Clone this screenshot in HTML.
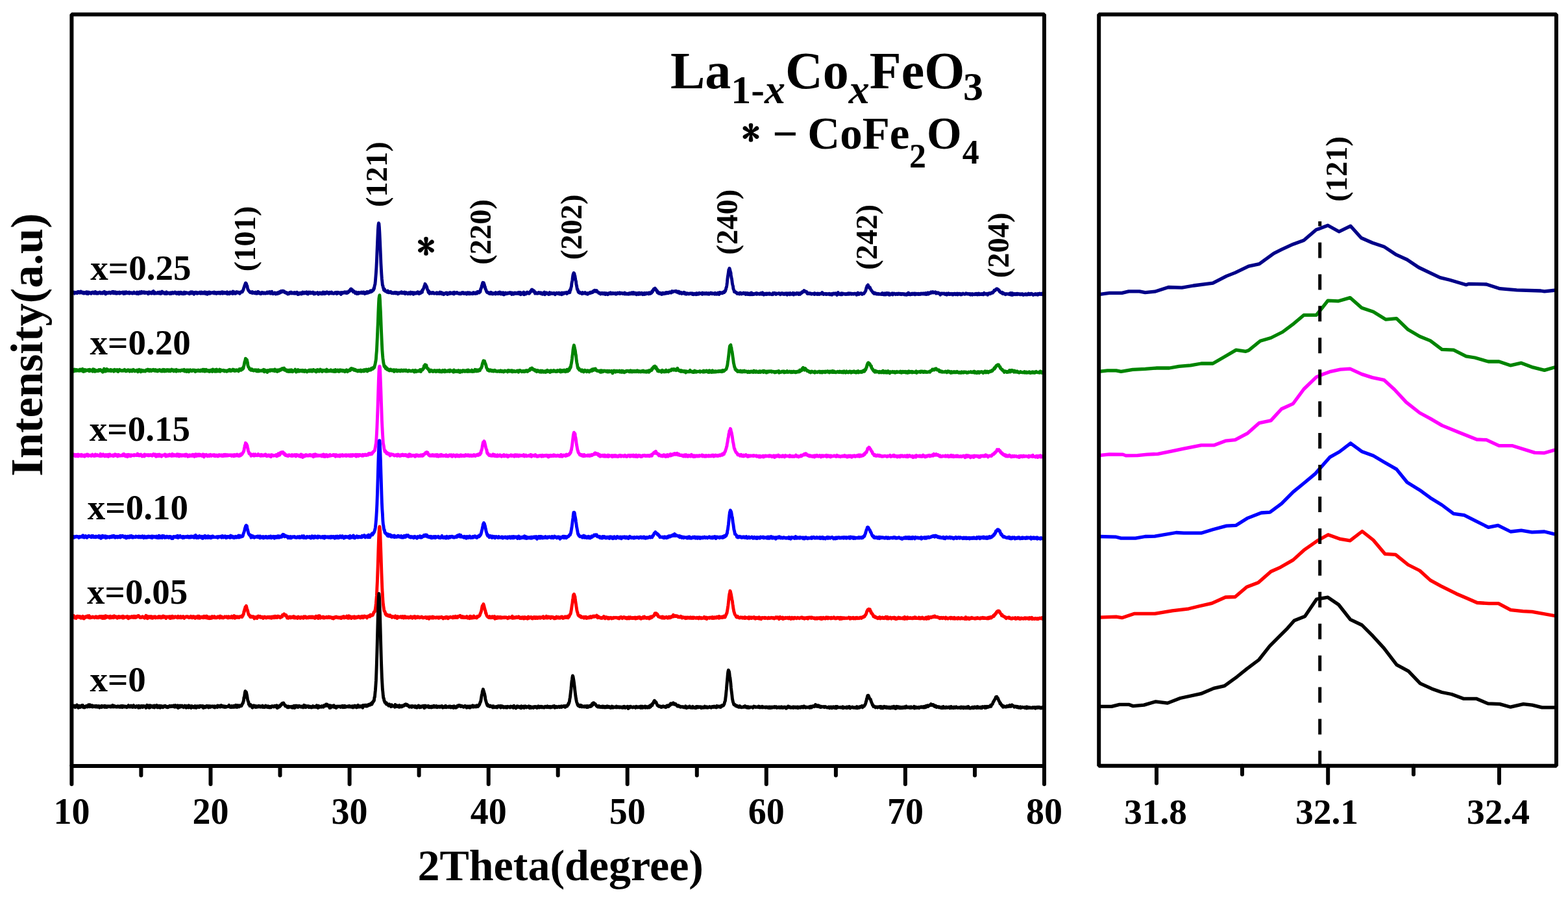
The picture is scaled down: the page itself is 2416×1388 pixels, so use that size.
<!DOCTYPE html><html><head><meta charset="utf-8"><title>XRD La1-xCoxFeO3</title><style>
html,body{margin:0;padding:0;background:#fff;width:2416px;height:1388px;overflow:hidden}
svg{display:block}text{font-family:"Liberation Serif","Times New Roman",serif;font-weight:bold;fill:#000}
</style></head><body>
<svg width="2416" height="1388" viewBox="0 0 2416 1388">
<rect width="2416" height="1388" fill="#fff"/>
<defs><clipPath id="cl"><rect x="110.4" y="22.3" width="1498.6" height="1157.7"/></clipPath>
<clipPath id="cr"><rect x="1693.2" y="22.3" width="704.8" height="1157.4"/></clipPath></defs>
<g clip-path="url(#cl)">
<polyline points="111.4,451.0 111.9,451.3 112.4,450.8 112.9,450.2 113.4,450.6 113.9,450.2 114.4,451.1 114.9,452.1 115.4,450.6 115.9,450.5 116.4,451.4 116.9,451.3 117.4,451.1 117.9,450.2 118.4,451.0 118.9,451.6 119.4,449.9 119.9,450.6 120.4,449.4 120.9,449.9 121.4,449.5 121.9,450.8 122.4,449.9 122.9,451.2 123.4,451.1 123.9,450.9 124.4,448.9 124.9,450.6 125.4,451.0 125.9,451.1 126.4,449.7 126.9,450.6 127.4,450.2 127.9,450.3 128.4,451.9 128.9,450.3 129.4,451.0 129.9,451.8 130.4,450.5 130.9,450.9 131.4,451.1 131.9,451.1 132.4,450.0 132.9,451.1 133.4,452.2 133.9,449.7 134.4,451.8 134.9,451.1 135.4,450.5 135.9,452.7 136.4,451.7 136.9,450.0 137.4,451.1 137.9,451.5 138.4,450.9 138.9,451.6 139.4,451.0 139.9,451.6 140.4,452.3 140.9,450.5 141.4,451.2 141.9,450.7 142.4,451.2 142.9,450.0 143.4,450.6 143.9,450.9 144.4,451.8 144.9,452.0 145.4,449.9 145.9,450.4 146.4,451.6 146.9,449.4 147.4,450.7 147.9,451.0 148.4,452.1 148.9,451.6 149.4,450.8 149.9,450.7 150.4,450.8 150.9,452.3 151.4,450.7 151.9,450.8 152.4,451.4 152.9,451.0 153.4,450.9 153.9,450.1 154.4,451.1 154.9,450.7 155.4,452.0 155.9,451.6 156.4,451.0 156.9,451.6 157.4,450.8 157.9,452.0 158.4,451.1 158.9,451.6 159.4,450.0 159.9,451.4 160.4,449.7 160.9,449.4 161.4,450.8 161.9,450.3 162.4,451.2 162.9,453.0 163.4,450.4 163.9,450.6 164.4,451.2 164.9,451.5 165.4,450.9 165.9,450.9 166.4,451.7 166.9,451.5 167.4,450.2 167.9,451.0 168.4,451.1 168.9,450.2 169.4,451.3 169.9,450.4 170.4,451.9 170.9,451.2 171.4,451.2 171.9,450.6 172.4,451.0 172.9,449.4 173.4,450.1 173.9,451.4 174.4,449.3 174.9,451.8 175.4,449.6 175.9,451.7 176.4,450.4 176.9,451.7 177.4,451.2 177.9,449.8 178.4,452.1 178.9,452.3 179.4,451.0 179.9,450.9 180.4,451.0 180.9,450.3 181.4,452.0 181.9,450.6 182.4,451.1 182.9,450.4 183.4,450.6 183.9,450.0 184.4,452.2 184.9,451.0 185.4,451.9 185.9,451.1 186.4,450.5 186.9,450.8 187.4,450.6 187.9,451.1 188.4,450.8 188.9,450.9 189.4,450.0 189.9,450.4 190.4,452.5 190.9,450.6 191.4,450.2 191.9,451.4 192.4,452.3 192.9,449.9 193.4,450.9 193.9,450.6 194.4,449.7 194.9,451.7 195.4,451.1 195.9,451.2 196.4,450.5 196.9,451.5 197.4,450.7 197.9,451.0 198.4,450.2 198.9,450.1 199.4,452.2 199.9,450.7 200.4,451.4 200.9,451.1 201.4,450.8 201.9,450.7 202.4,451.7 202.9,450.9 203.4,451.0 203.9,451.2 204.4,452.1 204.9,451.7 205.4,451.5 205.9,450.7 206.4,450.0 206.9,451.9 207.4,451.9 207.9,451.0 208.4,451.6 208.9,451.8 209.4,451.8 209.9,451.9 210.4,450.8 210.9,452.4 211.4,450.1 211.9,451.9 212.4,451.6 212.9,451.9 213.4,452.7 213.9,452.4 214.4,450.2 214.9,449.8 215.4,451.8 215.9,450.3 216.4,451.1 216.9,451.9 217.4,449.8 217.9,449.4 218.4,451.4 218.9,451.2 219.4,451.0 219.9,451.2 220.4,450.4 220.9,449.9 221.4,451.0 221.9,450.4 222.4,449.8 222.9,451.6 223.4,451.1 223.9,451.5 224.4,450.3 224.9,450.6 225.4,450.3 225.9,450.4 226.4,451.3 226.9,450.5 227.4,451.5 227.9,451.5 228.4,452.8 228.9,450.0 229.4,451.9 229.9,451.1 230.4,451.2 230.9,450.0 231.4,450.8 231.9,451.8 232.4,451.1 232.9,451.2 233.4,450.9 233.9,452.1 234.4,451.2 234.9,449.4 235.4,450.6 235.9,449.6 236.4,448.5 236.9,450.7 237.4,452.3 237.9,451.2 238.4,450.2 238.9,450.4 239.4,452.1 239.9,451.3 240.4,451.2 240.9,451.1 241.4,451.2 241.9,451.9 242.4,451.6 242.9,451.4 243.4,450.3 243.9,451.6 244.4,450.6 244.9,452.1 245.4,450.2 245.9,451.1 246.4,451.2 246.9,450.1 247.4,452.6 247.9,452.4 248.4,450.8 248.9,451.8 249.4,451.5 249.9,449.1 250.4,451.4 250.9,451.2 251.4,451.3 251.9,450.3 252.4,451.0 252.9,451.1 253.4,452.2 253.9,451.5 254.4,451.2 254.9,452.5 255.4,450.8 255.9,450.9 256.4,449.7 256.9,452.5 257.4,452.0 257.9,452.0 258.4,451.8 258.9,451.3 259.4,451.4 259.9,451.0 260.4,451.1 260.9,451.3 261.4,452.5 261.9,451.7 262.4,451.2 262.9,450.7 263.4,450.7 263.9,452.5 264.4,451.6 264.9,451.3 265.4,450.9 265.9,450.3 266.4,451.2 266.9,451.9 267.4,450.9 267.9,451.0 268.4,451.1 268.9,451.3 269.4,449.9 269.9,451.0 270.4,450.5 270.9,452.0 271.4,450.6 271.9,451.7 272.4,452.5 272.9,451.0 273.4,450.7 273.9,451.4 274.4,451.2 274.9,450.4 275.4,451.6 275.9,452.9 276.4,451.0 276.9,451.1 277.4,450.4 277.9,451.5 278.4,450.2 278.9,450.3 279.4,452.3 279.9,450.5 280.4,452.1 280.9,452.5 281.4,451.5 281.9,451.7 282.4,452.8 282.9,451.1 283.4,450.8 283.9,450.1 284.4,451.3 284.9,452.5 285.4,452.0 285.9,450.5 286.4,450.6 286.9,450.8 287.4,451.5 287.9,451.1 288.4,451.4 288.9,451.5 289.4,451.0 289.9,451.2 290.4,451.4 290.9,451.2 291.4,451.7 291.9,452.8 292.4,451.7 292.9,451.3 293.4,449.9 293.9,451.6 294.4,449.7 294.9,450.1 295.4,452.0 295.9,451.8 296.4,451.1 296.9,449.9 297.4,451.0 297.9,450.7 298.4,451.8 298.9,453.1 299.4,451.4 299.9,450.6 300.4,450.3 300.9,451.2 301.4,451.1 301.9,450.3 302.4,451.4 302.9,450.3 303.4,452.2 303.9,452.1 304.4,452.2 304.9,450.9 305.4,451.7 305.9,451.2 306.4,451.0 306.9,451.0 307.4,450.2 307.9,450.1 308.4,451.9 308.9,451.1 309.4,451.5 309.9,452.1 310.4,449.9 310.9,450.7 311.4,451.4 311.9,451.6 312.4,451.0 312.9,452.1 313.4,451.5 313.9,450.3 314.4,450.5 314.9,451.9 315.4,451.7 315.9,449.8 316.4,452.4 316.9,451.8 317.4,452.4 317.9,451.0 318.4,451.1 318.9,450.4 319.4,453.3 319.9,451.2 320.4,452.6 320.9,450.8 321.4,451.4 321.9,449.9 322.4,451.0 322.9,452.1 323.4,450.3 323.9,452.2 324.4,451.6 324.9,450.5 325.4,450.9 325.9,450.9 326.4,451.3 326.9,450.9 327.4,450.6 327.9,451.1 328.4,450.5 328.9,450.3 329.4,451.3 329.9,452.0 330.4,450.1 330.9,451.3 331.4,450.8 331.9,450.5 332.4,452.0 332.9,450.9 333.4,452.5 333.9,450.7 334.4,451.6 334.9,451.1 335.4,450.7 335.9,451.8 336.4,451.2 336.9,451.8 337.4,451.3 337.9,450.4 338.4,451.2 338.9,451.3 339.4,452.1 339.9,450.6 340.4,451.3 340.9,449.9 341.4,451.8 341.9,450.4 342.4,449.9 342.9,451.3 343.4,452.2 343.9,450.1 344.4,450.4 344.9,450.7 345.4,450.4 345.9,451.6 346.4,450.7 346.9,450.7 347.4,451.8 347.9,450.7 348.4,451.6 348.9,450.5 349.4,450.3 349.9,449.8 350.4,452.8 350.9,451.0 351.4,451.5 351.9,451.3 352.4,451.4 352.9,451.3 353.4,452.8 353.9,450.4 354.4,450.0 354.9,450.5 355.4,450.2 355.9,451.9 356.4,451.9 356.9,450.5 357.4,450.1 357.9,451.0 358.4,452.4 358.9,449.0 359.4,451.7 359.9,450.4 360.4,452.1 360.9,450.4 361.4,451.0 361.9,450.0 362.4,450.4 362.9,452.3 363.4,451.8 363.9,450.8 364.4,450.4 364.9,449.6 365.4,450.8 365.9,451.1 366.4,451.0 366.9,451.0 367.4,450.1 367.9,450.9 368.4,450.9 368.9,451.9 369.4,452.3 369.9,450.7 370.4,450.1 370.9,450.5 371.4,450.0 371.9,449.7 372.4,450.0 372.9,448.8 373.4,449.6 373.9,448.4 374.4,447.8 374.9,446.4 375.4,444.6 375.9,442.9 376.4,441.8 376.9,439.9 377.4,438.9 377.9,437.6 378.4,435.9 378.9,437.1 379.4,436.7 379.9,438.5 380.4,440.3 380.9,440.6 381.4,444.0 381.9,445.5 382.4,446.6 382.9,447.4 383.4,448.3 383.9,448.4 384.4,449.5 384.9,449.6 385.4,450.4 385.9,449.5 386.4,450.8 386.9,450.8 387.4,450.7 387.9,450.5 388.4,451.3 388.9,449.6 389.4,451.4 389.9,451.2 390.4,451.3 390.9,451.4 391.4,450.6 391.9,450.9 392.4,451.7 392.9,451.5 393.4,451.4 393.9,450.0 394.4,451.6 394.9,452.2 395.4,452.0 395.9,451.4 396.4,450.0 396.9,452.0 397.4,451.2 397.9,449.3 398.4,451.6 398.9,450.1 399.4,450.3 399.9,450.8 400.4,452.3 400.9,451.0 401.4,451.5 401.9,452.7 402.4,452.6 402.9,451.3 403.4,451.1 403.9,450.3 404.4,450.8 404.9,451.7 405.4,451.7 405.9,451.4 406.4,452.1 406.9,450.8 407.4,451.3 407.9,451.9 408.4,451.8 408.9,452.2 409.4,451.7 409.9,451.1 410.4,451.7 410.9,450.6 411.4,450.1 411.9,451.8 412.4,451.3 412.9,451.6 413.4,450.0 413.9,451.1 414.4,450.9 414.9,450.7 415.4,449.6 415.9,451.1 416.4,452.1 416.9,451.7 417.4,450.9 417.9,451.4 418.4,452.0 418.9,449.2 419.4,451.3 419.9,451.8 420.4,451.9 420.9,452.7 421.4,452.3 421.9,451.6 422.4,451.6 422.9,452.0 423.4,450.9 423.9,451.3 424.4,452.1 424.9,452.9 425.4,451.2 425.9,451.3 426.4,451.5 426.9,452.4 427.4,451.3 427.9,452.4 428.4,450.5 428.9,451.1 429.4,451.0 429.9,451.7 430.4,451.8 430.9,449.6 431.4,449.9 431.9,450.7 432.4,449.6 432.9,448.6 433.4,450.2 433.9,449.5 434.4,449.2 434.9,448.2 435.4,449.3 435.9,448.3 436.4,449.5 436.9,448.2 437.4,448.6 437.9,449.8 438.4,449.4 438.9,450.8 439.4,450.7 439.9,450.0 440.4,450.9 440.9,450.7 441.4,451.8 441.9,450.7 442.4,450.9 442.9,452.2 443.4,453.1 443.9,452.9 444.4,451.4 444.9,451.5 445.4,452.6 445.9,451.3 446.4,450.6 446.9,451.5 447.4,451.8 447.9,450.8 448.4,450.1 448.9,450.3 449.4,451.9 449.9,450.8 450.4,451.3 450.9,451.6 451.4,451.9 451.9,451.2 452.4,451.8 452.9,450.8 453.4,451.2 453.9,450.7 454.4,452.3 454.9,451.4 455.4,450.9 455.9,451.2 456.4,451.3 456.9,452.0 457.4,450.2 457.9,450.7 458.4,451.2 458.9,453.5 459.4,452.2 459.9,451.4 460.4,452.0 460.9,453.1 461.4,451.3 461.9,451.2 462.4,452.4 462.9,451.9 463.4,452.0 463.9,451.1 464.4,453.0 464.9,452.8 465.4,451.9 465.9,452.0 466.4,449.9 466.9,452.0 467.4,451.3 467.9,451.8 468.4,452.0 468.9,451.2 469.4,450.2 469.9,451.8 470.4,450.9 470.9,451.2 471.4,451.0 471.9,451.2 472.4,449.7 472.9,452.4 473.4,451.7 473.9,452.4 474.4,453.0 474.9,451.5 475.4,450.1 475.9,450.8 476.4,450.6 476.9,451.1 477.4,451.6 477.9,450.0 478.4,451.8 478.9,450.3 479.4,451.7 479.9,451.4 480.4,451.3 480.9,451.5 481.4,451.1 481.9,451.0 482.4,450.2 482.9,451.5 483.4,452.9 483.9,453.0 484.4,452.5 484.9,452.1 485.4,451.0 485.9,452.6 486.4,451.5 486.9,451.5 487.4,451.3 487.9,451.6 488.4,451.2 488.9,451.5 489.4,450.7 489.9,451.2 490.4,453.3 490.9,451.5 491.4,451.3 491.9,451.9 492.4,452.1 492.9,450.7 493.4,451.4 493.9,452.2 494.4,451.7 494.9,451.6 495.4,452.7 495.9,451.0 496.4,451.6 496.9,451.1 497.4,452.7 497.9,450.0 498.4,451.0 498.9,451.1 499.4,452.0 499.9,452.0 500.4,452.6 500.9,450.3 501.4,452.1 501.9,451.3 502.4,451.0 502.9,451.9 503.4,450.8 503.9,449.9 504.4,451.2 504.9,450.4 505.4,451.0 505.9,451.8 506.4,451.8 506.9,452.7 507.4,451.4 507.9,450.3 508.4,450.9 508.9,450.8 509.4,450.6 509.9,451.8 510.4,451.0 510.9,450.0 511.4,452.0 511.9,451.4 512.4,451.8 512.9,451.6 513.4,452.0 513.9,451.5 514.4,452.4 514.9,451.8 515.4,451.8 515.9,451.8 516.4,450.4 516.9,451.4 517.4,451.3 517.9,451.6 518.4,450.4 518.9,452.7 519.4,451.6 519.9,450.5 520.4,450.2 520.9,451.2 521.4,451.4 521.9,450.9 522.4,451.5 522.9,451.0 523.4,451.9 523.9,450.9 524.4,451.4 524.9,452.2 525.4,453.4 525.9,450.6 526.4,451.1 526.9,450.8 527.4,452.0 527.9,450.5 528.4,451.0 528.9,451.3 529.4,450.6 529.9,450.6 530.4,450.9 530.9,449.7 531.4,450.2 531.9,450.9 532.4,451.3 532.9,451.0 533.4,449.8 533.9,450.7 534.4,451.6 534.9,451.3 535.4,450.6 535.9,449.8 536.4,450.6 536.9,449.3 537.4,448.4 537.9,448.1 538.4,449.1 538.9,447.5 539.4,447.5 539.9,445.7 540.4,446.3 540.9,445.0 541.4,445.4 541.9,447.7 542.4,446.9 542.9,446.5 543.4,447.5 543.9,448.5 544.4,449.8 544.9,449.0 545.4,448.5 545.9,449.9 546.4,450.4 546.9,450.7 547.4,451.8 547.9,451.1 548.4,451.6 548.9,450.1 549.4,451.7 549.9,452.6 550.4,451.7 550.9,451.3 551.4,451.2 551.9,452.5 552.4,450.4 552.9,451.0 553.4,451.4 553.9,451.7 554.4,450.8 554.9,451.3 555.4,450.9 555.9,451.2 556.4,450.9 556.9,450.2 557.4,451.0 557.9,451.7 558.4,450.2 558.9,450.8 559.4,451.4 559.9,450.1 560.4,451.0 560.9,450.1 561.4,451.7 561.9,452.6 562.4,452.3 562.9,450.6 563.4,451.2 563.9,450.7 564.4,450.7 564.9,451.7 565.4,449.5 565.9,451.2 566.4,450.3 566.9,451.3 567.4,450.3 567.9,449.6 568.4,450.2 568.9,450.4 569.4,449.8 569.9,450.0 570.4,449.1 570.9,447.7 571.4,449.8 571.9,449.4 572.4,448.8 572.9,448.4 573.4,448.8 573.9,447.3 574.4,446.7 574.9,446.5 575.4,446.9 575.9,444.1 576.4,444.9 576.9,441.9 577.4,439.3 577.9,438.1 578.4,432.9 578.9,426.6 579.4,420.3 579.9,412.6 580.4,402.5 580.9,389.6 581.4,377.7 581.9,365.7 582.4,354.1 582.9,347.3 583.4,343.8 583.9,344.6 584.4,350.0 584.9,359.0 585.4,369.7 585.9,381.2 586.4,393.2 586.9,405.4 587.4,414.4 587.9,423.0 588.4,429.7 588.9,434.3 589.4,439.4 589.9,439.9 590.4,443.2 590.9,443.9 591.4,446.7 591.9,447.4 592.4,445.4 592.9,446.6 593.4,448.3 593.9,448.7 594.4,449.0 594.9,448.7 595.4,449.3 595.9,449.7 596.4,449.3 596.9,450.3 597.4,448.0 597.9,450.3 598.4,449.2 598.9,450.8 599.4,450.0 599.9,449.6 600.4,450.6 600.9,449.7 601.4,449.8 601.9,449.4 602.4,450.6 602.9,451.0 603.4,451.5 603.9,450.7 604.4,451.6 604.9,450.9 605.4,450.8 605.9,451.4 606.4,451.8 606.9,450.7 607.4,450.9 607.9,450.9 608.4,451.2 608.9,450.4 609.4,451.9 609.9,450.9 610.4,451.5 610.9,450.6 611.4,451.5 611.9,451.5 612.4,450.9 612.9,452.8 613.4,451.6 613.9,452.6 614.4,452.0 614.9,450.8 615.4,451.1 615.9,451.7 616.4,451.4 616.9,451.4 617.4,451.2 617.9,450.0 618.4,451.2 618.9,449.8 619.4,451.7 619.9,450.9 620.4,450.9 620.9,451.3 621.4,451.7 621.9,450.4 622.4,450.2 622.9,450.7 623.4,450.0 623.9,450.8 624.4,452.7 624.9,450.7 625.4,452.0 625.9,450.5 626.4,451.7 626.9,451.3 627.4,451.5 627.9,451.9 628.4,452.8 628.9,451.7 629.4,451.6 629.9,450.8 630.4,452.0 630.9,451.3 631.4,452.1 631.9,451.5 632.4,452.8 632.9,450.1 633.4,451.3 633.9,452.2 634.4,451.3 634.9,450.9 635.4,451.3 635.9,450.5 636.4,451.6 636.9,453.3 637.4,452.4 637.9,450.7 638.4,450.8 638.9,451.2 639.4,452.2 639.9,450.9 640.4,451.0 640.9,452.1 641.4,452.1 641.9,451.1 642.4,450.6 642.9,450.2 643.4,450.8 643.9,449.7 644.4,451.9 644.9,450.8 645.4,451.6 645.9,452.6 646.4,452.0 646.9,450.2 647.4,451.6 647.9,451.7 648.4,450.1 648.9,449.8 649.4,450.1 649.9,448.5 650.4,450.3 650.9,446.6 651.4,446.7 651.9,446.1 652.4,444.9 652.9,443.7 653.4,442.3 653.9,440.5 654.4,440.4 654.9,437.3 655.4,438.8 655.9,438.6 656.4,440.0 656.9,441.1 657.4,441.6 657.9,443.2 658.4,445.7 658.9,446.6 659.4,447.0 659.9,449.9 660.4,450.8 660.9,448.6 661.4,450.4 661.9,452.3 662.4,451.3 662.9,451.0 663.4,450.9 663.9,450.7 664.4,451.0 664.9,450.8 665.4,451.9 665.9,451.1 666.4,451.1 666.9,450.5 667.4,451.4 667.9,450.8 668.4,451.4 668.9,452.3 669.4,451.8 669.9,451.9 670.4,451.8 670.9,451.6 671.4,451.5 671.9,451.4 672.4,452.2 672.9,450.8 673.4,452.6 673.9,451.7 674.4,451.1 674.9,451.3 675.4,451.2 675.9,451.8 676.4,451.2 676.9,452.5 677.4,451.1 677.9,450.0 678.4,451.2 678.9,450.2 679.4,451.7 679.9,452.5 680.4,452.2 680.9,450.8 681.4,451.2 681.9,453.1 682.4,452.0 682.9,451.8 683.4,452.5 683.9,453.6 684.4,452.7 684.9,451.9 685.4,452.0 685.9,452.2 686.4,451.3 686.9,451.0 687.4,451.8 687.9,451.1 688.4,451.7 688.9,451.9 689.4,453.5 689.9,451.2 690.4,451.7 690.9,451.7 691.4,452.1 691.9,452.6 692.4,451.4 692.9,451.2 693.4,450.6 693.9,451.1 694.4,452.2 694.9,451.8 695.4,451.1 695.9,451.5 696.4,451.8 696.9,452.2 697.4,451.4 697.9,451.6 698.4,450.5 698.9,451.0 699.4,453.0 699.9,450.2 700.4,451.6 700.9,452.0 701.4,451.5 701.9,451.2 702.4,451.8 702.9,451.8 703.4,451.8 703.9,450.4 704.4,451.7 704.9,451.2 705.4,451.4 705.9,452.0 706.4,452.3 706.9,452.5 707.4,451.5 707.9,452.5 708.4,452.7 708.9,452.6 709.4,452.8 709.9,451.7 710.4,451.7 710.9,452.4 711.4,450.8 711.9,452.0 712.4,451.4 712.9,451.5 713.4,450.5 713.9,451.2 714.4,451.8 714.9,452.5 715.4,452.5 715.9,451.7 716.4,451.7 716.9,451.2 717.4,452.1 717.9,451.6 718.4,452.2 718.9,453.1 719.4,451.8 719.9,450.7 720.4,451.2 720.9,450.7 721.4,450.9 721.9,452.7 722.4,451.9 722.9,450.7 723.4,452.2 723.9,452.7 724.4,451.5 724.9,451.3 725.4,451.5 725.9,451.9 726.4,452.2 726.9,452.6 727.4,452.6 727.9,452.5 728.4,452.7 728.9,452.1 729.4,450.5 729.9,451.5 730.4,451.8 730.9,451.3 731.4,452.2 731.9,451.3 732.4,450.8 732.9,452.5 733.4,451.9 733.9,451.6 734.4,452.0 734.9,452.1 735.4,451.5 735.9,449.3 736.4,450.5 736.9,450.5 737.4,450.0 737.9,450.6 738.4,450.9 738.9,449.2 739.4,448.1 739.9,449.5 740.4,446.6 740.9,444.7 741.4,444.2 741.9,442.5 742.4,439.8 742.9,439.1 743.4,436.6 743.9,435.2 744.4,435.6 744.9,436.2 745.4,435.9 745.9,437.7 746.4,438.9 746.9,442.7 747.4,441.9 747.9,445.0 748.4,445.5 748.9,446.8 749.4,448.5 749.9,449.5 750.4,450.4 750.9,450.2 751.4,449.9 751.9,450.3 752.4,451.2 752.9,451.4 753.4,452.1 753.9,451.5 754.4,452.1 754.9,452.5 755.4,451.5 755.9,450.4 756.4,450.7 756.9,450.5 757.4,452.7 757.9,451.0 758.4,452.5 758.9,452.1 759.4,452.9 759.9,452.4 760.4,451.6 760.9,451.6 761.4,451.8 761.9,451.9 762.4,451.4 762.9,451.8 763.4,452.9 763.9,450.6 764.4,452.0 764.9,451.2 765.4,452.0 765.9,452.4 766.4,451.8 766.9,452.4 767.4,450.7 767.9,452.7 768.4,451.4 768.9,452.3 769.4,452.0 769.9,450.0 770.4,451.3 770.9,452.0 771.4,453.0 771.9,452.1 772.4,452.1 772.9,450.9 773.4,452.9 773.9,453.2 774.4,451.9 774.9,451.8 775.4,450.8 775.9,452.6 776.4,453.9 776.9,452.4 777.4,452.8 777.9,452.3 778.4,451.2 778.9,452.9 779.4,451.0 779.9,451.8 780.4,452.1 780.9,452.6 781.4,452.2 781.9,452.2 782.4,451.4 782.9,451.0 783.4,452.0 783.9,451.4 784.4,451.0 784.9,451.0 785.4,451.6 785.9,450.6 786.4,451.0 786.9,450.8 787.4,452.1 787.9,452.2 788.4,453.4 788.9,450.9 789.4,451.5 789.9,452.6 790.4,451.8 790.9,451.7 791.4,453.2 791.9,451.7 792.4,451.1 792.9,451.0 793.4,452.2 793.9,452.2 794.4,451.0 794.9,451.3 795.4,452.3 795.9,452.4 796.4,451.5 796.9,452.4 797.4,452.4 797.9,450.7 798.4,451.7 798.9,452.3 799.4,451.5 799.9,450.4 800.4,451.8 800.9,452.5 801.4,453.1 801.9,450.4 802.4,453.8 802.9,451.1 803.4,452.6 803.9,452.8 804.4,452.6 804.9,452.0 805.4,451.1 805.9,452.4 806.4,451.4 806.9,450.1 807.4,453.9 807.9,452.4 808.4,453.2 808.9,451.2 809.4,452.9 809.9,453.0 810.4,452.9 810.9,451.8 811.4,450.9 811.9,451.6 812.4,450.1 812.9,450.4 813.4,451.6 813.9,450.7 814.4,451.2 814.9,451.0 815.4,452.2 815.9,451.4 816.4,450.1 816.9,450.5 817.4,448.5 817.9,448.3 818.4,448.6 818.9,446.6 819.4,447.0 819.9,446.1 820.4,447.2 820.9,448.4 821.4,447.1 821.9,448.2 822.4,447.9 822.9,448.2 823.4,448.6 823.9,451.0 824.4,452.1 824.9,451.1 825.4,450.5 825.9,451.7 826.4,451.2 826.9,452.1 827.4,451.8 827.9,451.9 828.4,452.2 828.9,451.4 829.4,451.5 829.9,450.6 830.4,451.5 830.9,450.9 831.4,451.8 831.9,451.2 832.4,452.0 832.9,452.2 833.4,450.9 833.9,451.4 834.4,451.3 834.9,452.5 835.4,453.2 835.9,452.6 836.4,451.7 836.9,453.0 837.4,450.9 837.9,453.0 838.4,451.5 838.9,450.0 839.4,453.8 839.9,453.1 840.4,451.3 840.9,452.1 841.4,451.8 841.9,452.1 842.4,450.9 842.9,451.5 843.4,452.3 843.9,452.1 844.4,452.8 844.9,452.0 845.4,453.6 845.9,451.5 846.4,452.2 846.9,450.6 847.4,451.1 847.9,452.9 848.4,451.3 848.9,452.4 849.4,451.9 849.9,451.3 850.4,451.7 850.9,451.6 851.4,451.6 851.9,452.5 852.4,452.4 852.9,451.6 853.4,451.3 853.9,452.2 854.4,451.9 854.9,452.7 855.4,453.8 855.9,452.5 856.4,451.9 856.9,451.8 857.4,451.3 857.9,451.3 858.4,451.2 858.9,451.6 859.4,451.6 859.9,452.4 860.4,451.6 860.9,451.8 861.4,451.0 861.9,453.0 862.4,452.2 862.9,453.1 863.4,452.4 863.9,452.9 864.4,451.6 864.9,452.3 865.4,453.7 865.9,450.9 866.4,452.6 866.9,452.9 867.4,452.0 867.9,452.2 868.4,452.5 868.9,451.1 869.4,451.9 869.9,450.9 870.4,451.0 870.9,451.0 871.4,451.3 871.9,451.5 872.4,451.6 872.9,450.2 873.4,452.5 873.9,451.9 874.4,451.4 874.9,450.5 875.4,450.6 875.9,450.8 876.4,450.4 876.9,448.6 877.4,449.9 877.9,450.7 878.4,446.4 878.9,447.3 879.4,445.2 879.9,442.8 880.4,441.4 880.9,436.6 881.4,434.2 881.9,431.6 882.4,426.9 882.9,423.7 883.4,421.9 883.9,420.4 884.4,421.9 884.9,421.2 885.4,424.2 885.9,425.0 886.4,429.1 886.9,431.6 887.4,433.0 887.9,437.8 888.4,439.7 888.9,442.5 889.4,445.9 889.9,445.5 890.4,446.8 890.9,449.5 891.4,449.3 891.9,450.8 892.4,450.3 892.9,449.8 893.4,450.6 893.9,451.7 894.4,451.6 894.9,451.0 895.4,451.2 895.9,451.1 896.4,450.9 896.9,452.7 897.4,451.4 897.9,450.7 898.4,451.2 898.9,452.1 899.4,452.0 899.9,451.5 900.4,451.2 900.9,451.7 901.4,450.5 901.9,450.8 902.4,452.3 902.9,451.4 903.4,452.0 903.9,452.6 904.4,452.2 904.9,451.8 905.4,453.3 905.9,452.3 906.4,451.5 906.9,452.3 907.4,452.1 907.9,451.2 908.4,451.8 908.9,451.6 909.4,450.3 909.9,451.5 910.4,451.3 910.9,451.1 911.4,450.1 911.9,450.8 912.4,450.7 912.9,450.5 913.4,449.2 913.9,450.0 914.4,448.2 914.9,448.4 915.4,449.0 915.9,447.3 916.4,447.3 916.9,448.4 917.4,447.5 917.9,447.8 918.4,448.4 918.9,449.4 919.4,447.5 919.9,448.9 920.4,449.2 920.9,449.6 921.4,450.1 921.9,450.4 922.4,451.4 922.9,450.8 923.4,451.7 923.9,452.0 924.4,451.3 924.9,451.9 925.4,453.0 925.9,452.2 926.4,451.5 926.9,451.9 927.4,451.4 927.9,452.2 928.4,452.6 928.9,451.5 929.4,451.9 929.9,452.8 930.4,451.7 930.9,452.2 931.4,451.4 931.9,451.5 932.4,451.7 932.9,453.6 933.4,451.8 933.9,451.8 934.4,451.7 934.9,452.0 935.4,452.6 935.9,452.3 936.4,453.6 936.9,452.3 937.4,453.1 937.9,452.3 938.4,452.6 938.9,451.2 939.4,452.1 939.9,452.1 940.4,452.0 940.9,450.7 941.4,452.8 941.9,451.9 942.4,451.9 942.9,452.0 943.4,452.0 943.9,452.5 944.4,451.3 944.9,451.6 945.4,452.4 945.9,452.3 946.4,451.9 946.9,451.8 947.4,451.6 947.9,452.2 948.4,453.0 948.9,451.5 949.4,453.2 949.9,452.8 950.4,451.9 950.9,452.7 951.4,451.2 951.9,451.0 952.4,451.3 952.9,451.9 953.4,452.0 953.9,451.9 954.4,452.3 954.9,450.8 955.4,452.6 955.9,451.3 956.4,451.8 956.9,451.9 957.4,451.4 957.9,451.3 958.4,451.5 958.9,452.2 959.4,452.6 959.9,452.6 960.4,451.6 960.9,451.7 961.4,451.6 961.9,452.5 962.4,450.9 962.9,453.1 963.4,451.9 963.9,451.7 964.4,452.5 964.9,452.9 965.4,452.5 965.9,453.0 966.4,452.3 966.9,453.1 967.4,453.1 967.9,452.2 968.4,453.2 968.9,452.4 969.4,452.3 969.9,451.6 970.4,452.1 970.9,452.8 971.4,451.4 971.9,452.7 972.4,452.5 972.9,452.4 973.4,450.8 973.9,452.2 974.4,452.7 974.9,451.7 975.4,452.3 975.9,450.6 976.4,452.7 976.9,451.8 977.4,452.8 977.9,451.0 978.4,452.7 978.9,452.1 979.4,452.8 979.9,451.6 980.4,451.8 980.9,453.8 981.4,451.7 981.9,451.8 982.4,452.1 982.9,451.5 983.4,453.0 983.9,453.4 984.4,451.8 984.9,451.1 985.4,453.0 985.9,453.0 986.4,452.8 986.9,453.0 987.4,451.6 987.9,452.1 988.4,451.3 988.9,451.3 989.4,452.9 989.9,451.8 990.4,453.7 990.9,452.2 991.4,451.8 991.9,452.7 992.4,453.4 992.9,452.5 993.4,451.4 993.9,452.4 994.4,453.1 994.9,451.8 995.4,451.6 995.9,452.8 996.4,452.2 996.9,451.4 997.4,451.8 997.9,451.5 998.4,452.2 998.9,452.1 999.4,452.8 999.9,452.4 1000.4,450.8 1000.9,452.1 1001.4,452.4 1001.9,452.0 1002.4,452.2 1002.9,450.9 1003.4,450.4 1003.9,451.3 1004.4,449.5 1004.9,448.2 1005.4,449.7 1005.9,447.8 1006.4,447.2 1006.9,445.7 1007.4,445.1 1007.9,444.7 1008.4,445.0 1008.9,445.5 1009.4,444.0 1009.9,446.3 1010.4,445.5 1010.9,446.1 1011.4,447.8 1011.9,448.0 1012.4,447.7 1012.9,450.5 1013.4,449.3 1013.9,450.5 1014.4,450.8 1014.9,452.0 1015.4,451.0 1015.9,452.1 1016.4,451.1 1016.9,452.4 1017.4,451.3 1017.9,451.6 1018.4,453.1 1018.9,452.1 1019.4,452.0 1019.9,453.4 1020.4,452.2 1020.9,451.4 1021.4,452.4 1021.9,451.2 1022.4,452.7 1022.9,452.7 1023.4,451.5 1023.9,451.5 1024.4,452.0 1024.9,451.9 1025.4,451.2 1025.9,452.2 1026.4,450.4 1026.9,451.4 1027.4,451.4 1027.9,451.4 1028.4,451.7 1028.9,450.6 1029.4,451.7 1029.9,451.1 1030.4,450.7 1030.9,450.1 1031.4,450.0 1031.9,450.9 1032.4,449.9 1032.9,450.4 1033.4,450.9 1033.9,450.7 1034.4,450.9 1034.9,449.4 1035.4,448.7 1035.9,450.0 1036.4,449.3 1036.9,449.7 1037.4,448.8 1037.9,449.4 1038.4,449.1 1038.9,448.9 1039.4,448.7 1039.9,448.6 1040.4,448.5 1040.9,448.6 1041.4,449.2 1041.9,448.3 1042.4,449.9 1042.9,448.8 1043.4,449.7 1043.9,449.2 1044.4,449.2 1044.9,450.9 1045.4,449.6 1045.9,449.1 1046.4,449.7 1046.9,450.1 1047.4,451.9 1047.9,450.8 1048.4,451.5 1048.9,450.3 1049.4,451.3 1049.9,451.7 1050.4,452.5 1050.9,451.0 1051.4,451.9 1051.9,451.8 1052.4,451.0 1052.9,451.8 1053.4,451.7 1053.9,450.3 1054.4,452.3 1054.9,452.3 1055.4,451.7 1055.9,451.2 1056.4,453.0 1056.9,452.3 1057.4,452.8 1057.9,453.1 1058.4,451.8 1058.9,452.7 1059.4,452.0 1059.9,452.1 1060.4,452.1 1060.9,452.2 1061.4,453.0 1061.9,452.3 1062.4,452.1 1062.9,452.1 1063.4,452.5 1063.9,451.7 1064.4,451.9 1064.9,452.2 1065.4,451.9 1065.9,452.2 1066.4,451.9 1066.9,453.6 1067.4,453.2 1067.9,452.6 1068.4,452.3 1068.9,453.7 1069.4,452.5 1069.9,452.2 1070.4,452.5 1070.9,452.5 1071.4,453.2 1071.9,452.3 1072.4,453.7 1072.9,451.7 1073.4,452.8 1073.9,451.7 1074.4,453.5 1074.9,452.1 1075.4,452.3 1075.9,452.9 1076.4,453.2 1076.9,451.6 1077.4,452.1 1077.9,451.4 1078.4,452.4 1078.9,452.3 1079.4,452.1 1079.9,451.9 1080.4,452.1 1080.9,451.8 1081.4,452.7 1081.9,453.3 1082.4,451.1 1082.9,452.3 1083.4,452.1 1083.9,452.7 1084.4,451.7 1084.9,452.2 1085.4,451.7 1085.9,452.8 1086.4,452.4 1086.9,452.2 1087.4,452.6 1087.9,452.2 1088.4,451.3 1088.9,452.7 1089.4,452.5 1089.9,452.2 1090.4,453.0 1090.9,453.1 1091.4,451.6 1091.9,451.8 1092.4,453.3 1092.9,453.2 1093.4,451.8 1093.9,451.5 1094.4,451.9 1094.9,452.0 1095.4,451.2 1095.9,452.3 1096.4,451.4 1096.9,451.5 1097.4,452.8 1097.9,451.8 1098.4,452.2 1098.9,452.6 1099.4,452.7 1099.9,452.0 1100.4,452.2 1100.9,451.6 1101.4,453.3 1101.9,452.6 1102.4,451.4 1102.9,452.1 1103.4,452.6 1103.9,452.4 1104.4,453.3 1104.9,452.9 1105.4,451.7 1105.9,451.9 1106.4,451.1 1106.9,452.1 1107.4,452.0 1107.9,453.6 1108.4,451.9 1108.9,450.4 1109.4,451.3 1109.9,451.8 1110.4,450.8 1110.9,451.0 1111.4,451.3 1111.9,451.7 1112.4,451.2 1112.9,450.7 1113.4,451.6 1113.9,450.6 1114.4,450.5 1114.9,449.7 1115.4,449.9 1115.9,450.5 1116.4,448.6 1116.9,449.1 1117.4,448.8 1117.9,447.0 1118.4,446.0 1118.9,443.2 1119.4,442.4 1119.9,439.3 1120.4,435.1 1120.9,429.8 1121.4,425.9 1121.9,422.8 1122.4,419.4 1122.9,415.5 1123.4,414.6 1123.9,413.2 1124.4,414.5 1124.9,416.3 1125.4,418.7 1125.9,419.8 1126.4,424.1 1126.9,427.5 1127.4,429.2 1127.9,432.5 1128.4,436.8 1128.9,439.1 1129.4,440.5 1129.9,444.7 1130.4,446.0 1130.9,446.9 1131.4,449.6 1131.9,449.2 1132.4,449.2 1132.9,450.2 1133.4,449.8 1133.9,450.2 1134.4,451.1 1134.9,450.7 1135.4,450.9 1135.9,452.4 1136.4,452.0 1136.9,452.0 1137.4,451.9 1137.9,452.0 1138.4,452.7 1138.9,451.8 1139.4,453.0 1139.9,451.3 1140.4,451.8 1140.9,451.1 1141.4,451.8 1141.9,452.4 1142.4,453.0 1142.9,451.7 1143.4,452.1 1143.9,451.9 1144.4,451.7 1144.9,451.4 1145.4,452.2 1145.9,451.1 1146.4,452.3 1146.9,452.3 1147.4,451.8 1147.9,451.6 1148.4,451.4 1148.9,453.5 1149.4,451.5 1149.9,453.3 1150.4,452.7 1150.9,452.1 1151.4,451.6 1151.9,453.0 1152.4,453.5 1152.9,451.8 1153.4,452.2 1153.9,453.1 1154.4,452.6 1154.9,453.7 1155.4,452.1 1155.9,452.8 1156.4,451.6 1156.9,453.8 1157.4,452.0 1157.9,451.0 1158.4,452.4 1158.9,452.4 1159.4,453.7 1159.9,452.2 1160.4,452.5 1160.9,452.9 1161.4,453.5 1161.9,452.4 1162.4,453.1 1162.9,452.8 1163.4,452.3 1163.9,452.5 1164.4,452.5 1164.9,451.9 1165.4,453.3 1165.9,451.6 1166.4,453.3 1166.9,453.1 1167.4,452.5 1167.9,452.0 1168.4,452.4 1168.9,452.8 1169.4,453.0 1169.9,452.7 1170.4,453.2 1170.9,452.2 1171.4,452.7 1171.9,451.5 1172.4,453.0 1172.9,452.6 1173.4,452.3 1173.9,453.3 1174.4,453.0 1174.9,450.8 1175.4,452.6 1175.9,451.6 1176.4,453.2 1176.9,454.1 1177.4,452.2 1177.9,452.6 1178.4,452.4 1178.9,452.8 1179.4,453.0 1179.9,453.4 1180.4,451.9 1180.9,453.6 1181.4,452.0 1181.9,452.8 1182.4,453.3 1182.9,453.0 1183.4,452.0 1183.9,452.1 1184.4,452.3 1184.9,452.6 1185.4,453.3 1185.9,451.8 1186.4,452.9 1186.9,453.0 1187.4,452.9 1187.9,452.9 1188.4,453.6 1188.9,452.9 1189.4,453.1 1189.9,453.0 1190.4,453.7 1190.9,451.4 1191.4,453.4 1191.9,452.4 1192.4,452.4 1192.9,452.0 1193.4,451.4 1193.9,452.4 1194.4,452.2 1194.9,452.9 1195.4,451.7 1195.9,453.5 1196.4,452.8 1196.9,452.5 1197.4,452.2 1197.9,452.1 1198.4,451.9 1198.9,452.3 1199.4,452.6 1199.9,452.5 1200.4,451.7 1200.9,452.5 1201.4,452.1 1201.9,452.7 1202.4,453.8 1202.9,453.0 1203.4,452.4 1203.9,451.6 1204.4,451.7 1204.9,451.6 1205.4,453.1 1205.9,452.1 1206.4,452.7 1206.9,452.2 1207.4,452.7 1207.9,453.5 1208.4,452.2 1208.9,452.4 1209.4,452.1 1209.9,453.2 1210.4,452.0 1210.9,451.9 1211.4,451.8 1211.9,451.7 1212.4,452.9 1212.9,454.2 1213.4,452.0 1213.9,453.2 1214.4,452.8 1214.9,451.9 1215.4,452.5 1215.9,452.5 1216.4,452.2 1216.9,453.8 1217.4,451.4 1217.9,452.9 1218.4,452.8 1218.9,452.3 1219.4,452.7 1219.9,453.2 1220.4,452.7 1220.9,452.9 1221.4,453.0 1221.9,451.3 1222.4,453.5 1222.9,454.0 1223.4,453.2 1223.9,453.2 1224.4,451.7 1224.9,452.5 1225.4,452.1 1225.9,452.2 1226.4,453.2 1226.9,452.1 1227.4,452.5 1227.9,451.3 1228.4,452.4 1228.9,452.6 1229.4,452.0 1229.9,452.0 1230.4,453.6 1230.9,451.6 1231.4,451.7 1231.9,451.8 1232.4,452.9 1232.9,453.3 1233.4,452.0 1233.9,451.1 1234.4,451.0 1234.9,451.6 1235.4,449.9 1235.9,450.9 1236.4,450.3 1236.9,449.0 1237.4,449.0 1237.9,448.8 1238.4,449.2 1238.9,447.6 1239.4,449.2 1239.9,448.4 1240.4,448.4 1240.9,449.2 1241.4,449.3 1241.9,449.1 1242.4,449.1 1242.9,449.9 1243.4,451.7 1243.9,452.4 1244.4,451.8 1244.9,452.4 1245.4,451.6 1245.9,452.0 1246.4,452.4 1246.9,451.6 1247.4,451.8 1247.9,452.5 1248.4,452.3 1248.9,451.8 1249.4,452.8 1249.9,452.4 1250.4,453.2 1250.9,452.6 1251.4,452.4 1251.9,452.7 1252.4,452.5 1252.9,452.2 1253.4,452.4 1253.9,453.1 1254.4,453.0 1254.9,453.5 1255.4,451.6 1255.9,452.4 1256.4,452.4 1256.9,452.8 1257.4,452.4 1257.9,452.4 1258.4,453.2 1258.9,452.8 1259.4,452.0 1259.9,453.5 1260.4,453.3 1260.9,452.3 1261.4,453.2 1261.9,452.2 1262.4,453.4 1262.9,452.6 1263.4,452.2 1263.9,452.5 1264.4,452.2 1264.9,452.8 1265.4,452.8 1265.9,452.7 1266.4,452.4 1266.9,450.5 1267.4,452.8 1267.9,451.6 1268.4,452.9 1268.9,453.4 1269.4,452.9 1269.9,452.5 1270.4,452.6 1270.9,452.7 1271.4,452.4 1271.9,452.4 1272.4,452.2 1272.9,453.5 1273.4,452.7 1273.9,453.3 1274.4,452.6 1274.9,452.8 1275.4,452.6 1275.9,453.0 1276.4,453.3 1276.9,452.9 1277.4,452.3 1277.9,452.3 1278.4,453.8 1278.9,452.6 1279.4,452.6 1279.9,453.7 1280.4,453.4 1280.9,453.1 1281.4,452.5 1281.9,454.2 1282.4,453.0 1282.9,453.1 1283.4,452.7 1283.9,451.9 1284.4,451.9 1284.9,453.0 1285.4,453.0 1285.9,452.6 1286.4,452.0 1286.9,451.9 1287.4,452.6 1287.9,451.9 1288.4,453.3 1288.9,453.5 1289.4,454.5 1289.9,453.3 1290.4,452.4 1290.9,452.2 1291.4,450.6 1291.9,452.4 1292.4,452.7 1292.9,453.4 1293.4,453.1 1293.9,453.1 1294.4,452.9 1294.9,453.2 1295.4,453.7 1295.9,452.1 1296.4,452.5 1296.9,451.9 1297.4,453.8 1297.9,453.6 1298.4,453.2 1298.9,452.0 1299.4,452.9 1299.9,452.6 1300.4,452.8 1300.9,452.7 1301.4,453.1 1301.9,452.5 1302.4,453.3 1302.9,452.9 1303.4,452.6 1303.9,452.7 1304.4,452.5 1304.9,453.3 1305.4,452.6 1305.9,452.9 1306.4,452.5 1306.9,451.9 1307.4,453.3 1307.9,452.1 1308.4,453.2 1308.9,453.0 1309.4,451.7 1309.9,452.2 1310.4,452.4 1310.9,452.2 1311.4,452.0 1311.9,453.2 1312.4,452.6 1312.9,453.0 1313.4,452.5 1313.9,452.9 1314.4,452.3 1314.9,452.7 1315.4,453.1 1315.9,452.7 1316.4,452.4 1316.9,452.0 1317.4,452.8 1317.9,452.9 1318.4,452.5 1318.9,452.2 1319.4,453.0 1319.9,454.2 1320.4,452.5 1320.9,452.9 1321.4,452.9 1321.9,451.1 1322.4,452.7 1322.9,452.2 1323.4,453.4 1323.9,452.4 1324.4,452.1 1324.9,452.4 1325.4,452.6 1325.9,452.1 1326.4,452.4 1326.9,451.6 1327.4,452.2 1327.9,452.8 1328.4,453.4 1328.9,452.6 1329.4,452.2 1329.9,452.7 1330.4,452.4 1330.9,452.6 1331.4,451.9 1331.9,450.8 1332.4,450.4 1332.9,449.6 1333.4,448.8 1333.9,447.6 1334.4,445.7 1334.9,443.4 1335.4,442.8 1335.9,440.6 1336.4,440.7 1336.9,440.0 1337.4,438.9 1337.9,440.6 1338.4,441.3 1338.9,441.5 1339.4,443.1 1339.9,443.9 1340.4,442.7 1340.9,444.7 1341.4,445.2 1341.9,446.1 1342.4,447.4 1342.9,447.4 1343.4,448.3 1343.9,449.0 1344.4,449.7 1344.9,450.7 1345.4,450.3 1345.9,450.9 1346.4,452.1 1346.9,451.9 1347.4,452.3 1347.9,451.1 1348.4,451.8 1348.9,452.0 1349.4,452.4 1349.9,452.1 1350.4,453.0 1350.9,452.5 1351.4,452.6 1351.9,452.6 1352.4,453.0 1352.9,452.3 1353.4,453.3 1353.9,452.9 1354.4,452.8 1354.9,452.7 1355.4,453.0 1355.9,453.3 1356.4,453.3 1356.9,453.0 1357.4,453.3 1357.9,452.8 1358.4,453.5 1358.9,452.7 1359.4,451.5 1359.9,453.6 1360.4,452.8 1360.9,452.1 1361.4,452.7 1361.9,452.3 1362.4,454.1 1362.9,453.1 1363.4,451.9 1363.9,453.1 1364.4,452.6 1364.9,454.0 1365.4,452.2 1365.9,451.5 1366.4,452.9 1366.9,452.6 1367.4,452.6 1367.9,451.6 1368.4,453.1 1368.9,453.8 1369.4,451.7 1369.9,453.6 1370.4,452.5 1370.9,454.3 1371.4,453.1 1371.9,452.8 1372.4,453.5 1372.9,453.2 1373.4,452.5 1373.9,453.3 1374.4,452.6 1374.9,451.8 1375.4,454.1 1375.9,452.7 1376.4,452.5 1376.9,453.1 1377.4,452.0 1377.9,452.1 1378.4,452.6 1378.9,452.6 1379.4,452.9 1379.9,453.6 1380.4,452.6 1380.9,453.2 1381.4,453.3 1381.9,452.2 1382.4,453.0 1382.9,452.3 1383.4,453.5 1383.9,453.2 1384.4,452.9 1384.9,452.1 1385.4,453.0 1385.9,452.4 1386.4,453.3 1386.9,452.8 1387.4,452.4 1387.9,453.5 1388.4,453.3 1388.9,452.6 1389.4,453.6 1389.9,452.7 1390.4,452.7 1390.9,453.0 1391.4,452.5 1391.9,452.6 1392.4,452.8 1392.9,453.8 1393.4,453.8 1393.9,452.8 1394.4,453.9 1394.9,452.9 1395.4,453.1 1395.9,453.4 1396.4,453.1 1396.9,454.3 1397.4,453.1 1397.9,452.2 1398.4,453.7 1398.9,452.7 1399.4,452.7 1399.9,451.1 1400.4,453.5 1400.9,453.4 1401.4,453.4 1401.9,453.5 1402.4,453.9 1402.9,452.9 1403.4,453.5 1403.9,452.5 1404.4,452.7 1404.9,453.5 1405.4,453.1 1405.9,452.1 1406.4,453.1 1406.9,452.8 1407.4,452.4 1407.9,453.2 1408.4,452.7 1408.9,452.0 1409.4,452.2 1409.9,453.9 1410.4,452.0 1410.9,453.0 1411.4,453.2 1411.9,453.3 1412.4,452.2 1412.9,452.7 1413.4,453.0 1413.9,453.3 1414.4,452.5 1414.9,452.2 1415.4,453.5 1415.9,453.5 1416.4,453.1 1416.9,452.5 1417.4,453.1 1417.9,452.9 1418.4,453.3 1418.9,452.1 1419.4,452.9 1419.9,452.7 1420.4,452.1 1420.9,452.9 1421.4,452.8 1421.9,452.5 1422.4,453.0 1422.9,451.9 1423.4,452.6 1423.9,452.9 1424.4,452.8 1424.9,453.2 1425.4,451.8 1425.9,451.6 1426.4,452.5 1426.9,452.6 1427.4,453.5 1427.9,452.5 1428.4,451.6 1428.9,452.5 1429.4,451.4 1429.9,450.9 1430.4,453.2 1430.9,451.7 1431.4,451.8 1431.9,451.6 1432.4,452.2 1432.9,451.2 1433.4,451.6 1433.9,450.1 1434.4,449.8 1434.9,451.3 1435.4,451.2 1435.9,450.5 1436.4,450.3 1436.9,450.2 1437.4,449.6 1437.9,450.9 1438.4,450.4 1438.9,450.4 1439.4,450.3 1439.9,450.8 1440.4,450.6 1440.9,450.8 1441.4,449.9 1441.9,451.0 1442.4,452.1 1442.9,450.6 1443.4,451.0 1443.9,451.8 1444.4,451.9 1444.9,451.9 1445.4,450.7 1445.9,452.0 1446.4,451.2 1446.9,451.5 1447.4,452.4 1447.9,452.0 1448.4,452.7 1448.9,454.2 1449.4,452.9 1449.9,452.9 1450.4,452.0 1450.9,452.2 1451.4,452.0 1451.9,452.4 1452.4,452.1 1452.9,452.3 1453.4,452.6 1453.9,452.2 1454.4,452.0 1454.9,452.0 1455.4,453.1 1455.9,452.9 1456.4,453.5 1456.9,453.5 1457.4,452.7 1457.9,453.3 1458.4,452.1 1458.9,454.2 1459.4,453.6 1459.9,452.8 1460.4,452.3 1460.9,453.2 1461.4,451.9 1461.9,452.5 1462.4,453.4 1462.9,453.0 1463.4,452.7 1463.9,453.5 1464.4,452.4 1464.9,453.1 1465.4,452.7 1465.9,452.5 1466.4,453.2 1466.9,452.4 1467.4,454.1 1467.9,452.7 1468.4,454.1 1468.9,452.4 1469.4,453.3 1469.9,452.3 1470.4,452.2 1470.9,453.1 1471.4,453.4 1471.9,452.3 1472.4,453.7 1472.9,452.6 1473.4,453.1 1473.9,453.2 1474.4,453.4 1474.9,452.0 1475.4,454.0 1475.9,453.3 1476.4,452.8 1476.9,452.4 1477.4,452.1 1477.9,452.2 1478.4,453.3 1478.9,452.8 1479.4,452.4 1479.9,452.7 1480.4,453.9 1480.9,452.8 1481.4,452.7 1481.9,453.8 1482.4,453.3 1482.9,453.1 1483.4,452.7 1483.9,452.1 1484.4,452.4 1484.9,452.8 1485.4,452.9 1485.9,453.2 1486.4,453.4 1486.9,453.2 1487.4,453.2 1487.9,452.5 1488.4,451.8 1488.9,452.7 1489.4,452.5 1489.9,452.7 1490.4,452.9 1490.9,452.3 1491.4,452.4 1491.9,453.0 1492.4,453.1 1492.9,452.7 1493.4,453.3 1493.9,452.9 1494.4,452.5 1494.9,453.1 1495.4,454.1 1495.9,452.7 1496.4,453.7 1496.9,453.8 1497.4,453.9 1497.9,452.6 1498.4,454.2 1498.9,453.1 1499.4,452.9 1499.9,452.9 1500.4,453.4 1500.9,453.1 1501.4,452.9 1501.9,453.8 1502.4,452.6 1502.9,452.4 1503.4,453.5 1503.9,453.4 1504.4,453.7 1504.9,452.4 1505.4,453.6 1505.9,453.3 1506.4,454.0 1506.9,452.3 1507.4,453.1 1507.9,452.9 1508.4,452.1 1508.9,452.6 1509.4,453.7 1509.9,452.7 1510.4,452.6 1510.9,453.5 1511.4,453.6 1511.9,453.6 1512.4,452.5 1512.9,452.9 1513.4,453.6 1513.9,452.6 1514.4,452.5 1514.9,453.4 1515.4,453.8 1515.9,452.3 1516.4,451.4 1516.9,452.1 1517.4,452.3 1517.9,452.8 1518.4,453.2 1518.9,452.8 1519.4,452.5 1519.9,452.9 1520.4,452.3 1520.9,452.8 1521.4,452.4 1521.9,454.3 1522.4,453.2 1522.9,452.2 1523.4,452.0 1523.9,452.3 1524.4,451.6 1524.9,452.0 1525.4,451.9 1525.9,452.7 1526.4,451.8 1526.9,451.4 1527.4,450.9 1527.9,450.8 1528.4,451.2 1528.9,450.8 1529.4,451.2 1529.9,449.8 1530.4,450.3 1530.9,449.4 1531.4,448.8 1531.9,447.1 1532.4,447.0 1532.9,447.6 1533.4,447.5 1533.9,446.3 1534.4,446.2 1534.9,445.3 1535.4,445.1 1535.9,444.8 1536.4,445.8 1536.9,445.6 1537.4,445.5 1537.9,445.9 1538.4,446.8 1538.9,447.2 1539.4,447.1 1539.9,449.0 1540.4,448.7 1540.9,449.1 1541.4,450.4 1541.9,450.6 1542.4,450.4 1542.9,451.1 1543.4,450.5 1543.9,451.0 1544.4,450.4 1544.9,452.5 1545.4,451.0 1545.9,452.6 1546.4,451.8 1546.9,451.9 1547.4,452.4 1547.9,452.7 1548.4,453.0 1548.9,453.7 1549.4,452.9 1549.9,453.3 1550.4,452.5 1550.9,453.2 1551.4,452.9 1551.9,452.6 1552.4,452.8 1552.9,452.9 1553.4,453.0 1553.9,453.2 1554.4,452.7 1554.9,452.6 1555.4,453.4 1555.9,452.0 1556.4,452.7 1556.9,453.9 1557.4,451.5 1557.9,452.6 1558.4,453.4 1558.9,452.1 1559.4,454.5 1559.9,451.6 1560.4,453.9 1560.9,454.0 1561.4,453.6 1561.9,453.0 1562.4,453.3 1562.9,452.6 1563.4,453.6 1563.9,452.5 1564.4,453.0 1564.9,453.7 1565.4,452.5 1565.9,452.9 1566.4,453.2 1566.9,452.4 1567.4,453.8 1567.9,453.3 1568.4,452.3 1568.9,453.1 1569.4,452.7 1569.9,452.8 1570.4,453.2 1570.9,452.8 1571.4,453.7 1571.9,452.8 1572.4,453.7 1572.9,453.2 1573.4,453.7 1573.9,452.9 1574.4,452.9 1574.9,452.5 1575.4,453.5 1575.9,453.7 1576.4,454.4 1576.9,453.9 1577.4,453.3 1577.9,453.1 1578.4,453.4 1578.9,453.2 1579.4,454.0 1579.9,453.7 1580.4,452.7 1580.9,452.8 1581.4,454.0 1581.9,453.4 1582.4,453.1 1582.9,453.9 1583.4,453.0 1583.9,453.1 1584.4,453.0 1584.9,452.1 1585.4,453.7 1585.9,452.6 1586.4,452.9 1586.9,452.8 1587.4,453.6 1587.9,453.2 1588.4,453.2 1588.9,452.3 1589.4,453.2 1589.9,452.4 1590.4,453.4 1590.9,453.4 1591.4,453.2 1591.9,454.4 1592.4,453.5 1592.9,453.6 1593.4,453.3 1593.9,453.1 1594.4,453.8 1594.9,453.9 1595.4,452.5 1595.9,453.8 1596.4,453.5 1596.9,453.8 1597.4,453.5 1597.9,452.6 1598.4,452.6 1598.9,454.3 1599.4,453.4 1599.9,452.5 1600.4,453.5 1600.9,453.1 1601.4,452.2 1601.9,452.0 1602.4,452.4 1602.9,453.4 1603.4,453.2 1603.9,453.1 1604.4,453.4 1604.9,453.6 1605.4,452.1 1605.9,453.1 1606.4,452.8 1606.9,452.6" fill="none" stroke="#000088" stroke-width="4.9" stroke-linejoin="round"/>
<polyline points="111.4,569.9 111.9,570.3 112.4,570.2 112.9,569.2 113.4,570.0 113.9,572.1 114.4,569.5 114.9,569.0 115.4,570.6 115.9,570.9 116.4,570.8 116.9,569.5 117.4,571.3 117.9,569.7 118.4,569.4 118.9,569.9 119.4,570.3 119.9,571.0 120.4,570.9 120.9,570.4 121.4,571.2 121.9,570.5 122.4,571.2 122.9,569.2 123.4,569.1 123.9,571.1 124.4,569.2 124.9,570.2 125.4,570.3 125.9,570.0 126.4,570.0 126.9,571.6 127.4,568.3 127.9,571.2 128.4,572.4 128.9,570.5 129.4,570.4 129.9,571.1 130.4,572.0 130.9,569.4 131.4,570.5 131.9,570.3 132.4,570.9 132.9,570.6 133.4,571.0 133.9,570.1 134.4,570.5 134.9,569.9 135.4,569.9 135.9,570.3 136.4,570.3 136.9,569.5 137.4,571.8 137.9,570.3 138.4,569.3 138.9,571.4 139.4,569.8 139.9,570.9 140.4,570.4 140.9,570.7 141.4,570.6 141.9,570.0 142.4,570.5 142.9,572.2 143.4,568.6 143.9,570.5 144.4,570.8 144.9,569.6 145.4,569.3 145.9,572.3 146.4,570.2 146.9,572.2 147.4,570.9 147.9,570.5 148.4,570.9 148.9,571.0 149.4,571.5 149.9,570.8 150.4,570.6 150.9,570.6 151.4,571.6 151.9,571.2 152.4,569.6 152.9,570.0 153.4,570.8 153.9,570.0 154.4,570.2 154.9,569.7 155.4,570.3 155.9,570.8 156.4,571.3 156.9,570.5 157.4,572.2 157.9,570.4 158.4,573.2 158.9,571.3 159.4,570.9 159.9,570.1 160.4,568.1 160.9,570.4 161.4,570.7 161.9,572.1 162.4,569.3 162.9,572.1 163.4,570.3 163.9,571.1 164.4,568.4 164.9,570.6 165.4,570.2 165.9,571.1 166.4,570.6 166.9,569.6 167.4,571.3 167.9,571.1 168.4,571.0 168.9,571.4 169.4,571.4 169.9,570.5 170.4,569.4 170.9,569.4 171.4,571.7 171.9,571.1 172.4,570.6 172.9,570.2 173.4,570.6 173.9,570.6 174.4,570.3 174.9,569.9 175.4,572.3 175.9,570.7 176.4,570.0 176.9,569.4 177.4,569.9 177.9,571.1 178.4,571.2 178.9,570.4 179.4,570.6 179.9,570.3 180.4,569.6 180.9,571.6 181.4,570.9 181.9,572.6 182.4,569.9 182.9,570.4 183.4,571.3 183.9,570.3 184.4,569.4 184.9,569.8 185.4,570.6 185.9,570.8 186.4,570.5 186.9,571.4 187.4,571.4 187.9,570.8 188.4,570.6 188.9,570.4 189.4,571.0 189.9,571.3 190.4,570.6 190.9,570.9 191.4,570.3 191.9,569.4 192.4,569.7 192.9,571.2 193.4,570.9 193.9,571.9 194.4,570.6 194.9,571.3 195.4,571.7 195.9,571.4 196.4,570.1 196.9,570.4 197.4,570.7 197.9,569.8 198.4,571.0 198.9,571.4 199.4,570.2 199.9,572.2 200.4,570.3 200.9,570.4 201.4,570.4 201.9,570.0 202.4,570.9 202.9,570.6 203.4,572.0 203.9,571.1 204.4,571.0 204.9,570.4 205.4,569.4 205.9,570.5 206.4,569.9 206.9,571.4 207.4,570.6 207.9,572.0 208.4,571.2 208.9,571.3 209.4,570.8 209.9,570.8 210.4,571.2 210.9,571.4 211.4,570.0 211.9,571.0 212.4,572.8 212.9,570.5 213.4,570.4 213.9,570.0 214.4,569.4 214.9,571.6 215.4,570.7 215.9,570.9 216.4,572.2 216.9,572.7 217.4,569.9 217.9,571.5 218.4,571.1 218.9,571.0 219.4,571.0 219.9,570.6 220.4,572.0 220.9,571.1 221.4,570.9 221.9,571.7 222.4,571.4 222.9,571.0 223.4,570.9 223.9,572.1 224.4,571.1 224.9,570.6 225.4,569.9 225.9,570.4 226.4,569.8 226.9,570.7 227.4,570.9 227.9,569.0 228.4,570.7 228.9,571.2 229.4,570.8 229.9,569.9 230.4,571.7 230.9,570.1 231.4,569.6 231.9,569.8 232.4,570.6 232.9,571.5 233.4,571.6 233.9,570.8 234.4,569.7 234.9,570.1 235.4,569.9 235.9,570.5 236.4,569.2 236.9,570.8 237.4,571.2 237.9,570.5 238.4,571.1 238.9,569.9 239.4,569.5 239.9,570.2 240.4,571.6 240.9,571.5 241.4,570.3 241.9,571.7 242.4,570.4 242.9,571.9 243.4,571.1 243.9,570.3 244.4,571.3 244.9,570.0 245.4,569.9 245.9,569.5 246.4,570.9 246.9,570.6 247.4,570.6 247.9,570.4 248.4,571.9 248.9,570.3 249.4,570.1 249.9,571.7 250.4,571.9 250.9,571.0 251.4,569.3 251.9,570.2 252.4,571.2 252.9,570.7 253.4,572.0 253.9,569.6 254.4,571.3 254.9,570.2 255.4,571.8 255.9,570.6 256.4,571.6 256.9,570.2 257.4,569.6 257.9,569.8 258.4,570.2 258.9,569.9 259.4,571.7 259.9,571.8 260.4,570.9 260.9,569.9 261.4,570.6 261.9,570.2 262.4,571.9 262.9,571.0 263.4,571.1 263.9,570.4 264.4,569.1 264.9,570.1 265.4,569.8 265.9,571.0 266.4,570.8 266.9,570.1 267.4,570.4 267.9,572.0 268.4,569.9 268.9,570.0 269.4,570.5 269.9,570.2 270.4,570.4 270.9,571.2 271.4,572.2 271.9,569.3 272.4,570.7 272.9,570.8 273.4,570.7 273.9,570.6 274.4,570.5 274.9,571.6 275.4,570.4 275.9,570.6 276.4,570.8 276.9,570.8 277.4,570.6 277.9,571.6 278.4,570.7 278.9,570.9 279.4,570.7 279.9,569.9 280.4,570.1 280.9,569.9 281.4,570.9 281.9,570.2 282.4,569.9 282.9,571.0 283.4,571.2 283.9,569.3 284.4,572.1 284.9,570.8 285.4,570.7 285.9,571.6 286.4,570.8 286.9,570.3 287.4,572.6 287.9,569.9 288.4,570.7 288.9,571.5 289.4,569.9 289.9,570.7 290.4,571.1 290.9,572.7 291.4,570.1 291.9,570.7 292.4,571.3 292.9,570.9 293.4,569.8 293.9,571.1 294.4,570.9 294.9,571.2 295.4,571.7 295.9,571.6 296.4,571.1 296.9,571.0 297.4,569.9 297.9,570.7 298.4,571.0 298.9,570.5 299.4,570.9 299.9,570.1 300.4,572.0 300.9,572.5 301.4,570.5 301.9,571.1 302.4,570.6 302.9,571.8 303.4,571.2 303.9,570.9 304.4,570.6 304.9,570.9 305.4,570.0 305.9,571.4 306.4,570.2 306.9,571.2 307.4,570.9 307.9,571.7 308.4,570.8 308.9,571.6 309.4,570.1 309.9,571.3 310.4,570.6 310.9,571.0 311.4,570.9 311.9,571.6 312.4,569.2 312.9,571.1 313.4,569.6 313.9,571.8 314.4,569.2 314.9,570.0 315.4,569.5 315.9,572.2 316.4,569.8 316.9,570.9 317.4,570.4 317.9,569.4 318.4,570.6 318.9,571.4 319.4,570.7 319.9,571.6 320.4,570.5 320.9,570.8 321.4,570.5 321.9,571.1 322.4,572.4 322.9,571.1 323.4,571.0 323.9,570.3 324.4,570.2 324.9,572.0 325.4,569.9 325.9,570.1 326.4,570.8 326.9,570.5 327.4,572.4 327.9,568.9 328.4,571.1 328.9,571.4 329.4,569.9 329.9,570.3 330.4,571.2 330.9,572.2 331.4,570.1 331.9,569.6 332.4,571.6 332.9,572.1 333.4,570.6 333.9,569.1 334.4,572.0 334.9,570.7 335.4,571.8 335.9,570.8 336.4,570.5 336.9,570.5 337.4,572.0 337.9,572.0 338.4,569.1 338.9,570.1 339.4,572.3 339.9,570.6 340.4,569.8 340.9,570.9 341.4,570.8 341.9,570.8 342.4,570.5 342.9,570.6 343.4,570.5 343.9,571.1 344.4,570.2 344.9,570.6 345.4,570.7 345.9,571.9 346.4,571.1 346.9,570.8 347.4,571.3 347.9,571.2 348.4,571.7 348.9,571.2 349.4,572.3 349.9,571.9 350.4,570.8 350.9,570.5 351.4,571.5 351.9,571.2 352.4,570.8 352.9,569.6 353.4,569.4 353.9,571.1 354.4,571.4 354.9,571.5 355.4,569.8 355.9,571.6 356.4,570.4 356.9,571.1 357.4,571.1 357.9,570.1 358.4,570.3 358.9,569.1 359.4,570.0 359.9,569.3 360.4,571.1 360.9,570.8 361.4,571.5 361.9,571.0 362.4,570.2 362.9,571.0 363.4,570.4 363.9,571.2 364.4,570.9 364.9,569.8 365.4,570.6 365.9,570.6 366.4,570.3 366.9,571.2 367.4,571.9 367.9,570.2 368.4,570.1 368.9,568.6 369.4,570.2 369.9,569.9 370.4,568.4 370.9,570.3 371.4,570.4 371.9,569.1 372.4,569.2 372.9,568.3 373.4,569.2 373.9,566.8 374.4,566.8 374.9,567.5 375.4,564.5 375.9,563.1 376.4,560.6 376.9,557.6 377.4,556.4 377.9,554.8 378.4,552.3 378.9,552.8 379.4,553.7 379.9,554.7 380.4,554.3 380.9,556.8 381.4,558.4 381.9,562.7 382.4,564.2 382.9,565.8 383.4,565.9 383.9,566.6 384.4,568.4 384.9,569.0 385.4,568.6 385.9,569.7 386.4,570.3 386.9,570.2 387.4,569.3 387.9,568.5 388.4,570.1 388.9,570.5 389.4,570.2 389.9,570.1 390.4,570.0 390.9,571.1 391.4,570.6 391.9,570.7 392.4,569.9 392.9,570.2 393.4,570.8 393.9,569.9 394.4,569.7 394.9,570.5 395.4,571.7 395.9,570.9 396.4,572.0 396.9,570.7 397.4,570.6 397.9,569.7 398.4,570.4 398.9,572.0 399.4,571.1 399.9,571.4 400.4,571.4 400.9,570.9 401.4,570.7 401.9,571.0 402.4,571.4 402.9,571.3 403.4,571.3 403.9,571.0 404.4,570.3 404.9,570.7 405.4,570.2 405.9,571.7 406.4,569.3 406.9,570.8 407.4,572.8 407.9,570.7 408.4,570.1 408.9,570.9 409.4,572.0 409.9,570.8 410.4,571.4 410.9,571.0 411.4,570.7 411.9,573.5 412.4,571.0 412.9,570.5 413.4,570.6 413.9,571.3 414.4,571.3 414.9,571.6 415.4,571.1 415.9,569.8 416.4,571.4 416.9,570.7 417.4,570.8 417.9,569.8 418.4,570.5 418.9,570.4 419.4,571.0 419.9,569.8 420.4,571.0 420.9,571.1 421.4,570.1 421.9,570.5 422.4,570.3 422.9,571.7 423.4,569.0 423.9,570.7 424.4,569.7 424.9,570.6 425.4,571.6 425.9,570.4 426.4,571.0 426.9,570.2 427.4,572.4 427.9,571.6 428.4,571.7 428.9,569.8 429.4,569.9 429.9,571.5 430.4,570.4 430.9,570.2 431.4,570.5 431.9,569.0 432.4,570.3 432.9,569.4 433.4,569.4 433.9,568.2 434.4,568.8 434.9,567.6 435.4,568.8 435.9,569.0 436.4,569.0 436.9,569.0 437.4,569.4 437.9,567.1 438.4,570.2 438.9,569.6 439.4,570.2 439.9,570.1 440.4,569.4 440.9,570.2 441.4,571.3 441.9,571.9 442.4,570.4 442.9,570.2 443.4,572.1 443.9,570.3 444.4,572.6 444.9,571.0 445.4,570.3 445.9,571.8 446.4,572.3 446.9,569.9 447.4,572.2 447.9,570.8 448.4,572.2 448.9,570.7 449.4,569.8 449.9,571.4 450.4,571.8 450.9,572.7 451.4,572.4 451.9,571.6 452.4,570.9 452.9,570.7 453.4,570.9 453.9,570.4 454.4,570.9 454.9,569.1 455.4,571.2 455.9,571.1 456.4,573.1 456.9,571.7 457.4,570.7 457.9,571.5 458.4,570.1 458.9,570.6 459.4,569.6 459.9,572.2 460.4,571.6 460.9,570.2 461.4,571.1 461.9,571.9 462.4,571.5 462.9,571.4 463.4,570.5 463.9,570.6 464.4,571.2 464.9,571.8 465.4,570.5 465.9,570.3 466.4,572.0 466.9,570.4 467.4,572.0 467.9,571.3 468.4,571.8 468.9,572.5 469.4,571.7 469.9,571.7 470.4,570.4 470.9,570.6 471.4,571.6 471.9,572.3 472.4,572.2 472.9,572.9 473.4,571.4 473.9,571.3 474.4,571.9 474.9,571.2 475.4,571.1 475.9,570.3 476.4,571.9 476.9,570.3 477.4,571.5 477.9,570.1 478.4,572.0 478.9,570.4 479.4,571.8 479.9,569.9 480.4,570.8 480.9,572.1 481.4,570.5 481.9,571.2 482.4,570.8 482.9,569.4 483.4,571.4 483.9,571.5 484.4,570.3 484.9,571.6 485.4,570.5 485.9,570.4 486.4,571.2 486.9,570.6 487.4,572.9 487.9,570.0 488.4,571.7 488.9,571.9 489.4,569.6 489.9,569.8 490.4,571.6 490.9,570.8 491.4,571.5 491.9,572.1 492.4,570.9 492.9,570.4 493.4,569.1 493.9,571.3 494.4,570.5 494.9,571.4 495.4,571.4 495.9,570.1 496.4,572.5 496.9,572.0 497.4,571.8 497.9,570.3 498.4,570.9 498.9,570.8 499.4,570.9 499.9,570.3 500.4,571.5 500.9,571.4 501.4,571.5 501.9,570.8 502.4,572.2 502.9,571.3 503.4,569.1 503.9,570.7 504.4,571.1 504.9,571.9 505.4,571.0 505.9,571.0 506.4,570.7 506.9,571.7 507.4,570.8 507.9,570.7 508.4,570.6 508.9,571.6 509.4,570.8 509.9,569.9 510.4,571.7 510.9,570.6 511.4,571.5 511.9,571.5 512.4,572.1 512.9,572.0 513.4,570.7 513.9,571.1 514.4,570.2 514.9,572.5 515.4,571.5 515.9,572.2 516.4,570.9 516.9,569.6 517.4,572.4 517.9,571.2 518.4,571.3 518.9,571.2 519.4,571.7 519.9,571.6 520.4,569.9 520.9,572.0 521.4,570.8 521.9,570.8 522.4,572.5 522.9,571.9 523.4,570.9 523.9,569.7 524.4,571.3 524.9,571.6 525.4,571.1 525.9,570.2 526.4,570.5 526.9,570.2 527.4,571.3 527.9,571.8 528.4,571.9 528.9,570.6 529.4,571.3 529.9,571.5 530.4,570.7 530.9,571.0 531.4,572.7 531.9,571.2 532.4,571.7 532.9,570.7 533.4,571.1 533.9,569.7 534.4,571.0 534.9,571.9 535.4,572.6 535.9,571.8 536.4,571.4 536.9,570.9 537.4,570.3 537.9,570.5 538.4,570.9 538.9,569.7 539.4,570.7 539.9,569.0 540.4,568.0 540.9,568.3 541.4,567.4 541.9,567.4 542.4,569.1 542.9,567.9 543.4,568.3 543.9,569.2 544.4,569.5 544.9,568.4 545.4,570.2 545.9,569.8 546.4,569.8 546.9,570.4 547.4,569.2 547.9,569.8 548.4,570.5 548.9,571.1 549.4,570.4 549.9,570.7 550.4,571.5 550.9,571.9 551.4,571.4 551.9,571.8 552.4,570.5 552.9,570.6 553.4,571.1 553.9,570.6 554.4,570.4 554.9,572.1 555.4,570.7 555.9,570.1 556.4,571.2 556.9,572.2 557.4,570.8 557.9,571.7 558.4,570.4 558.9,570.3 559.4,570.2 559.9,570.5 560.4,572.0 560.9,569.7 561.4,571.8 561.9,569.8 562.4,570.3 562.9,571.1 563.4,570.9 563.9,570.6 564.4,569.1 564.9,570.6 565.4,569.5 565.9,572.1 566.4,570.0 566.9,570.2 567.4,569.1 567.9,569.5 568.4,568.8 568.9,570.5 569.4,569.4 569.9,569.9 570.4,568.8 570.9,568.8 571.4,570.0 571.9,568.1 572.4,567.3 572.9,568.8 573.4,567.3 573.9,567.6 574.4,568.3 574.9,566.6 575.4,567.4 575.9,565.7 576.4,566.6 576.9,565.6 577.4,563.0 577.9,561.6 578.4,558.9 578.9,556.6 579.4,553.2 579.9,545.7 580.4,540.3 580.9,529.7 581.4,519.3 581.9,506.3 582.4,495.9 582.9,481.1 583.4,469.3 583.9,459.8 584.4,456.6 584.9,454.7 585.4,461.1 585.9,471.4 586.4,480.6 586.9,493.6 587.4,506.9 587.9,517.9 588.4,529.2 588.9,538.9 589.4,545.7 589.9,551.5 590.4,555.4 590.9,559.1 591.4,561.3 591.9,564.1 592.4,564.9 592.9,565.1 593.4,564.2 593.9,567.2 594.4,567.7 594.9,566.9 595.4,566.4 595.9,567.3 596.4,569.2 596.9,567.9 597.4,568.6 597.9,569.2 598.4,570.2 598.9,569.4 599.4,569.5 599.9,569.2 600.4,571.0 600.9,570.7 601.4,569.9 601.9,569.0 602.4,569.5 602.9,570.6 603.4,569.7 603.9,571.0 604.4,570.7 604.9,570.7 605.4,571.0 605.9,570.9 606.4,569.9 606.9,570.4 607.4,572.4 607.9,569.8 608.4,570.4 608.9,571.5 609.4,570.7 609.9,570.2 610.4,569.8 610.9,571.3 611.4,571.6 611.9,572.0 612.4,571.0 612.9,571.7 613.4,570.2 613.9,571.1 614.4,570.5 614.9,571.1 615.4,571.6 615.9,571.8 616.4,570.3 616.9,572.0 617.4,570.7 617.9,570.3 618.4,571.0 618.9,570.0 619.4,571.1 619.9,571.4 620.4,571.0 620.9,571.6 621.4,570.9 621.9,571.2 622.4,570.1 622.9,571.2 623.4,570.6 623.9,570.9 624.4,571.1 624.9,571.4 625.4,570.0 625.9,570.1 626.4,571.0 626.9,571.6 627.4,571.5 627.9,571.9 628.4,572.2 628.9,571.6 629.4,571.3 629.9,570.5 630.4,570.6 630.9,570.9 631.4,571.5 631.9,571.5 632.4,571.3 632.9,571.2 633.4,571.8 633.9,571.4 634.4,571.5 634.9,571.5 635.4,570.9 635.9,570.5 636.4,571.7 636.9,571.6 637.4,571.1 637.9,571.0 638.4,573.0 638.9,570.7 639.4,571.1 639.9,571.5 640.4,570.4 640.9,571.4 641.4,572.6 641.9,571.9 642.4,571.7 642.9,571.7 643.4,571.3 643.9,571.9 644.4,571.1 644.9,570.9 645.4,571.2 645.9,571.8 646.4,571.3 646.9,571.5 647.4,569.5 647.9,571.8 648.4,572.5 648.9,571.7 649.4,570.2 649.9,569.6 650.4,570.1 650.9,568.7 651.4,569.4 651.9,567.7 652.4,567.9 652.9,567.3 653.4,563.7 653.9,564.4 654.4,562.8 654.9,561.7 655.4,562.0 655.9,562.5 656.4,563.8 656.9,562.6 657.4,565.4 657.9,567.0 658.4,567.0 658.9,567.9 659.4,568.3 659.9,568.1 660.4,569.9 660.9,570.2 661.4,570.8 661.9,572.4 662.4,571.3 662.9,571.2 663.4,572.1 663.9,570.1 664.4,570.3 664.9,570.9 665.4,570.7 665.9,571.7 666.4,571.0 666.9,572.6 667.4,572.4 667.9,571.9 668.4,571.1 668.9,571.8 669.4,572.0 669.9,570.6 670.4,571.7 670.9,571.9 671.4,571.6 671.9,572.6 672.4,572.3 672.9,570.8 673.4,571.6 673.9,570.9 674.4,571.9 674.9,570.8 675.4,572.2 675.9,571.8 676.4,572.2 676.9,571.4 677.4,570.4 677.9,572.8 678.4,571.4 678.9,572.5 679.4,571.8 679.9,572.0 680.4,572.9 680.9,571.8 681.4,572.6 681.9,570.4 682.4,572.2 682.9,571.4 683.4,571.5 683.9,571.6 684.4,571.8 684.9,572.8 685.4,570.2 685.9,571.6 686.4,571.0 686.9,572.4 687.4,571.3 687.9,571.9 688.4,571.3 688.9,572.1 689.4,572.3 689.9,571.3 690.4,571.6 690.9,570.5 691.4,571.8 691.9,572.2 692.4,571.2 692.9,572.4 693.4,570.1 693.9,570.2 694.4,570.6 694.9,571.2 695.4,571.6 695.9,571.5 696.4,571.6 696.9,572.1 697.4,571.3 697.9,570.7 698.4,570.7 698.9,573.2 699.4,569.9 699.9,571.5 700.4,572.7 700.9,572.0 701.4,571.0 701.9,571.6 702.4,572.2 702.9,572.5 703.4,571.0 703.9,572.2 704.4,571.8 704.9,572.4 705.4,572.6 705.9,571.4 706.4,570.6 706.9,571.9 707.4,572.9 707.9,572.1 708.4,571.8 708.9,573.4 709.4,570.9 709.9,572.3 710.4,571.2 710.9,571.7 711.4,571.7 711.9,572.7 712.4,570.9 712.9,571.2 713.4,570.5 713.9,572.0 714.4,571.3 714.9,571.9 715.4,570.8 715.9,571.4 716.4,572.4 716.9,571.5 717.4,572.1 717.9,572.0 718.4,571.4 718.9,570.5 719.4,572.3 719.9,571.7 720.4,572.3 720.9,570.1 721.4,570.4 721.9,570.0 722.4,571.0 722.9,572.3 723.4,572.0 723.9,571.6 724.4,571.7 724.9,572.1 725.4,571.3 725.9,571.8 726.4,571.7 726.9,570.0 727.4,571.3 727.9,572.5 728.4,571.2 728.9,571.4 729.4,571.1 729.9,571.1 730.4,572.3 730.9,571.3 731.4,570.7 731.9,569.2 732.4,571.0 732.9,569.9 733.4,570.0 733.9,571.9 734.4,571.8 734.9,569.8 735.4,571.8 735.9,571.5 736.4,570.5 736.9,571.5 737.4,569.7 737.9,569.9 738.4,569.5 738.9,569.5 739.4,570.7 739.9,568.6 740.4,568.1 740.9,567.5 741.4,567.3 741.9,565.6 742.4,565.0 742.9,562.2 743.4,559.9 743.9,558.7 744.4,557.5 744.9,555.7 745.4,556.0 745.9,557.2 746.4,556.0 746.9,557.5 747.4,559.8 747.9,560.0 748.4,561.5 748.9,563.0 749.4,565.6 749.9,567.0 750.4,567.6 750.9,568.6 751.4,570.2 751.9,570.4 752.4,569.2 752.9,570.5 753.4,570.8 753.9,571.4 754.4,570.8 754.9,570.6 755.4,570.8 755.9,569.9 756.4,571.2 756.9,570.9 757.4,571.7 757.9,570.6 758.4,571.1 758.9,570.7 759.4,570.7 759.9,572.0 760.4,571.2 760.9,571.8 761.4,570.7 761.9,571.6 762.4,570.3 762.9,571.2 763.4,571.2 763.9,572.0 764.4,571.7 764.9,571.5 765.4,572.2 765.9,571.8 766.4,572.0 766.9,572.2 767.4,571.6 767.9,571.4 768.4,571.9 768.9,571.4 769.4,572.0 769.9,572.5 770.4,572.3 770.9,571.4 771.4,570.8 771.9,571.7 772.4,571.6 772.9,572.5 773.4,571.4 773.9,571.6 774.4,572.2 774.9,571.4 775.4,571.6 775.9,573.0 776.4,572.8 776.9,572.2 777.4,571.9 777.9,571.0 778.4,572.1 778.9,571.8 779.4,571.9 779.9,571.4 780.4,571.7 780.9,571.6 781.4,572.0 781.9,572.8 782.4,572.0 782.9,570.6 783.4,571.1 783.9,570.6 784.4,571.2 784.9,572.2 785.4,572.1 785.9,571.3 786.4,572.0 786.9,571.2 787.4,570.8 787.9,570.8 788.4,571.2 788.9,572.8 789.4,570.8 789.9,572.7 790.4,572.7 790.9,571.7 791.4,571.7 791.9,571.3 792.4,571.8 792.9,572.3 793.4,571.8 793.9,572.5 794.4,572.6 794.9,572.0 795.4,572.0 795.9,571.7 796.4,572.0 796.9,571.0 797.4,572.1 797.9,571.9 798.4,571.2 798.9,573.3 799.4,571.1 799.9,571.2 800.4,572.0 800.9,570.4 801.4,571.2 801.9,570.7 802.4,571.1 802.9,571.7 803.4,572.0 803.9,572.6 804.4,572.3 804.9,572.6 805.4,572.2 805.9,571.4 806.4,572.5 806.9,571.4 807.4,571.3 807.9,572.8 808.4,572.3 808.9,571.9 809.4,572.2 809.9,572.3 810.4,570.7 810.9,571.6 811.4,570.8 811.9,571.7 812.4,571.1 812.9,572.4 813.4,571.7 813.9,570.7 814.4,571.1 814.9,570.0 815.4,570.6 815.9,570.6 816.4,570.0 816.9,568.0 817.4,568.7 817.9,568.9 818.4,568.4 818.9,568.8 819.4,566.9 819.9,568.3 820.4,567.6 820.9,568.5 821.4,569.0 821.9,569.6 822.4,569.1 822.9,570.1 823.4,569.5 823.9,569.6 824.4,571.3 824.9,571.0 825.4,570.1 825.9,570.8 826.4,571.5 826.9,572.6 827.4,572.3 827.9,572.2 828.4,570.4 828.9,571.6 829.4,572.0 829.9,572.0 830.4,572.0 830.9,571.6 831.4,573.0 831.9,572.8 832.4,571.7 832.9,571.1 833.4,573.2 833.9,571.4 834.4,572.6 834.9,573.1 835.4,571.1 835.9,572.0 836.4,571.6 836.9,572.2 837.4,572.0 837.9,573.2 838.4,572.2 838.9,571.8 839.4,572.6 839.9,571.6 840.4,571.6 840.9,573.4 841.4,571.3 841.9,571.5 842.4,571.9 842.9,571.1 843.4,570.4 843.9,572.6 844.4,571.3 844.9,571.5 845.4,571.6 845.9,571.1 846.4,571.1 846.9,571.9 847.4,573.5 847.9,572.3 848.4,572.4 848.9,570.8 849.4,571.8 849.9,571.0 850.4,572.4 850.9,571.7 851.4,571.8 851.9,571.8 852.4,571.4 852.9,570.7 853.4,572.2 853.9,570.8 854.4,571.0 854.9,571.6 855.4,571.3 855.9,572.0 856.4,572.5 856.9,571.9 857.4,571.9 857.9,571.8 858.4,572.4 858.9,570.5 859.4,572.0 859.9,571.1 860.4,570.9 860.9,571.7 861.4,571.4 861.9,572.1 862.4,572.4 862.9,570.0 863.4,571.6 863.9,573.0 864.4,572.2 864.9,572.6 865.4,571.7 865.9,570.6 866.4,570.8 866.9,572.0 867.4,572.2 867.9,570.9 868.4,571.2 868.9,571.6 869.4,570.1 869.9,571.1 870.4,572.4 870.9,572.7 871.4,571.1 871.9,572.4 872.4,570.6 872.9,570.4 873.4,569.3 873.9,571.4 874.4,570.3 874.9,572.1 875.4,570.5 875.9,570.2 876.4,568.5 876.9,570.5 877.4,568.7 877.9,568.2 878.4,565.8 878.9,566.8 879.4,565.2 879.9,561.9 880.4,559.7 880.9,556.6 881.4,553.1 881.9,548.3 882.4,545.1 882.9,539.6 883.4,536.0 883.9,533.9 884.4,531.8 884.9,533.6 885.4,536.4 885.9,538.3 886.4,540.6 886.9,545.0 887.4,547.1 887.9,552.1 888.4,556.2 888.9,559.5 889.4,561.1 889.9,564.5 890.4,566.9 890.9,566.6 891.4,568.4 891.9,567.6 892.4,567.9 892.9,570.1 893.4,570.0 893.9,570.4 894.4,570.0 894.9,570.4 895.4,571.3 895.9,572.0 896.4,570.8 896.9,569.9 897.4,572.0 897.9,571.6 898.4,571.7 898.9,571.4 899.4,572.9 899.9,571.4 900.4,571.8 900.9,570.2 901.4,571.1 901.9,571.0 902.4,571.5 902.9,571.8 903.4,571.1 903.9,572.8 904.4,570.9 904.9,571.3 905.4,571.8 905.9,570.8 906.4,572.0 906.9,572.1 907.4,571.5 907.9,573.0 908.4,571.7 908.9,571.8 909.4,570.9 909.9,570.4 910.4,571.0 910.9,571.1 911.4,570.8 911.9,571.5 912.4,569.1 912.9,569.7 913.4,568.9 913.9,570.7 914.4,569.1 914.9,568.9 915.4,568.3 915.9,569.6 916.4,568.7 916.9,569.3 917.4,567.9 917.9,570.3 918.4,570.1 918.9,570.5 919.4,571.2 919.9,570.5 920.4,570.8 920.9,571.6 921.4,571.6 921.9,571.3 922.4,571.6 922.9,571.3 923.4,572.2 923.9,572.4 924.4,571.8 924.9,573.2 925.4,570.8 925.9,571.8 926.4,573.1 926.9,571.7 927.4,570.9 927.9,572.9 928.4,572.4 928.9,571.2 929.4,572.5 929.9,571.3 930.4,571.1 930.9,571.9 931.4,571.7 931.9,571.3 932.4,571.8 932.9,571.4 933.4,572.1 933.9,572.0 934.4,572.6 934.9,571.8 935.4,571.2 935.9,571.2 936.4,571.9 936.9,573.1 937.4,572.7 937.9,571.6 938.4,572.7 938.9,571.3 939.4,572.8 939.9,571.8 940.4,572.6 940.9,572.5 941.4,571.9 941.9,572.3 942.4,571.4 942.9,572.1 943.4,572.9 943.9,574.9 944.4,572.6 944.9,572.2 945.4,571.4 945.9,572.8 946.4,571.0 946.9,571.6 947.4,572.4 947.9,571.3 948.4,573.2 948.9,572.9 949.4,571.7 949.9,571.8 950.4,571.2 950.9,571.2 951.4,572.4 951.9,572.6 952.4,572.4 952.9,572.3 953.4,571.8 953.9,572.4 954.4,571.1 954.9,572.2 955.4,573.2 955.9,573.1 956.4,571.8 956.9,571.9 957.4,573.1 957.9,573.4 958.4,571.1 958.9,571.9 959.4,572.3 959.9,573.0 960.4,571.6 960.9,572.6 961.4,572.0 961.9,573.8 962.4,572.5 962.9,572.1 963.4,571.9 963.9,572.9 964.4,572.6 964.9,571.4 965.4,572.3 965.9,571.3 966.4,571.7 966.9,571.3 967.4,571.3 967.9,571.7 968.4,571.5 968.9,572.5 969.4,572.7 969.9,572.0 970.4,571.4 970.9,572.7 971.4,570.8 971.9,570.9 972.4,572.7 972.9,572.6 973.4,572.9 973.9,572.0 974.4,571.3 974.9,571.8 975.4,572.6 975.9,571.7 976.4,571.7 976.9,571.2 977.4,571.4 977.9,572.8 978.4,572.5 978.9,571.4 979.4,571.5 979.9,571.8 980.4,572.6 980.9,571.4 981.4,572.1 981.9,570.7 982.4,571.3 982.9,572.5 983.4,572.8 983.9,571.4 984.4,571.7 984.9,572.7 985.4,571.9 985.9,571.8 986.4,572.5 986.9,572.3 987.4,572.9 987.9,572.7 988.4,571.8 988.9,572.1 989.4,572.1 989.9,571.2 990.4,571.5 990.9,572.8 991.4,571.1 991.9,572.8 992.4,572.3 992.9,572.0 993.4,572.5 993.9,572.4 994.4,572.9 994.9,571.8 995.4,571.9 995.9,571.9 996.4,573.3 996.9,572.6 997.4,571.4 997.9,571.7 998.4,571.5 998.9,571.9 999.4,572.0 999.9,573.3 1000.4,570.5 1000.9,572.3 1001.4,571.8 1001.9,570.8 1002.4,571.0 1002.9,570.4 1003.4,570.3 1003.9,570.4 1004.4,568.1 1004.9,569.2 1005.4,567.2 1005.9,567.5 1006.4,565.9 1006.9,565.8 1007.4,564.8 1007.9,565.0 1008.4,564.4 1008.9,564.1 1009.4,565.5 1009.9,566.0 1010.4,567.6 1010.9,565.5 1011.4,567.5 1011.9,569.1 1012.4,568.2 1012.9,569.5 1013.4,571.6 1013.9,571.5 1014.4,570.3 1014.9,572.1 1015.4,572.2 1015.9,572.1 1016.4,571.9 1016.9,571.9 1017.4,571.2 1017.9,571.5 1018.4,572.4 1018.9,572.0 1019.4,573.2 1019.9,571.7 1020.4,570.3 1020.9,571.7 1021.4,572.1 1021.9,572.2 1022.4,572.0 1022.9,571.4 1023.4,572.9 1023.9,571.5 1024.4,572.4 1024.9,571.7 1025.4,571.1 1025.9,572.8 1026.4,570.1 1026.9,571.2 1027.4,572.0 1027.9,571.4 1028.4,572.1 1028.9,571.4 1029.4,571.1 1029.9,572.8 1030.4,571.1 1030.9,571.0 1031.4,570.3 1031.9,570.4 1032.4,571.2 1032.9,571.0 1033.4,570.5 1033.9,569.8 1034.4,570.6 1034.9,568.8 1035.4,569.6 1035.9,569.5 1036.4,568.9 1036.9,569.5 1037.4,568.8 1037.9,568.6 1038.4,570.2 1038.9,569.4 1039.4,569.7 1039.9,568.9 1040.4,569.5 1040.9,569.4 1041.4,569.8 1041.9,570.7 1042.4,569.0 1042.9,569.5 1043.4,569.4 1043.9,567.3 1044.4,568.9 1044.9,570.0 1045.4,570.5 1045.9,569.9 1046.4,571.2 1046.9,571.5 1047.4,570.5 1047.9,571.9 1048.4,572.2 1048.9,571.5 1049.4,570.6 1049.9,572.4 1050.4,571.4 1050.9,571.3 1051.4,571.8 1051.9,571.4 1052.4,572.5 1052.9,572.4 1053.4,572.7 1053.9,572.4 1054.4,571.5 1054.9,571.9 1055.4,572.7 1055.9,571.8 1056.4,574.1 1056.9,572.0 1057.4,571.8 1057.9,573.0 1058.4,572.7 1058.9,572.2 1059.4,572.1 1059.9,572.5 1060.4,572.8 1060.9,572.8 1061.4,572.1 1061.9,572.6 1062.4,572.8 1062.9,572.8 1063.4,570.3 1063.9,571.7 1064.4,571.8 1064.9,572.2 1065.4,572.4 1065.9,572.9 1066.4,572.7 1066.9,572.3 1067.4,572.4 1067.9,573.5 1068.4,571.9 1068.9,572.6 1069.4,573.4 1069.9,572.6 1070.4,571.0 1070.9,572.6 1071.4,572.1 1071.9,572.3 1072.4,573.1 1072.9,572.7 1073.4,572.2 1073.9,573.0 1074.4,572.7 1074.9,572.4 1075.4,572.6 1075.9,572.5 1076.4,572.2 1076.9,572.1 1077.4,572.4 1077.9,571.8 1078.4,571.6 1078.9,573.2 1079.4,572.2 1079.9,572.4 1080.4,572.3 1080.9,572.4 1081.4,572.4 1081.9,572.4 1082.4,571.9 1082.9,573.0 1083.4,571.9 1083.9,573.1 1084.4,571.1 1084.9,571.7 1085.4,573.0 1085.9,572.3 1086.4,571.9 1086.9,572.6 1087.4,571.7 1087.9,572.4 1088.4,570.9 1088.9,572.1 1089.4,572.0 1089.9,572.7 1090.4,572.9 1090.9,571.8 1091.4,573.4 1091.9,572.0 1092.4,571.0 1092.9,570.8 1093.4,573.4 1093.9,572.3 1094.4,571.9 1094.9,571.9 1095.4,571.6 1095.9,573.2 1096.4,572.3 1096.9,573.5 1097.4,572.2 1097.9,570.8 1098.4,572.9 1098.9,572.1 1099.4,572.1 1099.9,573.3 1100.4,572.1 1100.9,573.0 1101.4,572.3 1101.9,571.8 1102.4,572.6 1102.9,571.8 1103.4,573.0 1103.9,572.8 1104.4,572.2 1104.9,572.6 1105.4,572.5 1105.9,571.9 1106.4,572.7 1106.9,571.9 1107.4,572.5 1107.9,571.4 1108.4,572.1 1108.9,572.2 1109.4,571.4 1109.9,571.6 1110.4,571.5 1110.9,572.3 1111.4,571.3 1111.9,572.0 1112.4,572.6 1112.9,571.8 1113.4,570.4 1113.9,571.5 1114.4,572.0 1114.9,571.0 1115.4,571.7 1115.9,571.3 1116.4,570.9 1116.9,570.2 1117.4,569.8 1117.9,569.5 1118.4,569.2 1118.9,568.7 1119.4,567.6 1119.9,565.7 1120.4,564.1 1120.9,561.9 1121.4,557.5 1121.9,554.4 1122.4,550.2 1122.9,546.1 1123.4,541.4 1123.9,537.2 1124.4,533.4 1124.9,532.5 1125.4,531.8 1125.9,531.4 1126.4,534.2 1126.9,535.6 1127.4,539.8 1127.9,541.2 1128.4,544.4 1128.9,548.2 1129.4,551.6 1129.9,555.1 1130.4,559.3 1130.9,561.2 1131.4,563.9 1131.9,566.0 1132.4,566.1 1132.9,569.0 1133.4,569.3 1133.9,570.1 1134.4,569.4 1134.9,570.9 1135.4,570.9 1135.9,570.5 1136.4,572.5 1136.9,571.6 1137.4,571.2 1137.9,571.6 1138.4,572.1 1138.9,572.4 1139.4,572.1 1139.9,572.6 1140.4,572.8 1140.9,571.1 1141.4,571.6 1141.9,571.4 1142.4,572.1 1142.9,573.0 1143.4,572.5 1143.9,571.5 1144.4,572.0 1144.9,572.9 1145.4,571.9 1145.9,572.2 1146.4,572.5 1146.9,571.1 1147.4,572.8 1147.9,572.5 1148.4,572.7 1148.9,571.7 1149.4,571.9 1149.9,572.0 1150.4,572.6 1150.9,572.5 1151.4,572.5 1151.9,573.6 1152.4,573.3 1152.9,572.0 1153.4,572.0 1153.9,573.6 1154.4,572.3 1154.9,573.4 1155.4,573.5 1155.9,572.2 1156.4,572.3 1156.9,572.6 1157.4,572.0 1157.9,571.9 1158.4,572.3 1158.9,573.1 1159.4,572.3 1159.9,572.4 1160.4,572.3 1160.9,571.7 1161.4,573.5 1161.9,571.1 1162.4,572.2 1162.9,572.9 1163.4,571.7 1163.9,573.0 1164.4,573.4 1164.9,572.1 1165.4,572.7 1165.9,571.9 1166.4,572.9 1166.9,572.7 1167.4,572.8 1167.9,573.5 1168.4,572.9 1168.9,573.5 1169.4,573.0 1169.9,571.9 1170.4,572.8 1170.9,573.0 1171.4,571.7 1171.9,573.5 1172.4,572.7 1172.9,572.9 1173.4,572.1 1173.9,572.7 1174.4,572.9 1174.9,572.5 1175.4,572.7 1175.9,571.3 1176.4,573.5 1176.9,572.0 1177.4,571.3 1177.9,572.1 1178.4,572.2 1178.9,573.0 1179.4,572.1 1179.9,572.9 1180.4,572.1 1180.9,574.1 1181.4,573.0 1181.9,573.9 1182.4,572.1 1182.9,573.1 1183.4,572.1 1183.9,573.1 1184.4,573.1 1184.9,571.7 1185.4,572.0 1185.9,572.0 1186.4,571.8 1186.9,572.3 1187.4,572.1 1187.9,571.8 1188.4,572.8 1188.9,573.1 1189.4,571.9 1189.9,572.4 1190.4,572.7 1190.9,572.6 1191.4,572.3 1191.9,573.2 1192.4,573.3 1192.9,573.2 1193.4,572.6 1193.9,574.0 1194.4,573.8 1194.9,572.5 1195.4,572.7 1195.9,573.5 1196.4,572.2 1196.9,573.0 1197.4,572.8 1197.9,572.3 1198.4,572.6 1198.9,571.8 1199.4,572.4 1199.9,571.5 1200.4,574.2 1200.9,573.7 1201.4,573.5 1201.9,572.9 1202.4,573.4 1202.9,573.6 1203.4,573.4 1203.9,573.3 1204.4,572.2 1204.9,573.0 1205.4,572.4 1205.9,572.0 1206.4,572.0 1206.9,573.0 1207.4,573.4 1207.9,571.9 1208.4,573.9 1208.9,573.7 1209.4,572.5 1209.9,572.5 1210.4,572.7 1210.9,573.4 1211.4,572.5 1211.9,572.1 1212.4,573.0 1212.9,571.5 1213.4,572.8 1213.9,573.5 1214.4,573.0 1214.9,573.2 1215.4,573.1 1215.9,573.2 1216.4,572.8 1216.9,572.2 1217.4,572.6 1217.9,572.7 1218.4,573.5 1218.9,573.8 1219.4,573.0 1219.9,572.3 1220.4,572.3 1220.9,572.6 1221.4,573.6 1221.9,572.9 1222.4,572.7 1222.9,572.2 1223.4,573.3 1223.9,572.9 1224.4,572.7 1224.9,572.8 1225.4,573.7 1225.9,572.6 1226.4,573.7 1226.9,573.4 1227.4,572.7 1227.9,573.2 1228.4,572.5 1228.9,572.1 1229.4,572.4 1229.9,572.0 1230.4,572.8 1230.9,572.4 1231.4,572.7 1231.9,572.7 1232.4,570.1 1232.9,572.0 1233.4,570.4 1233.9,571.3 1234.4,570.2 1234.9,570.3 1235.4,570.5 1235.9,567.9 1236.4,568.5 1236.9,567.8 1237.4,566.3 1237.9,567.8 1238.4,567.4 1238.9,567.3 1239.4,567.4 1239.9,570.2 1240.4,568.2 1240.9,567.7 1241.4,568.6 1241.9,569.3 1242.4,569.8 1242.9,570.4 1243.4,570.2 1243.9,571.6 1244.4,571.2 1244.9,571.0 1245.4,571.5 1245.9,572.0 1246.4,572.9 1246.9,572.7 1247.4,572.3 1247.9,572.6 1248.4,572.7 1248.9,573.9 1249.4,572.3 1249.9,573.0 1250.4,573.2 1250.9,572.1 1251.4,572.9 1251.9,572.8 1252.4,572.5 1252.9,573.1 1253.4,573.4 1253.9,573.5 1254.4,572.7 1254.9,572.9 1255.4,574.3 1255.9,572.1 1256.4,573.0 1256.9,573.4 1257.4,572.9 1257.9,573.2 1258.4,572.9 1258.9,573.3 1259.4,573.6 1259.9,572.7 1260.4,573.0 1260.9,572.8 1261.4,572.6 1261.9,572.9 1262.4,572.2 1262.9,573.3 1263.4,573.9 1263.9,573.9 1264.4,573.7 1264.9,572.3 1265.4,573.8 1265.9,572.4 1266.4,572.9 1266.9,574.0 1267.4,572.2 1267.9,573.4 1268.4,573.1 1268.9,572.8 1269.4,572.4 1269.9,573.2 1270.4,572.6 1270.9,573.5 1271.4,573.7 1271.9,572.1 1272.4,572.6 1272.9,572.7 1273.4,572.2 1273.9,572.2 1274.4,573.0 1274.9,572.8 1275.4,571.9 1275.9,572.6 1276.4,573.2 1276.9,572.2 1277.4,572.4 1277.9,573.9 1278.4,573.7 1278.9,571.9 1279.4,572.1 1279.9,573.2 1280.4,572.2 1280.9,572.8 1281.4,572.7 1281.9,573.3 1282.4,571.4 1282.9,571.6 1283.4,572.2 1283.9,573.6 1284.4,572.8 1284.9,571.9 1285.4,573.2 1285.9,573.4 1286.4,572.8 1286.9,572.7 1287.4,573.2 1287.9,573.7 1288.4,573.0 1288.9,573.3 1289.4,572.9 1289.9,572.7 1290.4,572.4 1290.9,573.1 1291.4,572.8 1291.9,572.8 1292.4,573.5 1292.9,573.3 1293.4,573.5 1293.9,572.0 1294.4,573.3 1294.9,572.6 1295.4,572.5 1295.9,572.4 1296.4,573.7 1296.9,573.5 1297.4,572.5 1297.9,572.3 1298.4,573.0 1298.9,572.7 1299.4,574.0 1299.9,572.1 1300.4,571.8 1300.9,572.8 1301.4,573.0 1301.9,573.0 1302.4,573.4 1302.9,574.2 1303.4,572.8 1303.9,572.6 1304.4,571.9 1304.9,573.1 1305.4,573.5 1305.9,572.8 1306.4,573.7 1306.9,573.0 1307.4,573.9 1307.9,573.2 1308.4,572.3 1308.9,572.6 1309.4,572.0 1309.9,571.9 1310.4,573.1 1310.9,573.5 1311.4,574.1 1311.9,572.9 1312.4,572.8 1312.9,572.3 1313.4,573.5 1313.9,573.2 1314.4,572.6 1314.9,573.3 1315.4,573.3 1315.9,571.8 1316.4,573.4 1316.9,573.0 1317.4,572.7 1317.9,572.6 1318.4,574.0 1318.9,573.8 1319.4,574.0 1319.9,572.2 1320.4,572.5 1320.9,573.4 1321.4,572.1 1321.9,572.4 1322.4,571.7 1322.9,573.9 1323.4,573.4 1323.9,573.1 1324.4,572.9 1324.9,572.5 1325.4,572.5 1325.9,573.1 1326.4,572.2 1326.9,573.4 1327.4,572.3 1327.9,572.0 1328.4,573.3 1328.9,572.4 1329.4,572.7 1329.9,572.0 1330.4,570.8 1330.9,572.3 1331.4,571.0 1331.9,572.2 1332.4,570.2 1332.9,569.4 1333.4,570.0 1333.9,569.2 1334.4,567.8 1334.9,565.7 1335.4,565.5 1335.9,562.4 1336.4,561.5 1336.9,559.9 1337.4,559.2 1337.9,559.6 1338.4,558.9 1338.9,560.1 1339.4,560.9 1339.9,560.2 1340.4,561.2 1340.9,562.4 1341.4,563.0 1341.9,564.3 1342.4,563.9 1342.9,566.6 1343.4,567.7 1343.9,568.1 1344.4,568.3 1344.9,569.9 1345.4,570.2 1345.9,571.4 1346.4,571.4 1346.9,572.2 1347.4,571.8 1347.9,573.1 1348.4,570.9 1348.9,571.8 1349.4,572.8 1349.9,571.7 1350.4,573.1 1350.9,571.9 1351.4,572.8 1351.9,572.2 1352.4,572.5 1352.9,572.9 1353.4,572.7 1353.9,572.6 1354.4,574.1 1354.9,572.9 1355.4,572.3 1355.9,573.5 1356.4,573.4 1356.9,573.7 1357.4,574.0 1357.9,572.4 1358.4,573.6 1358.9,573.7 1359.4,573.0 1359.9,573.1 1360.4,571.2 1360.9,572.7 1361.4,574.1 1361.9,571.9 1362.4,572.7 1362.9,573.2 1363.4,573.4 1363.9,574.0 1364.4,572.0 1364.9,573.1 1365.4,573.6 1365.9,572.3 1366.4,573.0 1366.9,574.2 1367.4,573.9 1367.9,573.4 1368.4,571.5 1368.9,573.0 1369.4,573.3 1369.9,572.9 1370.4,573.0 1370.9,574.9 1371.4,573.0 1371.9,572.5 1372.4,573.2 1372.9,572.9 1373.4,572.9 1373.9,573.1 1374.4,573.6 1374.9,573.3 1375.4,572.4 1375.9,573.0 1376.4,573.4 1376.9,572.8 1377.4,573.8 1377.9,573.6 1378.4,572.5 1378.9,573.3 1379.4,574.3 1379.9,574.1 1380.4,573.1 1380.9,573.7 1381.4,572.7 1381.9,572.3 1382.4,573.5 1382.9,573.3 1383.4,573.4 1383.9,573.1 1384.4,573.3 1384.9,572.8 1385.4,573.4 1385.9,573.6 1386.4,573.1 1386.9,573.6 1387.4,572.1 1387.9,572.7 1388.4,574.0 1388.9,574.2 1389.4,573.3 1389.9,573.1 1390.4,572.4 1390.9,573.4 1391.4,573.6 1391.9,572.3 1392.4,573.5 1392.9,573.5 1393.4,573.4 1393.9,572.5 1394.4,573.5 1394.9,572.3 1395.4,574.0 1395.9,573.2 1396.4,572.5 1396.9,574.0 1397.4,573.9 1397.9,572.8 1398.4,574.5 1398.9,572.6 1399.4,573.4 1399.9,573.9 1400.4,571.8 1400.9,573.8 1401.4,573.1 1401.9,573.2 1402.4,572.5 1402.9,573.4 1403.4,572.5 1403.9,572.6 1404.4,572.9 1404.9,572.4 1405.4,574.1 1405.9,572.4 1406.4,572.7 1406.9,573.0 1407.4,573.2 1407.9,573.6 1408.4,573.7 1408.9,573.0 1409.4,572.9 1409.9,573.2 1410.4,573.6 1410.9,573.6 1411.4,572.9 1411.9,571.9 1412.4,574.4 1412.9,573.7 1413.4,573.3 1413.9,573.4 1414.4,572.8 1414.9,572.6 1415.4,573.0 1415.9,573.0 1416.4,572.8 1416.9,572.3 1417.4,572.9 1417.9,573.5 1418.4,572.8 1418.9,573.1 1419.4,571.9 1419.9,573.0 1420.4,573.0 1420.9,572.4 1421.4,572.1 1421.9,573.3 1422.4,572.6 1422.9,573.4 1423.4,572.8 1423.9,573.4 1424.4,572.8 1424.9,572.1 1425.4,572.9 1425.9,572.8 1426.4,573.3 1426.9,572.6 1427.4,572.6 1427.9,573.3 1428.4,573.5 1428.9,573.2 1429.4,573.3 1429.9,572.9 1430.4,573.0 1430.9,572.9 1431.4,572.5 1431.9,572.2 1432.4,572.1 1432.9,573.3 1433.4,571.7 1433.9,571.4 1434.4,571.1 1434.9,571.1 1435.4,571.0 1435.9,570.0 1436.4,569.2 1436.9,570.3 1437.4,568.9 1437.9,569.8 1438.4,569.5 1438.9,569.9 1439.4,570.0 1439.9,569.1 1440.4,568.5 1440.9,568.1 1441.4,568.4 1441.9,568.9 1442.4,567.8 1442.9,569.2 1443.4,569.3 1443.9,569.9 1444.4,569.6 1444.9,570.1 1445.4,569.9 1445.9,570.3 1446.4,569.8 1446.9,571.1 1447.4,572.2 1447.9,571.6 1448.4,571.9 1448.9,571.3 1449.4,572.8 1449.9,571.7 1450.4,572.8 1450.9,572.5 1451.4,572.0 1451.9,573.2 1452.4,572.7 1452.9,572.9 1453.4,573.1 1453.9,572.9 1454.4,572.7 1454.9,573.2 1455.4,572.8 1455.9,573.1 1456.4,572.7 1456.9,572.2 1457.4,572.7 1457.9,572.8 1458.4,573.1 1458.9,573.8 1459.4,572.2 1459.9,573.2 1460.4,571.9 1460.9,572.6 1461.4,572.9 1461.9,571.9 1462.4,572.1 1462.9,573.3 1463.4,573.3 1463.9,573.2 1464.4,572.8 1464.9,574.5 1465.4,573.1 1465.9,572.7 1466.4,574.2 1466.9,573.6 1467.4,573.0 1467.9,573.9 1468.4,573.4 1468.9,573.6 1469.4,573.4 1469.9,572.7 1470.4,573.8 1470.9,573.4 1471.4,572.7 1471.9,572.8 1472.4,573.8 1472.9,573.1 1473.4,573.3 1473.9,573.7 1474.4,573.4 1474.9,572.4 1475.4,573.7 1475.9,573.8 1476.4,573.8 1476.9,574.2 1477.4,573.5 1477.9,573.8 1478.4,574.2 1478.9,573.2 1479.4,574.3 1479.9,574.3 1480.4,573.8 1480.9,574.4 1481.4,573.8 1481.9,572.8 1482.4,574.0 1482.9,573.5 1483.4,573.6 1483.9,573.4 1484.4,574.1 1484.9,573.7 1485.4,572.9 1485.9,573.6 1486.4,573.8 1486.9,572.9 1487.4,573.1 1487.9,573.1 1488.4,573.0 1488.9,573.5 1489.4,573.9 1489.9,574.4 1490.4,574.0 1490.9,573.9 1491.4,574.0 1491.9,574.1 1492.4,573.1 1492.9,573.7 1493.4,573.5 1493.9,573.3 1494.4,573.1 1494.9,573.1 1495.4,573.2 1495.9,572.6 1496.4,573.6 1496.9,573.3 1497.4,573.4 1497.9,573.5 1498.4,573.8 1498.9,573.0 1499.4,573.3 1499.9,572.4 1500.4,572.1 1500.9,572.2 1501.4,574.2 1501.9,572.3 1502.4,573.6 1502.9,574.2 1503.4,573.1 1503.9,574.3 1504.4,574.4 1504.9,573.9 1505.4,574.7 1505.9,573.7 1506.4,572.9 1506.9,573.6 1507.4,573.1 1507.9,572.6 1508.4,572.6 1508.9,574.6 1509.4,573.0 1509.9,573.3 1510.4,572.9 1510.9,573.4 1511.4,573.1 1511.9,573.0 1512.4,572.6 1512.9,572.5 1513.4,572.8 1513.9,573.4 1514.4,574.4 1514.9,573.8 1515.4,574.3 1515.9,573.5 1516.4,573.1 1516.9,572.4 1517.4,573.2 1517.9,571.9 1518.4,573.0 1518.9,574.0 1519.4,573.3 1519.9,573.7 1520.4,572.8 1520.9,572.2 1521.4,572.7 1521.9,572.7 1522.4,573.6 1522.9,574.0 1523.4,572.4 1523.9,572.6 1524.4,572.6 1524.9,572.4 1525.4,571.8 1525.9,572.5 1526.4,572.5 1526.9,572.3 1527.4,571.2 1527.9,571.6 1528.4,570.4 1528.9,571.6 1529.4,570.1 1529.9,570.1 1530.4,569.5 1530.9,568.8 1531.4,568.0 1531.9,566.9 1532.4,568.2 1532.9,566.6 1533.4,565.8 1533.9,566.1 1534.4,564.1 1534.9,563.8 1535.4,562.9 1535.9,563.1 1536.4,562.4 1536.9,562.2 1537.4,561.9 1537.9,562.5 1538.4,563.4 1538.9,562.1 1539.4,563.8 1539.9,564.4 1540.4,565.2 1540.9,565.0 1541.4,567.3 1541.9,567.1 1542.4,568.2 1542.9,568.6 1543.4,568.6 1543.9,569.8 1544.4,569.4 1544.9,570.3 1545.4,571.0 1545.9,571.5 1546.4,571.8 1546.9,571.9 1547.4,573.4 1547.9,572.5 1548.4,571.7 1548.9,572.1 1549.4,572.2 1549.9,572.5 1550.4,572.3 1550.9,572.2 1551.4,573.6 1551.9,572.6 1552.4,572.4 1552.9,572.4 1553.4,572.4 1553.9,573.2 1554.4,572.6 1554.9,572.9 1555.4,570.4 1555.9,572.2 1556.4,572.5 1556.9,572.9 1557.4,571.7 1557.9,570.6 1558.4,571.8 1558.9,571.1 1559.4,570.4 1559.9,571.0 1560.4,572.0 1560.9,572.1 1561.4,571.9 1561.9,571.0 1562.4,573.2 1562.9,571.2 1563.4,572.0 1563.9,571.4 1564.4,573.0 1564.9,572.7 1565.4,573.1 1565.9,572.7 1566.4,572.7 1566.9,573.0 1567.4,571.9 1567.9,573.6 1568.4,573.6 1568.9,572.9 1569.4,573.2 1569.9,573.4 1570.4,574.2 1570.9,573.6 1571.4,573.4 1571.9,573.1 1572.4,572.6 1572.9,573.1 1573.4,573.5 1573.9,573.3 1574.4,573.5 1574.9,573.9 1575.4,573.7 1575.9,573.6 1576.4,573.9 1576.9,573.6 1577.4,573.5 1577.9,573.8 1578.4,572.6 1578.9,574.2 1579.4,572.8 1579.9,574.0 1580.4,573.5 1580.9,574.2 1581.4,573.6 1581.9,573.0 1582.4,574.2 1582.9,573.7 1583.4,573.6 1583.9,573.6 1584.4,574.1 1584.9,574.0 1585.4,573.7 1585.9,572.7 1586.4,573.4 1586.9,573.7 1587.4,574.6 1587.9,573.8 1588.4,573.6 1588.9,574.3 1589.4,573.6 1589.9,573.6 1590.4,573.7 1590.9,572.8 1591.4,574.2 1591.9,573.9 1592.4,573.5 1592.9,573.0 1593.4,573.8 1593.9,574.4 1594.4,573.3 1594.9,573.1 1595.4,573.9 1595.9,572.8 1596.4,572.4 1596.9,573.4 1597.4,573.3 1597.9,573.5 1598.4,573.4 1598.9,573.8 1599.4,573.5 1599.9,573.3 1600.4,573.4 1600.9,574.0 1601.4,574.2 1601.9,574.2 1602.4,574.1 1602.9,571.9 1603.4,573.1 1603.9,573.5 1604.4,573.8 1604.9,572.8 1605.4,574.5 1605.9,573.9 1606.4,573.3 1606.9,573.8" fill="none" stroke="#008400" stroke-width="4.9" stroke-linejoin="round"/>
<polyline points="111.4,701.1 111.9,700.7 112.4,701.8 112.9,701.0 113.4,700.1 113.9,700.8 114.4,701.3 114.9,700.4 115.4,702.4 115.9,700.4 116.4,702.8 116.9,702.1 117.4,700.6 117.9,701.5 118.4,702.4 118.9,701.2 119.4,700.3 119.9,701.5 120.4,703.0 120.9,700.1 121.4,701.8 121.9,701.4 122.4,701.3 122.9,701.0 123.4,701.1 123.9,702.2 124.4,701.9 124.9,700.5 125.4,702.7 125.9,700.3 126.4,701.9 126.9,701.5 127.4,702.4 127.9,701.7 128.4,702.3 128.9,701.4 129.4,702.2 129.9,701.7 130.4,703.2 130.9,700.8 131.4,702.4 131.9,701.8 132.4,701.5 132.9,700.9 133.4,701.8 133.9,700.1 134.4,700.2 134.9,702.0 135.4,700.1 135.9,702.6 136.4,701.2 136.9,701.6 137.4,701.5 137.9,701.7 138.4,701.2 138.9,701.1 139.4,701.3 139.9,702.3 140.4,702.4 140.9,702.5 141.4,701.7 141.9,701.2 142.4,700.0 142.9,701.9 143.4,702.1 143.9,701.1 144.4,702.1 144.9,702.5 145.4,701.5 145.9,702.3 146.4,701.7 146.9,699.9 147.4,701.0 147.9,701.1 148.4,701.9 148.9,700.7 149.4,701.0 149.9,700.6 150.4,701.4 150.9,701.5 151.4,702.2 151.9,702.1 152.4,701.5 152.9,701.6 153.4,701.5 153.9,701.5 154.4,702.7 154.9,699.3 155.4,701.3 155.9,701.7 156.4,702.4 156.9,700.5 157.4,701.7 157.9,702.1 158.4,701.0 158.9,699.8 159.4,701.1 159.9,700.4 160.4,702.0 160.9,700.7 161.4,702.9 161.9,701.5 162.4,700.7 162.9,701.0 163.4,700.5 163.9,701.8 164.4,702.7 164.9,701.2 165.4,702.2 165.9,700.6 166.4,701.7 166.9,703.4 167.4,700.3 167.9,702.5 168.4,702.4 168.9,699.9 169.4,700.2 169.9,700.6 170.4,702.2 170.9,701.1 171.4,701.3 171.9,702.0 172.4,701.5 172.9,701.6 173.4,701.2 173.9,702.4 174.4,700.8 174.9,702.8 175.4,701.2 175.9,700.8 176.4,702.0 176.9,701.8 177.4,699.8 177.9,701.6 178.4,700.3 178.9,700.7 179.4,702.1 179.9,700.7 180.4,701.7 180.9,701.1 181.4,703.1 181.9,701.4 182.4,700.5 182.9,700.5 183.4,700.7 183.9,701.6 184.4,701.4 184.9,702.3 185.4,701.6 185.9,701.6 186.4,701.7 186.9,701.3 187.4,701.7 187.9,702.1 188.4,702.1 188.9,701.0 189.4,700.0 189.9,700.8 190.4,701.7 190.9,699.4 191.4,701.1 191.9,701.8 192.4,701.0 192.9,700.5 193.4,702.9 193.9,702.6 194.4,701.2 194.9,702.6 195.4,702.5 195.9,700.5 196.4,703.7 196.9,700.7 197.4,701.2 197.9,700.5 198.4,701.5 198.9,700.4 199.4,701.4 199.9,702.4 200.4,701.6 200.9,701.2 201.4,702.7 201.9,700.7 202.4,702.3 202.9,701.2 203.4,701.6 203.9,701.5 204.4,701.6 204.9,701.4 205.4,700.8 205.9,701.0 206.4,701.8 206.9,701.4 207.4,700.5 207.9,700.9 208.4,700.9 208.9,701.4 209.4,701.6 209.9,701.5 210.4,700.9 210.9,701.5 211.4,700.3 211.9,699.1 212.4,701.4 212.9,700.1 213.4,700.7 213.9,700.5 214.4,702.0 214.9,700.5 215.4,701.7 215.9,701.0 216.4,700.4 216.9,700.1 217.4,701.8 217.9,701.8 218.4,702.1 218.9,703.0 219.4,701.7 219.9,701.7 220.4,701.3 220.9,701.5 221.4,701.2 221.9,700.7 222.4,703.1 222.9,699.9 223.4,701.7 223.9,701.8 224.4,701.6 224.9,700.7 225.4,701.3 225.9,701.1 226.4,700.6 226.9,701.4 227.4,701.1 227.9,701.0 228.4,702.0 228.9,700.6 229.4,701.8 229.9,700.9 230.4,701.8 230.9,701.5 231.4,701.6 231.9,700.6 232.4,700.8 232.9,700.7 233.4,701.6 233.9,702.1 234.4,702.3 234.9,701.0 235.4,701.5 235.9,700.1 236.4,699.6 236.9,700.7 237.4,700.9 237.9,700.2 238.4,700.0 238.9,701.9 239.4,700.8 239.9,700.1 240.4,703.4 240.9,701.6 241.4,701.2 241.9,702.0 242.4,700.8 242.9,702.7 243.4,700.2 243.9,700.4 244.4,701.3 244.9,700.8 245.4,702.6 245.9,700.1 246.4,700.8 246.9,701.6 247.4,701.9 247.9,702.3 248.4,701.7 248.9,703.2 249.4,701.1 249.9,701.6 250.4,702.1 250.9,701.2 251.4,701.2 251.9,701.1 252.4,700.9 252.9,700.5 253.4,701.0 253.9,700.2 254.4,701.8 254.9,700.1 255.4,703.1 255.9,702.8 256.4,702.3 256.9,701.3 257.4,701.0 257.9,702.4 258.4,701.6 258.9,701.9 259.4,700.9 259.9,702.3 260.4,700.8 260.9,701.5 261.4,700.0 261.9,700.9 262.4,701.9 262.9,701.1 263.4,701.1 263.9,702.1 264.4,701.4 264.9,702.5 265.4,699.5 265.9,701.9 266.4,701.9 266.9,700.2 267.4,700.4 267.9,702.2 268.4,700.6 268.9,700.9 269.4,701.9 269.9,701.2 270.4,701.8 270.9,700.7 271.4,701.7 271.9,702.3 272.4,701.7 272.9,699.7 273.4,702.0 273.9,701.5 274.4,700.7 274.9,702.6 275.4,700.0 275.9,703.0 276.4,700.9 276.9,702.7 277.4,701.4 277.9,700.4 278.4,701.5 278.9,701.7 279.4,701.9 279.9,702.3 280.4,700.7 280.9,701.9 281.4,702.1 281.9,701.2 282.4,700.7 282.9,700.7 283.4,702.1 283.9,702.1 284.4,700.8 284.9,700.4 285.4,702.5 285.9,700.2 286.4,701.6 286.9,700.8 287.4,700.0 287.9,701.6 288.4,701.3 288.9,702.6 289.4,703.3 289.9,701.3 290.4,702.3 290.9,702.3 291.4,701.0 291.9,700.8 292.4,702.8 292.9,701.2 293.4,701.4 293.9,701.2 294.4,701.4 294.9,701.0 295.4,702.1 295.9,702.5 296.4,701.2 296.9,700.4 297.4,701.5 297.9,700.3 298.4,701.0 298.9,702.5 299.4,703.3 299.9,701.8 300.4,700.6 300.9,702.1 301.4,699.7 301.9,700.9 302.4,702.7 302.9,702.1 303.4,700.4 303.9,700.1 304.4,702.2 304.9,701.4 305.4,701.0 305.9,701.8 306.4,701.0 306.9,699.9 307.4,702.1 307.9,701.0 308.4,700.7 308.9,700.4 309.4,701.7 309.9,700.8 310.4,702.0 310.9,701.3 311.4,702.4 311.9,701.2 312.4,701.0 312.9,699.9 313.4,700.6 313.9,702.1 314.4,703.9 314.9,700.5 315.4,700.7 315.9,701.8 316.4,701.9 316.9,700.9 317.4,701.6 317.9,700.2 318.4,701.3 318.9,702.2 319.4,702.8 319.9,701.4 320.4,701.3 320.9,701.9 321.4,702.4 321.9,701.9 322.4,700.9 322.9,701.8 323.4,702.3 323.9,700.9 324.4,700.4 324.9,701.9 325.4,701.8 325.9,702.3 326.4,701.6 326.9,701.0 327.4,701.1 327.9,700.7 328.4,700.7 328.9,701.0 329.4,701.1 329.9,702.4 330.4,700.5 330.9,701.5 331.4,701.0 331.9,702.7 332.4,701.7 332.9,701.2 333.4,702.2 333.9,701.6 334.4,701.1 334.9,702.7 335.4,702.1 335.9,702.9 336.4,702.4 336.9,702.1 337.4,701.6 337.9,700.6 338.4,702.1 338.9,701.6 339.4,702.0 339.9,701.5 340.4,700.9 340.9,700.7 341.4,702.1 341.9,702.5 342.4,701.3 342.9,701.9 343.4,702.6 343.9,700.8 344.4,701.2 344.9,700.6 345.4,702.4 345.9,701.7 346.4,701.1 346.9,700.2 347.4,701.3 347.9,702.3 348.4,701.2 348.9,701.1 349.4,702.0 349.9,700.5 350.4,701.5 350.9,702.0 351.4,700.9 351.9,700.8 352.4,701.7 352.9,701.4 353.4,701.3 353.9,701.6 354.4,701.6 354.9,700.7 355.4,700.9 355.9,701.8 356.4,702.3 356.9,702.5 357.4,700.8 357.9,702.3 358.4,702.0 358.9,701.4 359.4,701.8 359.9,702.1 360.4,702.8 360.9,700.5 361.4,701.8 361.9,701.2 362.4,701.2 362.9,702.2 363.4,702.0 363.9,700.5 364.4,701.1 364.9,701.4 365.4,700.1 365.9,701.9 366.4,701.1 366.9,701.3 367.4,701.4 367.9,702.5 368.4,701.1 368.9,700.7 369.4,702.3 369.9,700.4 370.4,700.3 370.9,699.5 371.4,701.4 371.9,700.5 372.4,700.4 372.9,699.8 373.4,699.1 373.9,697.9 374.4,697.0 374.9,696.8 375.4,695.0 375.9,694.4 376.4,690.5 376.9,688.5 377.4,685.8 377.9,685.7 378.4,682.3 378.9,683.2 379.4,684.0 379.9,683.9 380.4,686.3 380.9,686.2 381.4,689.7 381.9,690.9 382.4,694.2 382.9,695.7 383.4,696.4 383.9,698.8 384.4,699.2 384.9,699.0 385.4,699.5 385.9,699.0 386.4,700.3 386.9,702.3 387.4,700.2 387.9,701.1 388.4,700.5 388.9,701.6 389.4,701.4 389.9,700.9 390.4,699.7 390.9,700.8 391.4,702.1 391.9,701.0 392.4,701.7 392.9,700.9 393.4,699.8 393.9,701.7 394.4,701.6 394.9,700.9 395.4,701.1 395.9,701.6 396.4,700.9 396.9,701.7 397.4,701.3 397.9,699.6 398.4,701.3 398.9,701.0 399.4,700.8 399.9,701.8 400.4,701.1 400.9,701.9 401.4,702.3 401.9,701.6 402.4,700.3 402.9,700.9 403.4,702.2 403.9,701.3 404.4,700.9 404.9,701.4 405.4,701.9 405.9,701.7 406.4,702.0 406.9,700.9 407.4,701.3 407.9,701.3 408.4,701.5 408.9,699.9 409.4,701.4 409.9,700.5 410.4,702.6 410.9,702.8 411.4,702.9 411.9,702.2 412.4,701.2 412.9,702.3 413.4,701.4 413.9,702.0 414.4,700.9 414.9,701.1 415.4,701.9 415.9,702.9 416.4,701.5 416.9,703.3 417.4,703.7 417.9,700.6 418.4,701.5 418.9,700.8 419.4,701.4 419.9,701.1 420.4,701.5 420.9,702.3 421.4,702.3 421.9,701.7 422.4,701.5 422.9,701.6 423.4,701.6 423.9,701.9 424.4,701.5 424.9,701.9 425.4,700.4 425.9,702.1 426.4,702.8 426.9,701.5 427.4,700.2 427.9,702.3 428.4,700.9 428.9,698.7 429.4,700.7 429.9,701.2 430.4,700.7 430.9,701.0 431.4,700.1 431.9,699.2 432.4,697.1 432.9,697.2 433.4,697.8 433.9,697.8 434.4,696.4 434.9,696.7 435.4,697.8 435.9,696.4 436.4,696.8 436.9,698.7 437.4,699.6 437.9,699.5 438.4,698.4 438.9,700.6 439.4,699.8 439.9,701.5 440.4,701.1 440.9,701.4 441.4,701.8 441.9,701.0 442.4,702.1 442.9,702.4 443.4,701.8 443.9,702.5 444.4,701.0 444.9,702.2 445.4,701.8 445.9,700.8 446.4,701.5 446.9,701.2 447.4,701.2 447.9,701.7 448.4,702.4 448.9,701.4 449.4,701.7 449.9,700.5 450.4,701.7 450.9,702.5 451.4,702.3 451.9,702.0 452.4,701.2 452.9,700.9 453.4,701.6 453.9,700.6 454.4,700.7 454.9,702.4 455.4,700.9 455.9,703.0 456.4,700.5 456.9,702.0 457.4,700.7 457.9,701.8 458.4,700.9 458.9,701.7 459.4,701.5 459.9,701.3 460.4,702.1 460.9,702.8 461.4,701.2 461.9,702.4 462.4,701.7 462.9,701.6 463.4,703.4 463.9,700.0 464.4,701.1 464.9,700.3 465.4,701.4 465.9,701.5 466.4,704.6 466.9,701.9 467.4,703.1 467.9,702.7 468.4,701.3 468.9,702.1 469.4,703.0 469.9,701.8 470.4,701.8 470.9,702.1 471.4,700.5 471.9,701.1 472.4,701.9 472.9,702.1 473.4,701.0 473.9,701.4 474.4,701.6 474.9,701.6 475.4,702.2 475.9,701.8 476.4,701.8 476.9,700.6 477.4,700.9 477.9,701.9 478.4,700.5 478.9,701.9 479.4,701.2 479.9,701.1 480.4,702.2 480.9,701.2 481.4,701.0 481.9,701.2 482.4,701.7 482.9,703.8 483.4,700.1 483.9,701.7 484.4,701.5 484.9,702.4 485.4,701.4 485.9,699.8 486.4,702.7 486.9,700.9 487.4,701.6 487.9,700.6 488.4,700.9 488.9,701.3 489.4,702.4 489.9,702.3 490.4,701.2 490.9,702.1 491.4,701.4 491.9,701.8 492.4,701.8 492.9,702.2 493.4,701.2 493.9,701.6 494.4,701.9 494.9,701.8 495.4,701.1 495.9,703.0 496.4,701.3 496.9,702.3 497.4,701.8 497.9,702.6 498.4,700.0 498.9,703.3 499.4,701.5 499.9,700.7 500.4,701.8 500.9,703.4 501.4,702.1 501.9,700.7 502.4,701.3 502.9,702.7 503.4,700.6 503.9,701.5 504.4,701.5 504.9,703.3 505.4,701.5 505.9,702.7 506.4,701.2 506.9,701.1 507.4,702.5 507.9,702.2 508.4,700.4 508.9,702.2 509.4,702.2 509.9,701.2 510.4,701.8 510.9,701.9 511.4,701.3 511.9,701.2 512.4,701.2 512.9,701.5 513.4,700.7 513.9,701.6 514.4,700.5 514.9,701.7 515.4,701.6 515.9,700.9 516.4,702.3 516.9,703.1 517.4,702.7 517.9,700.6 518.4,702.6 518.9,701.8 519.4,701.6 519.9,701.2 520.4,701.7 520.9,702.7 521.4,702.1 521.9,701.3 522.4,701.1 522.9,701.3 523.4,702.1 523.9,703.1 524.4,700.8 524.9,701.6 525.4,701.4 525.9,701.1 526.4,701.9 526.9,702.1 527.4,700.6 527.9,700.8 528.4,702.5 528.9,701.9 529.4,702.0 529.9,701.2 530.4,701.3 530.9,702.0 531.4,701.2 531.9,700.8 532.4,701.6 532.9,702.3 533.4,700.8 533.9,702.4 534.4,702.1 534.9,700.9 535.4,701.6 535.9,701.6 536.4,702.1 536.9,702.1 537.4,700.6 537.9,700.6 538.4,702.4 538.9,701.7 539.4,701.9 539.9,701.8 540.4,702.7 540.9,700.6 541.4,702.4 541.9,700.9 542.4,702.1 542.9,702.5 543.4,700.5 543.9,701.8 544.4,701.3 544.9,701.3 545.4,701.5 545.9,700.7 546.4,700.7 546.9,702.0 547.4,702.1 547.9,701.0 548.4,700.3 548.9,703.2 549.4,702.2 549.9,701.7 550.4,700.6 550.9,700.9 551.4,701.6 551.9,700.6 552.4,702.6 552.9,701.4 553.4,701.6 553.9,700.5 554.4,700.6 554.9,700.7 555.4,701.5 555.9,701.0 556.4,701.0 556.9,701.4 557.4,701.3 557.9,702.3 558.4,701.0 558.9,700.3 559.4,701.0 559.9,702.1 560.4,700.6 560.9,701.0 561.4,700.7 561.9,701.2 562.4,701.0 562.9,700.2 563.4,700.6 563.9,701.4 564.4,701.5 564.9,701.3 565.4,701.2 565.9,700.2 566.4,700.1 566.9,701.0 567.4,699.3 567.9,700.1 568.4,698.6 568.9,699.6 569.4,699.3 569.9,698.7 570.4,699.9 570.9,698.8 571.4,698.9 571.9,698.7 572.4,698.2 572.9,699.5 573.4,697.8 573.9,698.0 574.4,696.5 574.9,696.7 575.4,696.3 575.9,695.7 576.4,694.7 576.9,694.3 577.4,694.1 577.9,691.1 578.4,688.8 578.9,685.4 579.4,683.2 579.9,676.6 580.4,668.1 580.9,658.4 581.4,645.4 581.9,631.9 582.4,616.7 582.9,600.6 583.4,584.9 583.9,572.7 584.4,566.2 584.9,564.2 585.4,566.2 585.9,576.4 586.4,589.5 586.9,602.6 587.4,618.6 587.9,632.2 588.4,647.4 588.9,657.5 589.4,666.9 589.9,675.1 590.4,682.9 590.9,685.1 591.4,687.8 591.9,691.5 592.4,693.0 592.9,695.4 593.4,694.2 593.9,694.7 594.4,696.3 594.9,697.3 595.4,697.8 595.9,698.7 596.4,697.1 596.9,697.9 597.4,698.7 597.9,699.6 598.4,699.5 598.9,699.1 599.4,698.8 599.9,700.3 600.4,700.5 600.9,701.9 601.4,699.9 601.9,701.4 602.4,699.4 602.9,699.9 603.4,699.9 603.9,700.2 604.4,699.9 604.9,700.2 605.4,700.7 605.9,700.4 606.4,701.3 606.9,700.8 607.4,700.9 607.9,702.0 608.4,701.2 608.9,701.1 609.4,701.0 609.9,701.1 610.4,701.5 610.9,700.6 611.4,702.0 611.9,702.4 612.4,702.1 612.9,700.9 613.4,700.1 613.9,701.0 614.4,701.4 614.9,701.9 615.4,701.2 615.9,701.2 616.4,702.5 616.9,700.9 617.4,702.2 617.9,702.1 618.4,700.5 618.9,701.7 619.4,701.1 619.9,700.8 620.4,700.1 620.9,700.4 621.4,701.8 621.9,701.2 622.4,701.7 622.9,700.8 623.4,701.3 623.9,701.4 624.4,700.4 624.9,700.4 625.4,701.9 625.9,701.7 626.4,700.9 626.9,701.5 627.4,702.1 627.9,703.0 628.4,701.0 628.9,702.1 629.4,703.2 629.9,701.7 630.4,702.7 630.9,699.8 631.4,702.7 631.9,701.7 632.4,700.3 632.9,702.3 633.4,702.5 633.9,702.6 634.4,702.6 634.9,701.7 635.4,701.2 635.9,701.4 636.4,701.7 636.9,702.0 637.4,701.4 637.9,701.7 638.4,702.4 638.9,702.0 639.4,703.4 639.9,703.3 640.4,700.9 640.9,701.3 641.4,700.8 641.9,700.9 642.4,702.1 642.9,701.0 643.4,701.0 643.9,701.5 644.4,702.3 644.9,701.4 645.4,701.4 645.9,702.4 646.4,702.0 646.9,702.0 647.4,702.4 647.9,700.9 648.4,701.8 648.9,701.1 649.4,702.3 649.9,702.1 650.4,700.7 650.9,702.4 651.4,700.4 651.9,702.0 652.4,701.1 652.9,700.0 653.4,699.5 653.9,699.7 654.4,699.5 654.9,698.5 655.4,699.0 655.9,697.2 656.4,698.0 656.9,697.9 657.4,696.5 657.9,698.3 658.4,697.5 658.9,697.0 659.4,698.8 659.9,699.5 660.4,700.7 660.9,700.1 661.4,701.8 661.9,702.0 662.4,702.0 662.9,702.3 663.4,701.7 663.9,701.1 664.4,702.1 664.9,702.3 665.4,701.8 665.9,701.5 666.4,700.6 666.9,702.2 667.4,702.0 667.9,700.8 668.4,701.9 668.9,702.3 669.4,701.7 669.9,702.4 670.4,702.4 670.9,700.7 671.4,701.6 671.9,702.2 672.4,702.5 672.9,702.9 673.4,700.5 673.9,701.8 674.4,702.4 674.9,702.7 675.4,703.1 675.9,701.2 676.4,701.6 676.9,701.1 677.4,702.5 677.9,700.9 678.4,702.7 678.9,702.6 679.4,702.2 679.9,700.3 680.4,701.4 680.9,702.4 681.4,700.9 681.9,701.7 682.4,701.8 682.9,702.5 683.4,702.1 683.9,702.1 684.4,701.6 684.9,701.9 685.4,701.8 685.9,702.4 686.4,701.8 686.9,702.7 687.4,700.7 687.9,702.8 688.4,701.8 688.9,702.7 689.4,702.0 689.9,702.5 690.4,703.0 690.9,701.5 691.4,702.0 691.9,701.8 692.4,702.1 692.9,700.7 693.4,701.8 693.9,701.7 694.4,701.4 694.9,701.8 695.4,700.8 695.9,702.9 696.4,702.2 696.9,703.3 697.4,701.3 697.9,701.1 698.4,702.1 698.9,700.7 699.4,702.1 699.9,701.4 700.4,701.7 700.9,702.1 701.4,702.0 701.9,703.3 702.4,702.4 702.9,701.0 703.4,702.6 703.9,701.0 704.4,702.0 704.9,701.0 705.4,701.3 705.9,702.9 706.4,701.5 706.9,701.5 707.4,701.5 707.9,701.7 708.4,703.0 708.9,701.1 709.4,701.0 709.9,702.3 710.4,700.8 710.9,701.7 711.4,702.7 711.9,701.9 712.4,701.6 712.9,701.4 713.4,701.3 713.9,701.5 714.4,702.0 714.9,702.8 715.4,702.6 715.9,701.5 716.4,701.4 716.9,702.4 717.4,700.6 717.9,701.6 718.4,701.6 718.9,701.1 719.4,701.2 719.9,702.1 720.4,700.7 720.9,701.2 721.4,701.4 721.9,701.9 722.4,700.9 722.9,702.6 723.4,701.6 723.9,701.6 724.4,701.6 724.9,701.3 725.4,701.1 725.9,702.6 726.4,701.9 726.9,701.7 727.4,702.5 727.9,701.2 728.4,702.2 728.9,701.7 729.4,701.1 729.9,702.2 730.4,700.6 730.9,702.1 731.4,701.0 731.9,701.9 732.4,702.5 732.9,701.9 733.4,701.0 733.9,701.4 734.4,701.1 734.9,700.5 735.4,700.5 735.9,701.2 736.4,701.5 736.9,699.7 737.4,700.8 737.9,701.0 738.4,700.5 738.9,699.4 739.4,700.4 739.9,698.1 740.4,698.6 740.9,698.2 741.4,694.2 741.9,694.1 742.4,692.1 742.9,689.7 743.4,686.5 743.9,684.3 744.4,681.4 744.9,680.9 745.4,680.5 745.9,679.7 746.4,680.3 746.9,682.1 747.4,684.3 747.9,686.5 748.4,688.7 748.9,691.1 749.4,692.2 749.9,693.0 750.4,696.9 750.9,698.6 751.4,697.6 751.9,698.8 752.4,700.0 752.9,700.9 753.4,701.0 753.9,701.6 754.4,700.9 754.9,701.3 755.4,701.4 755.9,700.9 756.4,702.1 756.9,701.8 757.4,702.1 757.9,701.2 758.4,702.2 758.9,700.8 759.4,701.9 759.9,699.8 760.4,700.9 760.9,702.2 761.4,701.4 761.9,701.8 762.4,700.6 762.9,702.8 763.4,702.2 763.9,701.8 764.4,702.1 764.9,702.0 765.4,702.8 765.9,702.0 766.4,700.8 766.9,701.7 767.4,702.8 767.9,702.3 768.4,701.6 768.9,702.3 769.4,702.0 769.9,702.3 770.4,700.8 770.9,701.3 771.4,702.4 771.9,701.8 772.4,702.2 772.9,703.3 773.4,701.7 773.9,702.1 774.4,701.5 774.9,701.5 775.4,701.9 775.9,700.9 776.4,700.5 776.9,702.9 777.4,701.9 777.9,702.7 778.4,702.0 778.9,702.1 779.4,702.4 779.9,702.5 780.4,701.1 780.9,702.8 781.4,701.3 781.9,702.1 782.4,703.8 782.9,702.0 783.4,703.2 783.9,701.7 784.4,702.4 784.9,702.0 785.4,702.3 785.9,701.4 786.4,701.4 786.9,702.2 787.4,700.9 787.9,701.4 788.4,702.5 788.9,701.6 789.4,701.4 789.9,701.2 790.4,702.1 790.9,701.8 791.4,702.1 791.9,701.9 792.4,703.3 792.9,701.7 793.4,700.7 793.9,702.1 794.4,702.0 794.9,702.1 795.4,700.9 795.9,702.8 796.4,702.0 796.9,702.0 797.4,700.9 797.9,702.4 798.4,702.0 798.9,703.0 799.4,701.7 799.9,701.2 800.4,702.1 800.9,701.4 801.4,702.3 801.9,701.3 802.4,702.0 802.9,701.9 803.4,702.0 803.9,701.7 804.4,701.5 804.9,702.0 805.4,701.6 805.9,702.2 806.4,701.9 806.9,700.5 807.4,702.0 807.9,703.0 808.4,702.3 808.9,702.5 809.4,702.4 809.9,701.7 810.4,701.1 810.9,702.6 811.4,702.8 811.9,702.4 812.4,702.3 812.9,702.3 813.4,702.0 813.9,702.2 814.4,702.1 814.9,702.3 815.4,701.4 815.9,701.6 816.4,702.5 816.9,701.8 817.4,700.4 817.9,702.1 818.4,700.5 818.9,703.4 819.4,702.6 819.9,702.5 820.4,701.6 820.9,701.3 821.4,701.9 821.9,702.1 822.4,701.5 822.9,702.2 823.4,702.5 823.9,702.5 824.4,701.4 824.9,700.6 825.4,702.1 825.9,701.6 826.4,702.4 826.9,703.2 827.4,703.2 827.9,702.3 828.4,702.8 828.9,703.2 829.4,702.1 829.9,702.3 830.4,702.6 830.9,702.0 831.4,701.7 831.9,701.6 832.4,702.1 832.9,701.7 833.4,702.6 833.9,701.8 834.4,703.1 834.9,702.9 835.4,701.2 835.9,702.8 836.4,701.8 836.9,703.0 837.4,702.4 837.9,702.0 838.4,702.5 838.9,701.7 839.4,702.3 839.9,702.3 840.4,702.0 840.9,702.3 841.4,701.4 841.9,702.4 842.4,701.3 842.9,702.5 843.4,702.4 843.9,702.5 844.4,701.7 844.9,704.1 845.4,701.9 845.9,702.2 846.4,701.6 846.9,703.0 847.4,701.7 847.9,702.7 848.4,701.4 848.9,702.3 849.4,701.8 849.9,702.7 850.4,701.9 850.9,701.5 851.4,702.3 851.9,701.2 852.4,701.4 852.9,702.5 853.4,700.8 853.9,702.5 854.4,701.8 854.9,701.4 855.4,702.2 855.9,702.4 856.4,701.6 856.9,701.9 857.4,702.5 857.9,702.5 858.4,702.0 858.9,701.5 859.4,701.3 859.9,701.6 860.4,702.4 860.9,702.3 861.4,702.1 861.9,702.9 862.4,701.7 862.9,701.7 863.4,701.6 863.9,703.1 864.4,700.5 864.9,702.0 865.4,702.1 865.9,701.9 866.4,703.3 866.9,702.6 867.4,702.3 867.9,701.1 868.4,702.0 868.9,701.4 869.4,701.7 869.9,701.7 870.4,701.2 870.9,701.9 871.4,702.5 871.9,702.1 872.4,701.5 872.9,700.0 873.4,701.9 873.9,701.8 874.4,700.9 874.9,700.6 875.4,701.2 875.9,700.0 876.4,700.9 876.9,699.4 877.4,699.1 877.9,699.3 878.4,697.6 878.9,697.7 879.4,696.8 879.9,693.9 880.4,693.3 880.9,689.7 881.4,687.2 881.9,683.3 882.4,678.9 882.9,674.8 883.4,670.2 883.9,668.0 884.4,666.2 884.9,667.3 885.4,667.7 885.9,667.8 886.4,671.6 886.9,674.2 887.4,677.2 887.9,681.3 888.4,685.0 888.9,687.4 889.4,690.4 889.9,693.1 890.4,694.3 890.9,696.6 891.4,697.6 891.9,698.1 892.4,698.7 892.9,699.9 893.4,700.7 893.9,700.6 894.4,700.0 894.9,701.3 895.4,701.0 895.9,701.4 896.4,701.9 896.9,700.6 897.4,701.2 897.9,701.0 898.4,700.9 898.9,702.8 899.4,702.1 899.9,700.4 900.4,701.9 900.9,701.3 901.4,702.4 901.9,701.8 902.4,701.6 902.9,701.8 903.4,702.0 903.9,701.8 904.4,701.7 904.9,701.7 905.4,702.2 905.9,701.1 906.4,701.8 906.9,701.8 907.4,701.5 907.9,702.3 908.4,701.0 908.9,701.6 909.4,701.2 909.9,702.1 910.4,701.4 910.9,701.6 911.4,701.7 911.9,700.3 912.4,701.4 912.9,700.4 913.4,700.4 913.9,700.1 914.4,700.3 914.9,699.8 915.4,700.0 915.9,698.6 916.4,698.0 916.9,697.8 917.4,698.6 917.9,699.4 918.4,698.8 918.9,698.5 919.4,699.4 919.9,699.8 920.4,700.0 920.9,699.9 921.4,699.1 921.9,700.7 922.4,701.9 922.9,701.6 923.4,700.2 923.9,701.7 924.4,700.7 924.9,703.2 925.4,702.1 925.9,701.2 926.4,702.5 926.9,701.6 927.4,702.4 927.9,702.1 928.4,701.3 928.9,702.5 929.4,701.3 929.9,703.0 930.4,702.2 930.9,701.5 931.4,701.0 931.9,703.2 932.4,703.1 932.9,701.4 933.4,703.2 933.9,702.3 934.4,702.1 934.9,702.2 935.4,702.0 935.9,703.1 936.4,702.3 936.9,701.0 937.4,703.6 937.9,702.8 938.4,701.5 938.9,702.0 939.4,701.7 939.9,702.3 940.4,702.5 940.9,702.4 941.4,701.9 941.9,701.7 942.4,702.8 942.9,702.2 943.4,703.7 943.9,701.7 944.4,702.8 944.9,702.3 945.4,701.8 945.9,703.1 946.4,702.3 946.9,701.7 947.4,702.1 947.9,702.9 948.4,701.5 948.9,703.2 949.4,702.7 949.9,702.1 950.4,703.1 950.9,703.4 951.4,702.7 951.9,702.4 952.4,703.5 952.9,703.2 953.4,701.7 953.9,702.2 954.4,702.2 954.9,702.0 955.4,701.3 955.9,702.9 956.4,702.3 956.9,702.4 957.4,703.2 957.9,701.9 958.4,702.3 958.9,702.5 959.4,702.0 959.9,702.2 960.4,702.8 960.9,702.3 961.4,703.2 961.9,701.8 962.4,702.4 962.9,701.4 963.4,702.2 963.9,701.9 964.4,703.2 964.9,702.8 965.4,702.6 965.9,703.5 966.4,703.2 966.9,702.8 967.4,701.9 967.9,701.4 968.4,702.3 968.9,702.1 969.4,701.9 969.9,702.1 970.4,701.3 970.9,703.3 971.4,701.6 971.9,701.9 972.4,702.7 972.9,701.3 973.4,702.9 973.9,702.9 974.4,702.1 974.9,701.6 975.4,702.0 975.9,701.1 976.4,703.2 976.9,702.3 977.4,701.8 977.9,701.7 978.4,702.7 978.9,703.3 979.4,701.5 979.9,701.9 980.4,701.2 980.9,702.7 981.4,702.4 981.9,703.8 982.4,702.2 982.9,702.0 983.4,701.9 983.9,702.9 984.4,701.3 984.9,702.8 985.4,702.5 985.9,702.0 986.4,701.7 986.9,703.0 987.4,703.5 987.9,702.0 988.4,702.6 988.9,703.4 989.4,701.9 989.9,702.1 990.4,701.5 990.9,702.2 991.4,702.2 991.9,702.0 992.4,701.8 992.9,701.2 993.4,701.4 993.9,701.6 994.4,702.6 994.9,701.9 995.4,701.7 995.9,702.6 996.4,702.6 996.9,701.7 997.4,701.8 997.9,702.6 998.4,702.4 998.9,701.6 999.4,702.3 999.9,702.1 1000.4,702.8 1000.9,701.4 1001.4,702.5 1001.9,702.2 1002.4,701.1 1002.9,702.3 1003.4,702.0 1003.9,700.4 1004.4,702.2 1004.9,699.7 1005.4,699.4 1005.9,699.2 1006.4,699.2 1006.9,698.4 1007.4,697.4 1007.9,697.7 1008.4,696.7 1008.9,697.2 1009.4,698.2 1009.9,696.7 1010.4,695.2 1010.9,697.0 1011.4,697.1 1011.9,698.3 1012.4,698.9 1012.9,698.6 1013.4,699.1 1013.9,700.2 1014.4,700.6 1014.9,699.4 1015.4,701.9 1015.9,701.5 1016.4,701.7 1016.9,702.0 1017.4,701.2 1017.9,701.9 1018.4,702.6 1018.9,702.7 1019.4,702.3 1019.9,701.8 1020.4,701.5 1020.9,702.9 1021.4,702.4 1021.9,701.8 1022.4,700.7 1022.9,701.5 1023.4,700.8 1023.9,702.8 1024.4,702.1 1024.9,701.5 1025.4,701.8 1025.9,703.6 1026.4,702.7 1026.9,701.0 1027.4,701.8 1027.9,701.0 1028.4,700.6 1028.9,701.8 1029.4,703.2 1029.9,702.5 1030.4,701.5 1030.9,701.1 1031.4,701.4 1031.9,701.8 1032.4,700.1 1032.9,699.7 1033.4,702.0 1033.9,700.8 1034.4,701.5 1034.9,700.5 1035.4,701.2 1035.9,699.7 1036.4,700.3 1036.9,700.8 1037.4,700.4 1037.9,699.3 1038.4,700.1 1038.9,699.0 1039.4,698.5 1039.9,699.7 1040.4,700.3 1040.9,700.0 1041.4,698.7 1041.9,700.1 1042.4,700.1 1042.9,699.5 1043.4,698.3 1043.9,700.7 1044.4,700.8 1044.9,700.6 1045.4,699.3 1045.9,699.6 1046.4,701.4 1046.9,701.4 1047.4,701.3 1047.9,701.0 1048.4,701.5 1048.9,701.0 1049.4,701.2 1049.9,701.0 1050.4,701.8 1050.9,701.4 1051.4,702.4 1051.9,702.3 1052.4,701.4 1052.9,703.1 1053.4,701.2 1053.9,702.3 1054.4,702.8 1054.9,702.9 1055.4,700.7 1055.9,702.8 1056.4,703.0 1056.9,703.1 1057.4,700.7 1057.9,701.8 1058.4,702.1 1058.9,701.9 1059.4,703.1 1059.9,701.8 1060.4,703.1 1060.9,702.6 1061.4,701.3 1061.9,701.6 1062.4,702.0 1062.9,702.3 1063.4,702.9 1063.9,702.2 1064.4,702.9 1064.9,701.3 1065.4,700.3 1065.9,702.1 1066.4,702.6 1066.9,702.1 1067.4,701.6 1067.9,702.6 1068.4,703.6 1068.9,702.2 1069.4,701.8 1069.9,701.8 1070.4,703.6 1070.9,702.3 1071.4,702.7 1071.9,703.1 1072.4,703.0 1072.9,701.7 1073.4,702.9 1073.9,702.9 1074.4,702.6 1074.9,703.0 1075.4,701.9 1075.9,702.3 1076.4,702.0 1076.9,702.8 1077.4,701.9 1077.9,702.6 1078.4,701.6 1078.9,702.2 1079.4,702.1 1079.9,702.2 1080.4,702.4 1080.9,702.2 1081.4,702.1 1081.9,700.9 1082.4,703.0 1082.9,701.9 1083.4,702.1 1083.9,701.7 1084.4,702.9 1084.9,701.7 1085.4,702.6 1085.9,703.0 1086.4,703.3 1086.9,703.0 1087.4,702.6 1087.9,701.5 1088.4,703.1 1088.9,703.0 1089.4,702.8 1089.9,702.7 1090.4,702.3 1090.9,701.9 1091.4,702.9 1091.9,703.0 1092.4,701.5 1092.9,702.8 1093.4,702.3 1093.9,702.7 1094.4,702.3 1094.9,702.8 1095.4,702.8 1095.9,702.7 1096.4,701.2 1096.9,702.6 1097.4,702.1 1097.9,701.3 1098.4,702.5 1098.9,701.1 1099.4,702.6 1099.9,703.1 1100.4,701.6 1100.9,702.5 1101.4,702.2 1101.9,702.3 1102.4,701.0 1102.9,702.2 1103.4,701.9 1103.9,702.2 1104.4,701.7 1104.9,702.4 1105.4,701.8 1105.9,702.0 1106.4,702.4 1106.9,701.6 1107.4,702.1 1107.9,701.5 1108.4,701.7 1108.9,700.9 1109.4,701.7 1109.9,701.9 1110.4,701.0 1110.9,701.4 1111.4,701.1 1111.9,699.9 1112.4,700.7 1112.9,701.1 1113.4,699.8 1113.9,698.7 1114.4,699.6 1114.9,698.7 1115.4,699.8 1115.9,698.0 1116.4,697.3 1116.9,696.0 1117.4,695.6 1117.9,693.8 1118.4,692.1 1118.9,690.9 1119.4,688.4 1119.9,687.5 1120.4,683.5 1120.9,681.5 1121.4,678.2 1121.9,674.8 1122.4,673.7 1122.9,668.4 1123.4,667.9 1123.9,663.8 1124.4,663.0 1124.9,663.3 1125.4,660.3 1125.9,661.3 1126.4,664.4 1126.9,665.7 1127.4,667.7 1127.9,670.8 1128.4,673.2 1128.9,677.0 1129.4,680.8 1129.9,682.4 1130.4,685.4 1130.9,688.4 1131.4,691.0 1131.9,691.3 1132.4,693.5 1132.9,694.3 1133.4,695.5 1133.9,696.6 1134.4,697.3 1134.9,697.2 1135.4,697.6 1135.9,698.8 1136.4,699.8 1136.9,700.7 1137.4,699.9 1137.9,700.3 1138.4,701.0 1138.9,701.2 1139.4,700.8 1139.9,701.0 1140.4,702.3 1140.9,701.0 1141.4,701.0 1141.9,700.3 1142.4,701.7 1142.9,701.3 1143.4,702.7 1143.9,701.4 1144.4,702.2 1144.9,702.3 1145.4,702.8 1145.9,701.0 1146.4,702.8 1146.9,701.9 1147.4,701.8 1147.9,701.7 1148.4,701.7 1148.9,701.8 1149.4,700.5 1149.9,702.3 1150.4,702.1 1150.9,701.5 1151.4,702.1 1151.9,703.6 1152.4,702.4 1152.9,701.9 1153.4,703.2 1153.9,701.7 1154.4,702.1 1154.9,701.9 1155.4,702.1 1155.9,702.7 1156.4,702.6 1156.9,701.8 1157.4,702.2 1157.9,702.3 1158.4,702.0 1158.9,702.3 1159.4,701.9 1159.9,701.9 1160.4,702.4 1160.9,701.7 1161.4,702.6 1161.9,702.2 1162.4,701.8 1162.9,702.0 1163.4,702.1 1163.9,702.3 1164.4,702.5 1164.9,702.3 1165.4,701.9 1165.9,703.3 1166.4,703.0 1166.9,702.5 1167.4,703.0 1167.9,702.6 1168.4,702.3 1168.9,702.5 1169.4,704.1 1169.9,703.1 1170.4,703.1 1170.9,702.2 1171.4,702.8 1171.9,703.9 1172.4,702.7 1172.9,703.2 1173.4,703.3 1173.9,702.9 1174.4,703.5 1174.9,702.6 1175.4,702.8 1175.9,702.1 1176.4,704.1 1176.9,702.7 1177.4,702.6 1177.9,703.4 1178.4,702.2 1178.9,702.5 1179.4,702.0 1179.9,702.5 1180.4,702.3 1180.9,702.9 1181.4,702.5 1181.9,702.2 1182.4,702.4 1182.9,702.5 1183.4,702.2 1183.9,703.1 1184.4,703.0 1184.9,702.6 1185.4,701.8 1185.9,702.9 1186.4,701.8 1186.9,702.7 1187.4,702.6 1187.9,702.2 1188.4,702.1 1188.9,702.1 1189.4,703.8 1189.9,702.4 1190.4,702.5 1190.9,703.2 1191.4,702.8 1191.9,703.2 1192.4,701.8 1192.9,701.9 1193.4,704.6 1193.9,702.6 1194.4,702.4 1194.9,702.7 1195.4,703.2 1195.9,701.9 1196.4,702.8 1196.9,702.6 1197.4,703.0 1197.9,702.7 1198.4,702.3 1198.9,702.1 1199.4,701.1 1199.9,703.2 1200.4,701.7 1200.9,702.4 1201.4,703.6 1201.9,702.4 1202.4,703.0 1202.9,702.5 1203.4,703.0 1203.9,702.6 1204.4,702.3 1204.9,703.4 1205.4,702.5 1205.9,701.8 1206.4,702.4 1206.9,703.0 1207.4,702.0 1207.9,703.1 1208.4,703.1 1208.9,703.9 1209.4,702.2 1209.9,703.0 1210.4,701.6 1210.9,702.4 1211.4,702.7 1211.9,702.9 1212.4,702.6 1212.9,702.6 1213.4,702.3 1213.9,702.4 1214.4,702.8 1214.9,703.0 1215.4,703.0 1215.9,703.2 1216.4,703.4 1216.9,701.5 1217.4,702.3 1217.9,702.5 1218.4,702.2 1218.9,703.3 1219.4,703.1 1219.9,702.6 1220.4,702.7 1220.9,703.4 1221.4,702.4 1221.9,702.4 1222.4,703.2 1222.9,702.9 1223.4,703.5 1223.9,702.9 1224.4,703.1 1224.9,702.3 1225.4,702.1 1225.9,702.6 1226.4,701.0 1226.9,702.9 1227.4,703.2 1227.9,702.6 1228.4,702.5 1228.9,703.2 1229.4,702.6 1229.9,703.2 1230.4,703.9 1230.9,703.0 1231.4,703.1 1231.9,702.8 1232.4,702.6 1232.9,702.6 1233.4,702.5 1233.9,703.0 1234.4,701.3 1234.9,702.0 1235.4,702.4 1235.9,701.3 1236.4,701.5 1236.9,700.8 1237.4,701.2 1237.9,701.1 1238.4,701.1 1238.9,700.3 1239.4,699.4 1239.9,699.9 1240.4,700.1 1240.9,700.7 1241.4,698.7 1241.9,700.4 1242.4,699.2 1242.9,700.9 1243.4,700.9 1243.9,701.2 1244.4,701.7 1244.9,701.6 1245.4,701.2 1245.9,702.0 1246.4,702.7 1246.9,702.1 1247.4,702.3 1247.9,701.6 1248.4,703.1 1248.9,702.2 1249.4,702.1 1249.9,702.3 1250.4,702.1 1250.9,702.4 1251.4,703.4 1251.9,703.1 1252.4,703.5 1252.9,703.5 1253.4,702.1 1253.9,702.9 1254.4,703.5 1254.9,704.0 1255.4,701.8 1255.9,701.8 1256.4,702.9 1256.9,702.5 1257.4,702.1 1257.9,702.9 1258.4,702.2 1258.9,701.3 1259.4,702.7 1259.9,702.8 1260.4,703.1 1260.9,703.3 1261.4,702.8 1261.9,702.6 1262.4,702.3 1262.9,701.7 1263.4,702.4 1263.9,703.3 1264.4,703.1 1264.9,703.9 1265.4,702.6 1265.9,701.7 1266.4,703.2 1266.9,703.3 1267.4,702.0 1267.9,701.8 1268.4,702.8 1268.9,703.1 1269.4,702.1 1269.9,702.5 1270.4,702.3 1270.9,702.0 1271.4,701.9 1271.9,702.8 1272.4,702.5 1272.9,702.3 1273.4,701.2 1273.9,703.8 1274.4,702.2 1274.9,702.6 1275.4,702.1 1275.9,702.9 1276.4,701.8 1276.9,702.8 1277.4,702.6 1277.9,703.3 1278.4,702.1 1278.9,702.3 1279.4,702.6 1279.9,704.0 1280.4,701.9 1280.9,702.9 1281.4,702.3 1281.9,702.9 1282.4,703.1 1282.9,702.8 1283.4,702.9 1283.9,702.9 1284.4,702.4 1284.9,702.6 1285.4,701.8 1285.9,702.5 1286.4,702.3 1286.9,702.6 1287.4,703.2 1287.9,703.0 1288.4,703.0 1288.9,703.4 1289.4,701.3 1289.9,703.0 1290.4,702.7 1290.9,702.7 1291.4,702.0 1291.9,703.0 1292.4,703.4 1292.9,703.3 1293.4,702.7 1293.9,703.1 1294.4,703.3 1294.9,703.8 1295.4,703.4 1295.9,702.8 1296.4,702.8 1296.9,702.8 1297.4,702.9 1297.9,702.4 1298.4,703.2 1298.9,702.3 1299.4,702.2 1299.9,702.9 1300.4,702.4 1300.9,702.6 1301.4,701.5 1301.9,703.2 1302.4,702.7 1302.9,702.6 1303.4,703.0 1303.9,702.8 1304.4,702.3 1304.9,703.9 1305.4,702.4 1305.9,703.3 1306.4,703.8 1306.9,702.3 1307.4,702.7 1307.9,702.2 1308.4,703.3 1308.9,702.5 1309.4,702.0 1309.9,703.4 1310.4,703.2 1310.9,702.1 1311.4,703.3 1311.9,702.8 1312.4,704.2 1312.9,703.6 1313.4,702.3 1313.9,702.5 1314.4,702.1 1314.9,702.7 1315.4,702.6 1315.9,703.0 1316.4,702.6 1316.9,701.7 1317.4,702.1 1317.9,703.4 1318.4,703.2 1318.9,702.4 1319.4,702.4 1319.9,702.4 1320.4,702.5 1320.9,701.5 1321.4,703.0 1321.9,702.1 1322.4,702.5 1322.9,700.9 1323.4,702.5 1323.9,703.1 1324.4,701.0 1324.9,703.2 1325.4,702.5 1325.9,701.8 1326.4,701.2 1326.9,702.7 1327.4,702.1 1327.9,702.2 1328.4,701.6 1328.9,701.2 1329.4,702.0 1329.9,700.7 1330.4,701.5 1330.9,699.7 1331.4,699.8 1331.9,699.0 1332.4,700.1 1332.9,697.8 1333.4,697.4 1333.9,697.7 1334.4,696.6 1334.9,696.9 1335.4,695.7 1335.9,694.1 1336.4,693.2 1336.9,690.8 1337.4,690.6 1337.9,690.3 1338.4,689.9 1338.9,689.1 1339.4,689.4 1339.9,689.8 1340.4,691.4 1340.9,691.8 1341.4,692.2 1341.9,693.2 1342.4,694.5 1342.9,694.9 1343.4,696.0 1343.9,696.0 1344.4,698.2 1344.9,699.1 1345.4,699.4 1345.9,700.0 1346.4,700.4 1346.9,701.7 1347.4,701.0 1347.9,700.4 1348.4,700.8 1348.9,702.0 1349.4,702.4 1349.9,702.3 1350.4,702.5 1350.9,702.2 1351.4,701.3 1351.9,701.8 1352.4,701.2 1352.9,702.1 1353.4,701.5 1353.9,702.4 1354.4,702.3 1354.9,701.3 1355.4,702.9 1355.9,702.9 1356.4,701.7 1356.9,702.6 1357.4,702.9 1357.9,702.4 1358.4,703.1 1358.9,702.7 1359.4,703.2 1359.9,702.7 1360.4,702.5 1360.9,702.9 1361.4,703.1 1361.9,702.8 1362.4,702.4 1362.9,702.2 1363.4,702.5 1363.9,702.3 1364.4,702.8 1364.9,702.8 1365.4,702.7 1365.9,702.7 1366.4,702.8 1366.9,703.6 1367.4,703.4 1367.9,702.4 1368.4,703.0 1368.9,702.5 1369.4,702.7 1369.9,702.6 1370.4,702.4 1370.9,702.0 1371.4,701.3 1371.9,702.9 1372.4,703.4 1372.9,702.2 1373.4,703.1 1373.9,702.6 1374.4,702.9 1374.9,702.3 1375.4,702.7 1375.9,702.7 1376.4,701.4 1376.9,702.9 1377.4,702.7 1377.9,701.4 1378.4,703.2 1378.9,702.8 1379.4,702.9 1379.9,703.0 1380.4,702.6 1380.9,702.2 1381.4,702.6 1381.9,702.6 1382.4,704.1 1382.9,703.9 1383.4,702.5 1383.9,702.6 1384.4,703.0 1384.9,703.1 1385.4,702.4 1385.9,702.2 1386.4,703.9 1386.9,703.4 1387.4,701.9 1387.9,701.8 1388.4,702.4 1388.9,703.0 1389.4,703.1 1389.9,702.6 1390.4,701.9 1390.9,703.0 1391.4,703.2 1391.9,702.8 1392.4,702.6 1392.9,703.2 1393.4,702.8 1393.9,702.2 1394.4,702.9 1394.9,702.1 1395.4,703.4 1395.9,703.1 1396.4,702.3 1396.9,703.0 1397.4,703.6 1397.9,701.6 1398.4,702.8 1398.9,703.8 1399.4,702.0 1399.9,702.8 1400.4,702.0 1400.9,702.8 1401.4,701.5 1401.9,701.9 1402.4,702.5 1402.9,702.9 1403.4,703.1 1403.9,703.1 1404.4,703.5 1404.9,703.3 1405.4,703.3 1405.9,702.3 1406.4,702.8 1406.9,704.7 1407.4,704.2 1407.9,703.3 1408.4,703.3 1408.9,703.4 1409.4,702.6 1409.9,704.0 1410.4,702.6 1410.9,702.8 1411.4,704.1 1411.9,701.6 1412.4,703.1 1412.9,701.9 1413.4,702.5 1413.9,702.8 1414.4,702.6 1414.9,702.9 1415.4,702.4 1415.9,702.8 1416.4,702.1 1416.9,702.6 1417.4,702.0 1417.9,703.2 1418.4,702.1 1418.9,703.2 1419.4,702.6 1419.9,702.6 1420.4,703.5 1420.9,702.9 1421.4,701.7 1421.9,703.1 1422.4,701.1 1422.9,702.9 1423.4,702.5 1423.9,702.0 1424.4,702.8 1424.9,702.6 1425.4,703.9 1425.9,702.5 1426.4,703.8 1426.9,703.5 1427.4,702.3 1427.9,702.1 1428.4,703.3 1428.9,702.5 1429.4,702.6 1429.9,702.3 1430.4,701.7 1430.9,702.1 1431.4,701.7 1431.9,701.3 1432.4,701.9 1432.9,703.0 1433.4,702.8 1433.9,701.7 1434.4,701.7 1434.9,701.7 1435.4,702.1 1435.9,701.4 1436.4,700.8 1436.9,700.7 1437.4,701.4 1437.9,702.2 1438.4,700.2 1438.9,699.3 1439.4,700.9 1439.9,700.4 1440.4,700.5 1440.9,701.2 1441.4,700.6 1441.9,699.9 1442.4,699.6 1442.9,700.8 1443.4,700.3 1443.9,701.3 1444.4,700.5 1444.9,701.2 1445.4,700.7 1445.9,701.5 1446.4,701.5 1446.9,702.3 1447.4,702.8 1447.9,702.0 1448.4,701.7 1448.9,703.4 1449.4,702.6 1449.9,702.8 1450.4,702.9 1450.9,703.4 1451.4,703.2 1451.9,703.0 1452.4,703.1 1452.9,702.2 1453.4,702.4 1453.9,702.7 1454.4,702.8 1454.9,702.8 1455.4,703.0 1455.9,702.8 1456.4,702.6 1456.9,701.9 1457.4,703.3 1457.9,703.2 1458.4,702.3 1458.9,703.1 1459.4,703.1 1459.9,702.9 1460.4,701.8 1460.9,702.2 1461.4,702.5 1461.9,703.8 1462.4,702.4 1462.9,702.7 1463.4,702.3 1463.9,702.6 1464.4,703.1 1464.9,701.7 1465.4,701.3 1465.9,703.3 1466.4,702.9 1466.9,702.6 1467.4,703.5 1467.9,703.5 1468.4,701.7 1468.9,702.8 1469.4,703.6 1469.9,702.5 1470.4,702.7 1470.9,703.5 1471.4,702.8 1471.9,702.2 1472.4,702.5 1472.9,702.2 1473.4,703.3 1473.9,701.9 1474.4,703.5 1474.9,702.0 1475.4,703.0 1475.9,702.1 1476.4,702.8 1476.9,703.5 1477.4,703.6 1477.9,703.7 1478.4,702.9 1478.9,703.0 1479.4,703.1 1479.9,703.3 1480.4,702.7 1480.9,703.6 1481.4,703.1 1481.9,703.6 1482.4,703.2 1482.9,703.3 1483.4,702.5 1483.9,702.7 1484.4,702.2 1484.9,702.8 1485.4,702.9 1485.9,703.4 1486.4,702.2 1486.9,704.8 1487.4,702.9 1487.9,703.7 1488.4,703.5 1488.9,701.5 1489.4,702.8 1489.9,703.8 1490.4,701.6 1490.9,703.4 1491.4,702.4 1491.9,702.7 1492.4,703.1 1492.9,701.9 1493.4,703.1 1493.9,702.6 1494.4,702.5 1494.9,703.3 1495.4,705.0 1495.9,703.1 1496.4,703.3 1496.9,702.9 1497.4,702.5 1497.9,703.1 1498.4,703.8 1498.9,703.0 1499.4,703.4 1499.9,702.8 1500.4,704.4 1500.9,702.0 1501.4,703.3 1501.9,703.2 1502.4,703.1 1502.9,702.3 1503.4,702.3 1503.9,702.8 1504.4,703.0 1504.9,702.2 1505.4,702.3 1505.9,703.2 1506.4,703.5 1506.9,702.6 1507.4,702.5 1507.9,702.5 1508.4,704.3 1508.9,703.2 1509.4,702.8 1509.9,703.4 1510.4,704.2 1510.9,703.5 1511.4,702.0 1511.9,702.8 1512.4,702.6 1512.9,702.6 1513.4,702.1 1513.9,702.6 1514.4,702.2 1514.9,703.0 1515.4,702.8 1515.9,702.0 1516.4,701.8 1516.9,702.5 1517.4,703.1 1517.9,703.0 1518.4,702.7 1518.9,700.8 1519.4,702.4 1519.9,702.2 1520.4,702.5 1520.9,701.9 1521.4,702.4 1521.9,702.2 1522.4,704.1 1522.9,702.9 1523.4,702.3 1523.9,702.4 1524.4,702.3 1524.9,702.4 1525.4,702.0 1525.9,702.1 1526.4,702.6 1526.9,702.3 1527.4,701.9 1527.9,702.3 1528.4,701.4 1528.9,700.5 1529.4,699.8 1529.9,700.0 1530.4,700.0 1530.9,699.9 1531.4,699.8 1531.9,698.4 1532.4,697.7 1532.9,698.1 1533.4,697.7 1533.9,696.2 1534.4,696.0 1534.9,696.0 1535.4,694.9 1535.9,694.1 1536.4,692.6 1536.9,694.2 1537.4,693.5 1537.9,693.2 1538.4,692.9 1538.9,692.6 1539.4,693.5 1539.9,693.9 1540.4,695.1 1540.9,694.3 1541.4,696.4 1541.9,696.2 1542.4,697.5 1542.9,696.9 1543.4,698.2 1543.9,699.2 1544.4,699.1 1544.9,698.7 1545.4,699.7 1545.9,700.6 1546.4,699.9 1546.9,700.1 1547.4,701.4 1547.9,700.9 1548.4,702.0 1548.9,701.2 1549.4,700.9 1549.9,701.7 1550.4,703.0 1550.9,701.8 1551.4,702.4 1551.9,702.6 1552.4,701.9 1552.9,703.1 1553.4,702.7 1553.9,702.9 1554.4,701.7 1554.9,701.7 1555.4,701.1 1555.9,702.6 1556.4,702.6 1556.9,703.2 1557.4,703.6 1557.9,702.6 1558.4,702.7 1558.9,703.1 1559.4,703.7 1559.9,702.4 1560.4,703.2 1560.9,702.7 1561.4,702.7 1561.9,703.3 1562.4,702.5 1562.9,702.3 1563.4,703.3 1563.9,702.9 1564.4,702.8 1564.9,702.9 1565.4,703.2 1565.9,702.7 1566.4,703.4 1566.9,703.2 1567.4,703.8 1567.9,703.7 1568.4,703.5 1568.9,702.9 1569.4,703.1 1569.9,702.7 1570.4,704.6 1570.9,702.9 1571.4,703.3 1571.9,703.8 1572.4,702.3 1572.9,702.6 1573.4,702.8 1573.9,702.5 1574.4,702.3 1574.9,702.7 1575.4,703.8 1575.9,703.4 1576.4,703.1 1576.9,703.1 1577.4,702.1 1577.9,703.4 1578.4,703.3 1578.9,702.5 1579.4,703.2 1579.9,703.0 1580.4,702.8 1580.9,702.5 1581.4,702.7 1581.9,702.6 1582.4,703.3 1582.9,703.3 1583.4,703.3 1583.9,703.0 1584.4,702.9 1584.9,704.2 1585.4,702.1 1585.9,703.8 1586.4,703.3 1586.9,703.1 1587.4,702.8 1587.9,703.0 1588.4,702.4 1588.9,702.3 1589.4,703.0 1589.9,702.2 1590.4,703.6 1590.9,703.7 1591.4,701.2 1591.9,702.3 1592.4,703.3 1592.9,703.2 1593.4,703.2 1593.9,703.4 1594.4,703.5 1594.9,703.6 1595.4,704.1 1595.9,703.1 1596.4,703.6 1596.9,702.2 1597.4,703.1 1597.9,702.5 1598.4,703.9 1598.9,704.4 1599.4,703.4 1599.9,702.4 1600.4,703.1 1600.9,703.2 1601.4,703.2 1601.9,703.7 1602.4,703.7 1602.9,701.7 1603.4,703.9 1603.9,702.9 1604.4,702.8 1604.9,703.9 1605.4,703.0 1605.9,702.4 1606.4,702.4 1606.9,703.2" fill="none" stroke="#FF00FF" stroke-width="4.9" stroke-linejoin="round"/>
<polyline points="111.4,827.6 111.9,828.2 112.4,826.7 112.9,826.5 113.4,828.3 113.9,826.5 114.4,828.1 114.9,827.1 115.4,827.1 115.9,826.7 116.4,827.1 116.9,826.5 117.4,826.3 117.9,826.8 118.4,826.3 118.9,827.1 119.4,827.0 119.9,826.7 120.4,826.7 120.9,826.7 121.4,828.4 121.9,826.9 122.4,826.4 122.9,826.6 123.4,827.5 123.9,826.7 124.4,826.8 124.9,826.7 125.4,827.0 125.9,827.2 126.4,827.3 126.9,825.5 127.4,826.0 127.9,824.7 128.4,827.6 128.9,827.8 129.4,828.0 129.9,827.0 130.4,827.9 130.9,826.9 131.4,826.8 131.9,825.6 132.4,826.2 132.9,826.4 133.4,827.7 133.9,828.3 134.4,826.5 134.9,827.2 135.4,827.1 135.9,826.3 136.4,825.5 136.9,826.3 137.4,825.7 137.9,826.6 138.4,826.8 138.9,826.8 139.4,826.8 139.9,827.3 140.4,826.1 140.9,827.7 141.4,825.5 141.9,827.0 142.4,827.2 142.9,826.3 143.4,825.6 143.9,827.5 144.4,826.4 144.9,827.6 145.4,827.6 145.9,826.9 146.4,826.9 146.9,827.8 147.4,827.2 147.9,826.1 148.4,827.1 148.9,827.4 149.4,827.1 149.9,827.1 150.4,826.8 150.9,826.8 151.4,826.1 151.9,825.7 152.4,827.9 152.9,826.4 153.4,827.1 153.9,825.7 154.4,827.1 154.9,826.2 155.4,829.4 155.9,826.1 156.4,826.1 156.9,827.7 157.4,827.9 157.9,825.2 158.4,827.2 158.9,827.7 159.4,825.9 159.9,827.5 160.4,826.5 160.9,826.1 161.4,826.6 161.9,826.6 162.4,825.8 162.9,828.8 163.4,826.6 163.9,826.3 164.4,827.7 164.9,826.9 165.4,828.1 165.9,826.7 166.4,827.2 166.9,827.0 167.4,827.1 167.9,826.8 168.4,826.9 168.9,828.3 169.4,826.4 169.9,826.5 170.4,826.7 170.9,827.4 171.4,827.3 171.9,827.7 172.4,825.8 172.9,827.2 173.4,826.8 173.9,826.7 174.4,827.1 174.9,825.3 175.4,827.2 175.9,827.1 176.4,825.8 176.9,826.9 177.4,828.2 177.9,826.6 178.4,827.5 178.9,826.8 179.4,826.3 179.9,826.2 180.4,826.6 180.9,828.0 181.4,827.6 181.9,826.4 182.4,827.8 182.9,826.9 183.4,826.4 183.9,827.3 184.4,826.2 184.9,825.7 185.4,828.0 185.9,825.5 186.4,827.4 186.9,825.7 187.4,827.0 187.9,826.8 188.4,826.6 188.9,825.2 189.4,826.9 189.9,826.9 190.4,826.2 190.9,826.9 191.4,827.8 191.9,826.4 192.4,827.2 192.9,826.0 193.4,827.3 193.9,827.5 194.4,829.0 194.9,827.7 195.4,827.3 195.9,828.1 196.4,826.2 196.9,827.9 197.4,826.5 197.9,826.5 198.4,827.9 198.9,827.2 199.4,828.1 199.9,825.8 200.4,827.2 200.9,826.6 201.4,826.8 201.9,825.4 202.4,827.8 202.9,827.2 203.4,826.2 203.9,825.9 204.4,826.3 204.9,828.2 205.4,826.9 205.9,826.7 206.4,827.4 206.9,827.0 207.4,827.2 207.9,827.6 208.4,827.3 208.9,827.7 209.4,826.0 209.9,827.1 210.4,826.7 210.9,827.1 211.4,827.0 211.9,826.5 212.4,826.7 212.9,827.8 213.4,826.6 213.9,826.0 214.4,827.5 214.9,827.8 215.4,826.8 215.9,827.1 216.4,826.4 216.9,826.9 217.4,827.9 217.9,827.7 218.4,827.2 218.9,826.8 219.4,825.7 219.9,827.3 220.4,827.4 220.9,827.9 221.4,828.7 221.9,827.3 222.4,827.8 222.9,826.1 223.4,828.0 223.9,827.8 224.4,828.2 224.9,827.6 225.4,827.4 225.9,828.2 226.4,826.5 226.9,827.6 227.4,827.9 227.9,826.4 228.4,826.1 228.9,827.4 229.4,827.2 229.9,827.6 230.4,827.6 230.9,826.4 231.4,827.3 231.9,828.0 232.4,826.8 232.9,826.8 233.4,826.2 233.9,827.7 234.4,828.6 234.9,826.0 235.4,827.7 235.9,827.8 236.4,826.6 236.9,826.8 237.4,826.2 237.9,826.4 238.4,827.2 238.9,827.6 239.4,827.2 239.9,827.8 240.4,827.2 240.9,826.1 241.4,828.3 241.9,828.0 242.4,826.5 242.9,828.5 243.4,827.5 243.9,827.2 244.4,828.6 244.9,825.1 245.4,825.8 245.9,827.7 246.4,826.9 246.9,826.3 247.4,828.3 247.9,827.5 248.4,826.1 248.9,826.6 249.4,827.8 249.9,828.5 250.4,825.5 250.9,827.3 251.4,826.8 251.9,825.7 252.4,827.0 252.9,825.8 253.4,826.7 253.9,828.4 254.4,827.5 254.9,827.7 255.4,827.6 255.9,827.4 256.4,827.9 256.9,826.2 257.4,826.8 257.9,827.8 258.4,826.5 258.9,826.8 259.4,828.1 259.9,828.4 260.4,826.6 260.9,826.5 261.4,827.6 261.9,827.3 262.4,826.6 262.9,827.6 263.4,827.6 263.9,827.2 264.4,829.5 264.9,828.2 265.4,827.8 265.9,828.0 266.4,829.5 266.9,828.0 267.4,826.6 267.9,827.4 268.4,827.2 268.9,826.7 269.4,827.3 269.9,827.3 270.4,827.1 270.9,826.8 271.4,827.8 271.9,825.9 272.4,827.8 272.9,827.2 273.4,827.4 273.9,825.3 274.4,828.5 274.9,825.8 275.4,826.5 275.9,827.7 276.4,826.7 276.9,826.8 277.4,825.4 277.9,826.8 278.4,827.3 278.9,827.7 279.4,826.9 279.9,827.3 280.4,827.5 280.9,826.6 281.4,826.6 281.9,828.7 282.4,826.5 282.9,828.1 283.4,827.2 283.9,828.3 284.4,826.7 284.9,827.6 285.4,827.4 285.9,827.0 286.4,827.4 286.9,826.6 287.4,827.1 287.9,826.8 288.4,827.8 288.9,827.1 289.4,826.1 289.9,826.9 290.4,827.1 290.9,826.5 291.4,828.2 291.9,827.5 292.4,827.8 292.9,826.6 293.4,826.9 293.9,828.0 294.4,826.0 294.9,827.5 295.4,827.2 295.9,826.8 296.4,827.3 296.9,826.3 297.4,827.4 297.9,826.2 298.4,826.2 298.9,828.3 299.4,826.6 299.9,825.5 300.4,828.0 300.9,826.6 301.4,824.4 301.9,827.1 302.4,827.9 302.9,827.5 303.4,828.6 303.9,827.1 304.4,827.7 304.9,826.4 305.4,827.3 305.9,828.4 306.4,827.6 306.9,827.3 307.4,825.6 307.9,826.9 308.4,826.2 308.9,827.8 309.4,826.6 309.9,827.5 310.4,826.4 310.9,828.7 311.4,826.3 311.9,827.3 312.4,829.3 312.9,827.4 313.4,826.5 313.9,827.7 314.4,828.0 314.9,827.9 315.4,825.6 315.9,827.4 316.4,825.5 316.9,828.7 317.4,827.3 317.9,826.8 318.4,827.7 318.9,827.6 319.4,826.3 319.9,828.5 320.4,827.0 320.9,825.8 321.4,828.3 321.9,828.4 322.4,828.2 322.9,827.6 323.4,826.5 323.9,828.0 324.4,828.7 324.9,827.9 325.4,828.5 325.9,826.6 326.4,828.0 326.9,828.0 327.4,826.0 327.9,825.9 328.4,826.6 328.9,827.3 329.4,827.6 329.9,827.0 330.4,827.2 330.9,827.1 331.4,827.3 331.9,827.7 332.4,827.6 332.9,827.2 333.4,827.4 333.9,826.9 334.4,827.8 334.9,826.8 335.4,828.5 335.9,827.2 336.4,827.4 336.9,826.6 337.4,826.9 337.9,827.3 338.4,827.2 338.9,826.7 339.4,826.3 339.9,827.2 340.4,827.3 340.9,827.6 341.4,828.2 341.9,827.0 342.4,825.6 342.9,827.1 343.4,825.7 343.9,826.2 344.4,828.0 344.9,827.7 345.4,826.7 345.9,826.7 346.4,827.1 346.9,825.8 347.4,827.6 347.9,826.9 348.4,828.7 348.9,826.4 349.4,828.0 349.9,826.6 350.4,828.0 350.9,826.4 351.4,827.8 351.9,826.8 352.4,826.5 352.9,827.1 353.4,827.6 353.9,827.5 354.4,828.4 354.9,827.8 355.4,825.1 355.9,826.8 356.4,825.6 356.9,826.8 357.4,827.6 357.9,826.1 358.4,826.2 358.9,827.2 359.4,826.9 359.9,828.4 360.4,827.4 360.9,827.5 361.4,828.5 361.9,826.7 362.4,827.1 362.9,826.3 363.4,827.2 363.9,827.9 364.4,828.1 364.9,827.0 365.4,826.4 365.9,826.3 366.4,825.8 366.9,827.0 367.4,827.9 367.9,824.9 368.4,825.1 368.9,827.9 369.4,825.4 369.9,826.9 370.4,825.6 370.9,827.1 371.4,827.0 371.9,826.3 372.4,826.7 372.9,825.8 373.4,825.8 373.9,826.2 374.4,824.9 374.9,822.6 375.4,821.2 375.9,820.2 376.4,818.4 376.9,816.6 377.4,813.9 377.9,812.9 378.4,810.7 378.9,809.9 379.4,809.3 379.9,810.4 380.4,810.3 380.9,814.3 381.4,815.4 381.9,817.6 382.4,819.6 382.9,821.7 383.4,822.9 383.9,823.6 384.4,824.2 384.9,823.7 385.4,825.6 385.9,825.6 386.4,825.8 386.9,828.2 387.4,824.9 387.9,826.6 388.4,827.6 388.9,827.4 389.4,827.7 389.9,825.8 390.4,826.1 390.9,827.4 391.4,826.7 391.9,828.3 392.4,827.2 392.9,827.2 393.4,827.4 393.9,826.8 394.4,827.2 394.9,826.5 395.4,827.1 395.9,826.7 396.4,827.3 396.9,826.0 397.4,826.0 397.9,827.5 398.4,827.4 398.9,826.4 399.4,827.0 399.9,826.4 400.4,828.8 400.9,826.0 401.4,828.6 401.9,826.6 402.4,827.6 402.9,827.0 403.4,826.9 403.9,828.0 404.4,827.9 404.9,827.0 405.4,826.5 405.9,828.9 406.4,828.4 406.9,827.4 407.4,827.0 407.9,827.5 408.4,827.3 408.9,828.2 409.4,826.5 409.9,827.3 410.4,826.7 410.9,828.3 411.4,828.7 411.9,827.2 412.4,827.7 412.9,828.4 413.4,827.1 413.9,826.6 414.4,828.1 414.9,827.7 415.4,827.1 415.9,828.5 416.4,827.5 416.9,825.9 417.4,827.6 417.9,827.3 418.4,828.8 418.9,827.3 419.4,827.1 419.9,827.7 420.4,827.5 420.9,826.2 421.4,827.4 421.9,827.0 422.4,828.4 422.9,829.2 423.4,826.4 423.9,826.5 424.4,826.6 424.9,826.8 425.4,826.7 425.9,827.3 426.4,828.1 426.9,826.2 427.4,826.0 427.9,825.8 428.4,828.1 428.9,828.2 429.4,826.0 429.9,825.8 430.4,827.2 430.9,827.9 431.4,827.7 431.9,826.9 432.4,827.1 432.9,826.6 433.4,825.7 433.9,827.3 434.4,825.4 434.9,824.2 435.4,824.4 435.9,823.3 436.4,824.4 436.9,825.3 437.4,823.6 437.9,825.7 438.4,826.8 438.9,825.8 439.4,824.9 439.9,825.4 440.4,826.1 440.9,825.6 441.4,825.8 441.9,826.7 442.4,826.9 442.9,827.6 443.4,826.2 443.9,828.7 444.4,828.1 444.9,827.9 445.4,826.8 445.9,828.6 446.4,827.0 446.9,828.7 447.4,828.2 447.9,826.6 448.4,827.0 448.9,828.8 449.4,828.1 449.9,827.2 450.4,827.5 450.9,827.5 451.4,826.8 451.9,827.2 452.4,826.8 452.9,827.0 453.4,827.7 453.9,826.6 454.4,827.9 454.9,827.5 455.4,828.0 455.9,828.1 456.4,828.4 456.9,827.9 457.4,827.9 457.9,827.2 458.4,827.8 458.9,826.7 459.4,827.2 459.9,828.0 460.4,827.4 460.9,827.7 461.4,826.6 461.9,828.5 462.4,827.0 462.9,827.7 463.4,827.4 463.9,828.1 464.4,827.1 464.9,826.6 465.4,825.9 465.9,827.2 466.4,826.5 466.9,827.8 467.4,828.5 467.9,825.7 468.4,826.4 468.9,827.7 469.4,828.4 469.9,827.7 470.4,827.7 470.9,827.8 471.4,827.9 471.9,828.7 472.4,827.9 472.9,826.5 473.4,827.1 473.9,827.6 474.4,826.8 474.9,827.2 475.4,827.0 475.9,826.9 476.4,828.0 476.9,827.1 477.4,826.6 477.9,826.9 478.4,827.5 478.9,829.1 479.4,827.6 479.9,828.6 480.4,827.8 480.9,825.8 481.4,827.7 481.9,826.8 482.4,826.4 482.9,826.6 483.4,828.8 483.9,826.2 484.4,826.9 484.9,828.3 485.4,827.9 485.9,826.1 486.4,827.3 486.9,827.0 487.4,827.3 487.9,828.0 488.4,827.0 488.9,827.2 489.4,828.6 489.9,826.0 490.4,827.1 490.9,827.8 491.4,826.5 491.9,826.9 492.4,826.4 492.9,827.5 493.4,826.9 493.9,828.0 494.4,828.2 494.9,827.5 495.4,827.1 495.9,827.6 496.4,827.5 496.9,826.5 497.4,828.3 497.9,827.6 498.4,828.0 498.9,826.4 499.4,828.1 499.9,829.1 500.4,827.9 500.9,826.3 501.4,827.5 501.9,827.4 502.4,827.6 502.9,827.2 503.4,827.8 503.9,827.1 504.4,827.6 504.9,826.9 505.4,827.5 505.9,828.2 506.4,827.0 506.9,827.9 507.4,826.7 507.9,827.1 508.4,827.2 508.9,828.4 509.4,826.8 509.9,828.4 510.4,826.3 510.9,827.3 511.4,828.1 511.9,828.0 512.4,826.6 512.9,826.5 513.4,828.1 513.9,826.4 514.4,827.9 514.9,827.0 515.4,827.4 515.9,829.2 516.4,828.6 516.9,828.1 517.4,826.3 517.9,827.7 518.4,827.4 518.9,827.3 519.4,828.4 519.9,826.1 520.4,827.6 520.9,827.5 521.4,826.8 521.9,828.7 522.4,826.4 522.9,827.4 523.4,827.4 523.9,825.7 524.4,826.3 524.9,826.6 525.4,828.0 525.9,828.1 526.4,827.8 526.9,827.6 527.4,825.7 527.9,827.5 528.4,827.0 528.9,828.3 529.4,828.4 529.9,829.1 530.4,827.9 530.9,828.0 531.4,826.5 531.9,827.4 532.4,826.4 532.9,828.0 533.4,826.4 533.9,827.2 534.4,826.7 534.9,827.0 535.4,827.7 535.9,826.9 536.4,827.5 536.9,826.5 537.4,828.4 537.9,826.8 538.4,828.1 538.9,828.9 539.4,825.4 539.9,826.5 540.4,827.1 540.9,828.2 541.4,826.9 541.9,827.5 542.4,826.7 542.9,827.7 543.4,826.3 543.9,827.9 544.4,824.9 544.9,825.7 545.4,828.6 545.9,827.3 546.4,826.5 546.9,828.9 547.4,828.0 547.9,828.0 548.4,826.8 548.9,827.6 549.4,827.5 549.9,825.8 550.4,827.6 550.9,826.9 551.4,828.1 551.9,828.1 552.4,826.5 552.9,826.6 553.4,827.2 553.9,827.5 554.4,826.6 554.9,826.9 555.4,827.4 555.9,827.2 556.4,827.8 556.9,827.0 557.4,826.1 557.9,825.4 558.4,827.4 558.9,826.5 559.4,826.4 559.9,826.5 560.4,825.4 560.9,826.3 561.4,824.5 561.9,826.2 562.4,825.8 562.9,827.9 563.4,826.7 563.9,826.2 564.4,826.4 564.9,826.8 565.4,825.5 565.9,825.9 566.4,825.7 566.9,827.8 567.4,825.8 567.9,824.1 568.4,826.2 568.9,827.4 569.4,824.5 569.9,827.8 570.4,824.9 570.9,825.5 571.4,824.1 571.9,824.1 572.4,823.1 572.9,823.0 573.4,821.8 573.9,824.0 574.4,821.8 574.9,822.4 575.4,821.8 575.9,820.3 576.4,820.0 576.9,818.7 577.4,816.9 577.9,815.2 578.4,812.3 578.9,807.6 579.4,802.0 579.9,795.2 580.4,786.7 580.9,776.1 581.4,762.3 581.9,745.6 582.4,728.9 582.9,711.1 583.4,696.5 583.9,684.4 584.4,678.8 584.9,678.8 585.4,685.3 585.9,697.9 586.4,709.9 586.9,727.2 587.4,743.3 587.9,760.1 588.4,774.6 588.9,784.5 589.4,792.0 589.9,802.1 590.4,807.7 590.9,810.1 591.4,814.3 591.9,816.7 592.4,816.6 592.9,820.2 593.4,821.0 593.9,821.6 594.4,821.2 594.9,822.0 595.4,822.5 595.9,823.8 596.4,823.0 596.9,825.2 597.4,824.6 597.9,822.8 598.4,826.1 598.9,825.1 599.4,824.7 599.9,825.4 600.4,824.0 600.9,825.7 601.4,823.8 601.9,825.0 602.4,826.9 602.9,827.0 603.4,825.8 603.9,825.4 604.4,826.9 604.9,826.2 605.4,826.5 605.9,826.9 606.4,825.6 606.9,827.1 607.4,824.9 607.9,827.7 608.4,825.4 608.9,826.2 609.4,826.2 609.9,827.3 610.4,827.3 610.9,827.1 611.4,827.2 611.9,827.2 612.4,826.8 612.9,825.4 613.4,825.1 613.9,825.1 614.4,826.9 614.9,826.8 615.4,826.9 615.9,827.2 616.4,826.8 616.9,826.2 617.4,825.9 617.9,825.6 618.4,828.0 618.9,827.8 619.4,826.0 619.9,826.8 620.4,827.4 620.9,828.2 621.4,826.5 621.9,827.0 622.4,827.7 622.9,825.3 623.4,825.9 623.9,826.3 624.4,825.6 624.9,827.5 625.4,826.4 625.9,825.6 626.4,824.6 626.9,826.0 627.4,825.8 627.9,825.0 628.4,825.3 628.9,824.7 629.4,826.0 629.9,826.9 630.4,827.2 630.9,827.1 631.4,827.5 631.9,826.5 632.4,826.7 632.9,828.1 633.4,827.5 633.9,826.6 634.4,827.6 634.9,827.9 635.4,827.8 635.9,827.4 636.4,826.9 636.9,827.6 637.4,828.7 637.9,827.5 638.4,826.8 638.9,827.6 639.4,826.4 639.9,827.6 640.4,827.1 640.9,828.1 641.4,827.5 641.9,828.2 642.4,829.2 642.9,827.2 643.4,826.7 643.9,827.7 644.4,827.3 644.9,827.5 645.4,826.9 645.9,827.8 646.4,827.4 646.9,825.7 647.4,827.1 647.9,827.5 648.4,828.1 648.9,826.7 649.4,826.5 649.9,827.9 650.4,826.4 650.9,826.7 651.4,826.8 651.9,826.7 652.4,825.8 652.9,824.6 653.4,825.9 653.9,824.5 654.4,824.2 654.9,826.1 655.4,825.3 655.9,823.9 656.4,824.6 656.9,825.1 657.4,825.0 657.9,824.4 658.4,826.8 658.9,827.1 659.4,826.9 659.9,826.6 660.4,827.2 660.9,827.6 661.4,826.4 661.9,827.0 662.4,826.9 662.9,827.9 663.4,827.6 663.9,826.4 664.4,827.0 664.9,828.8 665.4,826.7 665.9,827.6 666.4,827.0 666.9,828.5 667.4,827.5 667.9,827.2 668.4,826.6 668.9,827.3 669.4,828.2 669.9,828.1 670.4,826.5 670.9,828.7 671.4,827.4 671.9,826.7 672.4,827.7 672.9,827.1 673.4,827.1 673.9,827.1 674.4,827.5 674.9,827.2 675.4,826.3 675.9,828.0 676.4,827.2 676.9,828.5 677.4,828.0 677.9,828.0 678.4,827.7 678.9,828.6 679.4,827.3 679.9,826.8 680.4,827.8 680.9,825.5 681.4,827.3 681.9,827.8 682.4,827.3 682.9,828.5 683.4,828.1 683.9,827.7 684.4,827.3 684.9,828.4 685.4,827.1 685.9,827.3 686.4,828.2 686.9,828.0 687.4,829.1 687.9,827.4 688.4,826.2 688.9,828.1 689.4,828.5 689.9,827.5 690.4,828.8 690.9,828.9 691.4,827.1 691.9,827.2 692.4,826.6 692.9,828.0 693.4,828.1 693.9,828.0 694.4,826.6 694.9,827.0 695.4,826.5 695.9,826.3 696.4,826.5 696.9,826.3 697.4,827.4 697.9,827.8 698.4,828.0 698.9,827.5 699.4,827.0 699.9,827.4 700.4,827.9 700.9,827.2 701.4,827.4 701.9,827.0 702.4,826.8 702.9,827.0 703.4,826.0 703.9,827.4 704.4,825.2 704.9,826.4 705.4,824.7 705.9,826.5 706.4,825.7 706.9,824.2 707.4,824.3 707.9,823.8 708.4,824.7 708.9,825.2 709.4,827.1 709.9,824.4 710.4,826.7 710.9,825.7 711.4,826.6 711.9,827.3 712.4,827.3 712.9,827.3 713.4,827.0 713.9,827.2 714.4,827.4 714.9,828.3 715.4,826.3 715.9,827.1 716.4,826.5 716.9,826.7 717.4,826.9 717.9,828.3 718.4,829.1 718.9,828.5 719.4,826.6 719.9,827.6 720.4,826.7 720.9,827.8 721.4,828.5 721.9,828.0 722.4,828.2 722.9,827.4 723.4,826.0 723.9,826.0 724.4,827.4 724.9,827.9 725.4,828.4 725.9,827.2 726.4,827.5 726.9,827.7 727.4,828.2 727.9,827.4 728.4,826.6 728.9,828.2 729.4,827.7 729.9,827.7 730.4,826.4 730.9,827.3 731.4,826.0 731.9,825.8 732.4,827.1 732.9,826.9 733.4,827.6 733.9,828.2 734.4,827.1 734.9,828.4 735.4,826.5 735.9,827.5 736.4,825.9 736.9,826.8 737.4,826.3 737.9,826.3 738.4,826.6 738.9,824.4 739.4,825.5 739.9,824.2 740.4,824.1 740.9,823.2 741.4,821.3 741.9,819.6 742.4,817.0 742.9,815.9 743.4,812.6 743.9,811.0 744.4,807.5 744.9,808.1 745.4,805.5 745.9,807.3 746.4,806.9 746.9,809.0 747.4,810.3 747.9,813.1 748.4,814.8 748.9,818.0 749.4,819.6 749.9,821.3 750.4,823.5 750.9,823.0 751.4,825.4 751.9,825.1 752.4,824.5 752.9,826.4 753.4,826.1 753.9,827.8 754.4,826.3 754.9,826.8 755.4,827.1 755.9,825.6 756.4,827.4 756.9,826.4 757.4,828.2 757.9,828.5 758.4,827.3 758.9,826.1 759.4,827.5 759.9,827.5 760.4,827.9 760.9,827.2 761.4,826.6 761.9,827.4 762.4,826.8 762.9,828.8 763.4,827.0 763.9,827.1 764.4,827.5 764.9,826.6 765.4,827.2 765.9,827.5 766.4,827.2 766.9,827.4 767.4,828.5 767.9,827.9 768.4,826.6 768.9,827.3 769.4,828.2 769.9,827.2 770.4,827.7 770.9,827.6 771.4,828.1 771.9,827.5 772.4,827.6 772.9,827.0 773.4,827.9 773.9,827.0 774.4,829.0 774.9,827.7 775.4,827.5 775.9,828.3 776.4,827.6 776.9,827.8 777.4,827.7 777.9,827.2 778.4,827.0 778.9,827.2 779.4,828.6 779.9,827.3 780.4,827.4 780.9,827.4 781.4,828.3 781.9,829.2 782.4,827.1 782.9,828.1 783.4,827.8 783.9,827.5 784.4,828.1 784.9,826.8 785.4,828.4 785.9,827.9 786.4,827.0 786.9,828.9 787.4,828.4 787.9,828.6 788.4,826.7 788.9,827.6 789.4,827.4 789.9,828.2 790.4,828.8 790.9,826.4 791.4,827.8 791.9,827.7 792.4,828.5 792.9,827.8 793.4,826.9 793.9,827.6 794.4,827.0 794.9,827.2 795.4,827.8 795.9,827.4 796.4,828.0 796.9,826.7 797.4,829.5 797.9,828.7 798.4,828.3 798.9,826.9 799.4,826.2 799.9,827.2 800.4,827.6 800.9,829.4 801.4,828.8 801.9,827.4 802.4,828.7 802.9,828.7 803.4,827.8 803.9,828.7 804.4,828.0 804.9,827.3 805.4,827.0 805.9,827.7 806.4,828.5 806.9,826.8 807.4,826.6 807.9,828.2 808.4,825.8 808.9,829.1 809.4,827.5 809.9,828.3 810.4,829.2 810.9,826.8 811.4,827.1 811.9,829.4 812.4,827.6 812.9,827.7 813.4,828.0 813.9,828.6 814.4,828.8 814.9,827.9 815.4,827.6 815.9,827.8 816.4,828.0 816.9,828.8 817.4,827.9 817.9,829.1 818.4,827.2 818.9,828.2 819.4,829.1 819.9,828.8 820.4,828.1 820.9,827.2 821.4,827.3 821.9,827.7 822.4,828.1 822.9,827.6 823.4,826.8 823.9,827.3 824.4,828.2 824.9,828.4 825.4,826.8 825.9,827.6 826.4,826.6 826.9,827.4 827.4,830.4 827.9,827.9 828.4,827.6 828.9,827.4 829.4,827.0 829.9,826.5 830.4,827.8 830.9,827.6 831.4,828.9 831.9,826.6 832.4,828.1 832.9,828.8 833.4,826.4 833.9,828.3 834.4,826.7 834.9,828.2 835.4,828.9 835.9,827.8 836.4,828.0 836.9,827.3 837.4,828.0 837.9,828.6 838.4,827.7 838.9,827.7 839.4,828.1 839.9,828.4 840.4,826.6 840.9,827.9 841.4,827.3 841.9,828.2 842.4,828.6 842.9,828.0 843.4,828.7 843.9,827.1 844.4,827.5 844.9,827.1 845.4,827.8 845.9,827.9 846.4,827.7 846.9,826.9 847.4,827.7 847.9,827.5 848.4,828.2 848.9,827.6 849.4,828.6 849.9,828.0 850.4,826.4 850.9,827.7 851.4,826.8 851.9,828.5 852.4,828.8 852.9,827.7 853.4,828.1 853.9,826.7 854.4,826.1 854.9,827.3 855.4,827.6 855.9,826.7 856.4,827.8 856.9,827.9 857.4,828.2 857.9,828.8 858.4,828.3 858.9,827.4 859.4,827.8 859.9,828.1 860.4,826.9 860.9,828.6 861.4,828.3 861.9,827.5 862.4,827.2 862.9,830.3 863.4,828.2 863.9,828.3 864.4,828.9 864.9,828.3 865.4,827.7 865.9,828.0 866.4,826.8 866.9,828.0 867.4,826.3 867.9,827.7 868.4,827.8 868.9,826.2 869.4,828.7 869.9,826.4 870.4,828.0 870.9,826.8 871.4,827.3 871.9,826.6 872.4,828.8 872.9,827.6 873.4,828.1 873.9,827.3 874.4,827.1 874.9,826.6 875.4,826.1 875.9,826.5 876.4,826.0 876.9,825.4 877.4,824.1 877.9,824.3 878.4,824.1 878.9,822.3 879.4,821.4 879.9,819.1 880.4,815.9 880.9,813.0 881.4,809.5 881.9,805.7 882.4,801.4 882.9,798.1 883.4,792.8 883.9,789.4 884.4,790.1 884.9,789.4 885.4,790.8 885.9,794.8 886.4,796.9 886.9,799.6 887.4,803.6 887.9,806.8 888.4,811.1 888.9,813.3 889.4,816.1 889.9,818.6 890.4,822.0 890.9,823.5 891.4,823.1 891.9,825.2 892.4,824.9 892.9,826.2 893.4,825.6 893.9,826.8 894.4,826.2 894.9,826.3 895.4,826.6 895.9,826.8 896.4,826.4 896.9,826.0 897.4,828.2 897.9,826.8 898.4,825.8 898.9,825.6 899.4,825.2 899.9,826.8 900.4,828.3 900.9,826.2 901.4,827.2 901.9,826.1 902.4,828.2 902.9,827.7 903.4,827.7 903.9,828.5 904.4,828.7 904.9,828.3 905.4,827.1 905.9,826.6 906.4,826.8 906.9,826.3 907.4,828.8 907.9,827.4 908.4,827.6 908.9,827.7 909.4,828.9 909.9,827.1 910.4,828.3 910.9,827.6 911.4,827.1 911.9,825.7 912.4,827.5 912.9,826.1 913.4,826.0 913.9,826.1 914.4,825.5 914.9,825.8 915.4,824.1 915.9,824.4 916.4,824.2 916.9,823.9 917.4,824.4 917.9,823.9 918.4,825.2 918.9,824.1 919.4,823.9 919.9,825.3 920.4,826.6 920.9,825.8 921.4,826.0 921.9,826.5 922.4,827.1 922.9,827.1 923.4,827.6 923.9,826.3 924.4,828.6 924.9,828.1 925.4,827.1 925.9,828.7 926.4,828.1 926.9,828.8 927.4,827.0 927.9,829.0 928.4,827.9 928.9,826.4 929.4,828.4 929.9,827.7 930.4,827.2 930.9,827.7 931.4,826.5 931.9,828.3 932.4,827.8 932.9,827.7 933.4,828.9 933.9,828.0 934.4,827.5 934.9,827.3 935.4,827.9 935.9,828.7 936.4,827.5 936.9,827.2 937.4,828.6 937.9,828.0 938.4,828.0 938.9,829.4 939.4,827.1 939.9,828.1 940.4,826.7 940.9,827.8 941.4,828.4 941.9,828.8 942.4,827.1 942.9,828.6 943.4,828.6 943.9,827.9 944.4,829.7 944.9,828.0 945.4,827.4 945.9,828.3 946.4,826.7 946.9,829.1 947.4,828.7 947.9,827.7 948.4,828.4 948.9,828.4 949.4,829.4 949.9,827.6 950.4,827.1 950.9,826.6 951.4,827.8 951.9,826.9 952.4,827.9 952.9,828.3 953.4,827.7 953.9,827.4 954.4,828.9 954.9,827.9 955.4,828.2 955.9,828.7 956.4,827.1 956.9,827.4 957.4,829.8 957.9,827.9 958.4,827.3 958.9,827.9 959.4,827.6 959.9,827.2 960.4,827.8 960.9,828.0 961.4,828.0 961.9,828.4 962.4,826.8 962.9,827.0 963.4,828.6 963.9,827.7 964.4,828.9 964.9,828.3 965.4,827.1 965.9,828.4 966.4,827.3 966.9,828.2 967.4,828.9 967.9,829.5 968.4,828.0 968.9,828.5 969.4,828.3 969.9,828.6 970.4,826.3 970.9,827.8 971.4,828.3 971.9,828.4 972.4,827.5 972.9,828.6 973.4,828.8 973.9,828.1 974.4,827.9 974.9,827.8 975.4,828.2 975.9,828.9 976.4,829.1 976.9,827.7 977.4,827.4 977.9,827.5 978.4,828.7 978.9,828.2 979.4,828.3 979.9,828.4 980.4,828.3 980.9,828.0 981.4,827.3 981.9,827.6 982.4,828.1 982.9,828.3 983.4,827.8 983.9,827.8 984.4,829.0 984.9,827.7 985.4,828.2 985.9,827.8 986.4,827.4 986.9,827.0 987.4,827.7 987.9,827.5 988.4,828.6 988.9,827.2 989.4,827.7 989.9,828.5 990.4,827.9 990.9,828.4 991.4,828.6 991.9,826.9 992.4,827.7 992.9,827.3 993.4,828.9 993.9,827.9 994.4,828.3 994.9,829.1 995.4,827.7 995.9,828.0 996.4,828.2 996.9,827.7 997.4,828.8 997.9,828.5 998.4,828.6 998.9,827.9 999.4,827.6 999.9,827.6 1000.4,827.5 1000.9,826.6 1001.4,827.9 1001.9,828.2 1002.4,827.6 1002.9,827.1 1003.4,827.4 1003.9,827.3 1004.4,827.1 1004.9,827.8 1005.4,825.6 1005.9,825.8 1006.4,825.4 1006.9,824.2 1007.4,823.1 1007.9,821.7 1008.4,821.1 1008.9,821.3 1009.4,821.3 1009.9,819.6 1010.4,820.5 1010.9,820.8 1011.4,821.5 1011.9,821.5 1012.4,822.3 1012.9,823.3 1013.4,822.6 1013.9,824.2 1014.4,823.6 1014.9,824.1 1015.4,825.4 1015.9,825.3 1016.4,827.0 1016.9,827.6 1017.4,827.0 1017.9,827.2 1018.4,827.3 1018.9,827.3 1019.4,827.6 1019.9,827.8 1020.4,827.3 1020.9,827.1 1021.4,827.3 1021.9,828.2 1022.4,827.4 1022.9,828.6 1023.4,827.5 1023.9,828.6 1024.4,826.8 1024.9,827.1 1025.4,827.9 1025.9,827.8 1026.4,827.4 1026.9,828.8 1027.4,827.4 1027.9,827.5 1028.4,826.8 1028.9,828.2 1029.4,827.6 1029.9,827.2 1030.4,825.7 1030.9,826.9 1031.4,826.2 1031.9,826.7 1032.4,826.9 1032.9,825.6 1033.4,826.1 1033.9,826.3 1034.4,825.7 1034.9,825.2 1035.4,824.6 1035.9,824.7 1036.4,824.2 1036.9,825.5 1037.4,824.9 1037.9,823.9 1038.4,824.7 1038.9,823.8 1039.4,822.5 1039.9,825.5 1040.4,825.5 1040.9,823.9 1041.4,824.5 1041.9,825.2 1042.4,825.0 1042.9,824.8 1043.4,825.2 1043.9,825.6 1044.4,825.5 1044.9,826.2 1045.4,826.1 1045.9,825.9 1046.4,826.6 1046.9,825.6 1047.4,827.8 1047.9,825.8 1048.4,827.0 1048.9,827.4 1049.4,827.5 1049.9,827.5 1050.4,828.3 1050.9,826.8 1051.4,827.5 1051.9,827.7 1052.4,827.4 1052.9,827.3 1053.4,828.6 1053.9,827.3 1054.4,827.5 1054.9,827.7 1055.4,827.8 1055.9,828.0 1056.4,827.8 1056.9,828.2 1057.4,828.1 1057.9,828.3 1058.4,828.9 1058.9,827.4 1059.4,829.1 1059.9,827.7 1060.4,828.5 1060.9,828.1 1061.4,827.8 1061.9,826.8 1062.4,829.1 1062.9,827.6 1063.4,827.5 1063.9,828.8 1064.4,828.1 1064.9,829.3 1065.4,829.2 1065.9,828.6 1066.4,828.3 1066.9,828.6 1067.4,827.2 1067.9,828.2 1068.4,828.2 1068.9,827.8 1069.4,828.3 1069.9,827.1 1070.4,828.7 1070.9,829.0 1071.4,827.3 1071.9,828.2 1072.4,829.1 1072.9,828.4 1073.4,827.4 1073.9,827.5 1074.4,828.7 1074.9,829.3 1075.4,827.4 1075.9,828.1 1076.4,827.6 1076.9,827.9 1077.4,828.3 1077.9,828.1 1078.4,827.7 1078.9,829.5 1079.4,828.0 1079.9,828.0 1080.4,828.9 1080.9,828.1 1081.4,828.0 1081.9,828.7 1082.4,827.5 1082.9,828.6 1083.4,828.8 1083.9,828.6 1084.4,828.0 1084.9,828.1 1085.4,827.0 1085.9,828.0 1086.4,828.3 1086.9,828.7 1087.4,828.2 1087.9,827.9 1088.4,827.6 1088.9,828.1 1089.4,828.2 1089.9,828.9 1090.4,828.1 1090.9,827.8 1091.4,828.0 1091.9,827.8 1092.4,827.9 1092.9,826.7 1093.4,827.1 1093.9,827.3 1094.4,828.4 1094.9,828.0 1095.4,828.2 1095.9,828.8 1096.4,827.4 1096.9,828.8 1097.4,828.3 1097.9,827.6 1098.4,829.0 1098.9,827.1 1099.4,827.3 1099.9,827.9 1100.4,828.3 1100.9,827.9 1101.4,826.6 1101.9,827.8 1102.4,827.9 1102.9,829.6 1103.4,828.8 1103.9,828.0 1104.4,827.2 1104.9,828.1 1105.4,827.1 1105.9,828.0 1106.4,828.1 1106.9,827.5 1107.4,827.9 1107.9,827.5 1108.4,827.3 1108.9,828.7 1109.4,828.0 1109.9,827.4 1110.4,827.1 1110.9,827.6 1111.4,827.8 1111.9,828.0 1112.4,828.3 1112.9,827.6 1113.4,826.5 1113.9,828.4 1114.4,827.7 1114.9,827.4 1115.4,827.6 1115.9,825.6 1116.4,826.2 1116.9,825.8 1117.4,826.6 1117.9,824.8 1118.4,824.8 1118.9,825.3 1119.4,823.8 1119.9,821.8 1120.4,821.6 1120.9,817.3 1121.4,815.5 1121.9,811.6 1122.4,808.0 1122.9,803.0 1123.4,797.8 1123.9,793.9 1124.4,789.1 1124.9,787.7 1125.4,786.1 1125.9,787.3 1126.4,787.9 1126.9,789.7 1127.4,792.8 1127.9,796.1 1128.4,797.0 1128.9,801.9 1129.4,805.8 1129.9,808.1 1130.4,811.8 1130.9,815.8 1131.4,817.4 1131.9,819.6 1132.4,822.8 1132.9,822.5 1133.4,823.5 1133.9,823.4 1134.4,824.7 1134.9,825.1 1135.4,827.3 1135.9,827.2 1136.4,825.8 1136.9,828.0 1137.4,827.4 1137.9,826.9 1138.4,827.7 1138.9,827.5 1139.4,826.8 1139.9,826.3 1140.4,826.9 1140.9,827.5 1141.4,827.3 1141.9,827.2 1142.4,828.3 1142.9,827.0 1143.4,828.3 1143.9,827.5 1144.4,827.9 1144.9,827.1 1145.4,827.9 1145.9,827.4 1146.4,826.8 1146.9,827.9 1147.4,827.9 1147.9,828.5 1148.4,828.2 1148.9,827.4 1149.4,827.6 1149.9,826.5 1150.4,827.3 1150.9,828.9 1151.4,829.0 1151.9,828.6 1152.4,828.3 1152.9,828.5 1153.4,828.4 1153.9,827.0 1154.4,827.6 1154.9,828.9 1155.4,828.9 1155.9,828.3 1156.4,828.0 1156.9,827.9 1157.4,827.8 1157.9,827.6 1158.4,827.0 1158.9,828.3 1159.4,827.9 1159.9,828.1 1160.4,829.3 1160.9,828.6 1161.4,827.8 1161.9,828.6 1162.4,827.3 1162.9,828.9 1163.4,828.4 1163.9,828.1 1164.4,828.6 1164.9,829.2 1165.4,828.0 1165.9,827.6 1166.4,829.6 1166.9,828.3 1167.4,829.2 1167.9,827.8 1168.4,828.5 1168.9,827.9 1169.4,828.7 1169.9,828.1 1170.4,827.9 1170.9,829.3 1171.4,828.5 1171.9,827.0 1172.4,828.1 1172.9,827.7 1173.4,827.5 1173.9,827.9 1174.4,828.0 1174.9,828.3 1175.4,827.8 1175.9,827.1 1176.4,828.0 1176.9,828.9 1177.4,827.5 1177.9,828.7 1178.4,828.6 1178.9,828.0 1179.4,828.5 1179.9,827.9 1180.4,828.1 1180.9,827.7 1181.4,828.6 1181.9,829.2 1182.4,827.9 1182.9,829.1 1183.4,827.0 1183.9,827.8 1184.4,827.7 1184.9,829.4 1185.4,828.0 1185.9,828.8 1186.4,827.1 1186.9,828.4 1187.4,828.7 1187.9,828.3 1188.4,826.6 1188.9,828.5 1189.4,828.9 1189.9,829.2 1190.4,828.6 1190.9,827.3 1191.4,828.2 1191.9,828.9 1192.4,827.8 1192.9,828.7 1193.4,828.1 1193.9,828.4 1194.4,828.8 1194.9,827.9 1195.4,830.2 1195.9,828.5 1196.4,828.6 1196.9,827.9 1197.4,828.4 1197.9,828.2 1198.4,827.5 1198.9,827.4 1199.4,828.6 1199.9,828.3 1200.4,826.7 1200.9,827.0 1201.4,828.2 1201.9,828.3 1202.4,828.8 1202.9,827.6 1203.4,828.8 1203.9,828.2 1204.4,828.1 1204.9,828.3 1205.4,829.0 1205.9,828.7 1206.4,829.0 1206.9,828.0 1207.4,828.2 1207.9,827.7 1208.4,828.1 1208.9,828.2 1209.4,828.1 1209.9,828.9 1210.4,828.7 1210.9,828.9 1211.4,828.5 1211.9,829.1 1212.4,828.5 1212.9,829.0 1213.4,828.7 1213.9,828.9 1214.4,828.4 1214.9,827.6 1215.4,827.5 1215.9,829.6 1216.4,828.7 1216.9,828.7 1217.4,828.3 1217.9,828.1 1218.4,830.2 1218.9,827.7 1219.4,828.4 1219.9,828.4 1220.4,827.7 1220.9,827.6 1221.4,828.0 1221.9,828.2 1222.4,828.1 1222.9,828.9 1223.4,827.7 1223.9,828.7 1224.4,829.4 1224.9,829.0 1225.4,827.7 1225.9,826.6 1226.4,829.0 1226.9,828.7 1227.4,828.1 1227.9,829.2 1228.4,828.2 1228.9,828.5 1229.4,827.8 1229.9,828.6 1230.4,828.2 1230.9,828.1 1231.4,829.1 1231.9,828.6 1232.4,827.5 1232.9,828.9 1233.4,829.0 1233.9,827.9 1234.4,828.2 1234.9,828.5 1235.4,828.3 1235.9,828.5 1236.4,828.9 1236.9,828.1 1237.4,829.8 1237.9,828.0 1238.4,828.1 1238.9,829.7 1239.4,829.9 1239.9,828.5 1240.4,828.3 1240.9,827.8 1241.4,829.2 1241.9,828.6 1242.4,827.9 1242.9,828.7 1243.4,829.3 1243.9,828.9 1244.4,829.8 1244.9,829.2 1245.4,828.7 1245.9,828.4 1246.4,828.8 1246.9,829.2 1247.4,829.0 1247.9,829.1 1248.4,828.6 1248.9,828.9 1249.4,829.2 1249.9,828.4 1250.4,827.7 1250.9,829.5 1251.4,828.8 1251.9,828.2 1252.4,828.6 1252.9,828.3 1253.4,827.4 1253.9,828.4 1254.4,827.6 1254.9,828.6 1255.4,828.4 1255.9,829.2 1256.4,828.4 1256.9,828.7 1257.4,828.3 1257.9,828.2 1258.4,827.6 1258.9,829.1 1259.4,828.6 1259.9,828.1 1260.4,828.6 1260.9,828.2 1261.4,828.0 1261.9,828.6 1262.4,829.2 1262.9,828.3 1263.4,827.6 1263.9,828.1 1264.4,829.6 1264.9,828.0 1265.4,829.2 1265.9,828.3 1266.4,828.9 1266.9,828.4 1267.4,827.5 1267.9,828.2 1268.4,829.8 1268.9,828.4 1269.4,828.8 1269.9,828.3 1270.4,828.4 1270.9,828.7 1271.4,828.8 1271.9,829.9 1272.4,828.5 1272.9,828.4 1273.4,828.1 1273.9,827.7 1274.4,827.5 1274.9,828.9 1275.4,827.4 1275.9,829.4 1276.4,829.0 1276.9,828.3 1277.4,827.8 1277.9,828.5 1278.4,828.5 1278.9,829.2 1279.4,828.0 1279.9,828.3 1280.4,828.5 1280.9,828.3 1281.4,828.1 1281.9,827.5 1282.4,827.5 1282.9,828.1 1283.4,828.4 1283.9,829.1 1284.4,829.9 1284.9,829.6 1285.4,828.8 1285.9,829.7 1286.4,828.4 1286.9,828.2 1287.4,829.9 1287.9,827.9 1288.4,828.3 1288.9,828.3 1289.4,829.4 1289.9,828.1 1290.4,829.0 1290.9,828.3 1291.4,827.8 1291.9,828.7 1292.4,828.6 1292.9,827.8 1293.4,828.0 1293.9,828.0 1294.4,829.1 1294.9,828.8 1295.4,828.7 1295.9,828.8 1296.4,828.2 1296.9,828.8 1297.4,828.1 1297.9,827.7 1298.4,828.1 1298.9,828.6 1299.4,828.6 1299.9,829.2 1300.4,827.5 1300.9,828.4 1301.4,828.7 1301.9,827.9 1302.4,828.7 1302.9,828.3 1303.4,827.8 1303.9,829.2 1304.4,827.7 1304.9,829.1 1305.4,828.2 1305.9,827.9 1306.4,828.0 1306.9,828.0 1307.4,828.0 1307.9,828.7 1308.4,827.3 1308.9,829.2 1309.4,829.0 1309.9,829.3 1310.4,827.9 1310.9,827.1 1311.4,828.1 1311.9,828.4 1312.4,828.6 1312.9,828.1 1313.4,828.4 1313.9,828.5 1314.4,827.5 1314.9,829.5 1315.4,827.8 1315.9,828.6 1316.4,829.1 1316.9,827.9 1317.4,828.4 1317.9,829.4 1318.4,828.2 1318.9,829.0 1319.4,828.6 1319.9,828.5 1320.4,828.8 1320.9,828.2 1321.4,828.2 1321.9,828.9 1322.4,828.4 1322.9,828.6 1323.4,827.5 1323.9,828.2 1324.4,828.9 1324.9,828.7 1325.4,828.3 1325.9,827.8 1326.4,827.7 1326.9,828.3 1327.4,828.8 1327.9,827.9 1328.4,828.6 1328.9,827.5 1329.4,828.3 1329.9,826.7 1330.4,827.2 1330.9,826.1 1331.4,826.7 1331.9,826.0 1332.4,824.2 1332.9,823.3 1333.4,822.1 1333.9,819.9 1334.4,818.4 1334.9,816.6 1335.4,815.7 1335.9,814.5 1336.4,812.3 1336.9,812.0 1337.4,812.4 1337.9,812.6 1338.4,813.6 1338.9,815.1 1339.4,815.6 1339.9,816.2 1340.4,816.7 1340.9,819.0 1341.4,818.8 1341.9,820.5 1342.4,821.1 1342.9,822.5 1343.4,824.0 1343.9,824.6 1344.4,825.9 1344.9,826.3 1345.4,825.9 1345.9,825.7 1346.4,827.9 1346.9,827.2 1347.4,828.6 1347.9,827.8 1348.4,827.5 1348.9,828.3 1349.4,827.9 1349.9,828.1 1350.4,827.6 1350.9,828.6 1351.4,828.9 1351.9,827.9 1352.4,829.3 1352.9,828.0 1353.4,828.5 1353.9,827.4 1354.4,827.2 1354.9,829.6 1355.4,829.2 1355.9,829.1 1356.4,827.4 1356.9,828.6 1357.4,828.7 1357.9,828.5 1358.4,828.6 1358.9,827.9 1359.4,828.4 1359.9,827.8 1360.4,828.3 1360.9,828.7 1361.4,828.0 1361.9,828.3 1362.4,828.3 1362.9,828.5 1363.4,829.1 1363.9,828.7 1364.4,828.8 1364.9,827.7 1365.4,828.3 1365.9,829.0 1366.4,828.0 1366.9,828.3 1367.4,828.0 1367.9,829.4 1368.4,828.3 1368.9,828.1 1369.4,828.9 1369.9,829.2 1370.4,828.9 1370.9,829.2 1371.4,828.7 1371.9,828.5 1372.4,828.3 1372.9,828.3 1373.4,828.2 1373.9,828.8 1374.4,828.5 1374.9,828.7 1375.4,829.0 1375.9,828.6 1376.4,827.8 1376.9,828.1 1377.4,827.9 1377.9,827.5 1378.4,828.7 1378.9,827.9 1379.4,827.9 1379.9,828.0 1380.4,829.1 1380.9,828.4 1381.4,829.2 1381.9,828.6 1382.4,828.4 1382.9,829.0 1383.4,829.0 1383.9,828.7 1384.4,828.0 1384.9,828.4 1385.4,827.9 1385.9,828.5 1386.4,828.7 1386.9,829.5 1387.4,829.5 1387.9,829.0 1388.4,829.2 1388.9,828.8 1389.4,830.3 1389.9,829.5 1390.4,830.2 1390.9,828.9 1391.4,828.9 1391.9,829.3 1392.4,828.8 1392.9,828.8 1393.4,828.1 1393.9,829.2 1394.4,828.7 1394.9,829.1 1395.4,828.5 1395.9,827.6 1396.4,828.9 1396.9,829.3 1397.4,827.9 1397.9,828.1 1398.4,828.5 1398.9,828.5 1399.4,827.6 1399.9,829.7 1400.4,829.2 1400.9,828.3 1401.4,827.6 1401.9,828.9 1402.4,829.8 1402.9,829.1 1403.4,829.3 1403.9,828.1 1404.4,828.8 1404.9,827.8 1405.4,829.8 1405.9,829.0 1406.4,827.4 1406.9,827.6 1407.4,828.9 1407.9,828.7 1408.4,828.5 1408.9,829.0 1409.4,829.8 1409.9,828.9 1410.4,827.6 1410.9,828.5 1411.4,827.9 1411.9,828.2 1412.4,828.8 1412.9,828.5 1413.4,828.0 1413.9,828.6 1414.4,828.1 1414.9,828.9 1415.4,828.5 1415.9,828.9 1416.4,828.5 1416.9,829.1 1417.4,828.5 1417.9,828.6 1418.4,828.3 1418.9,828.7 1419.4,827.6 1419.9,830.2 1420.4,828.2 1420.9,828.6 1421.4,828.3 1421.9,828.3 1422.4,828.8 1422.9,828.3 1423.4,828.3 1423.9,827.7 1424.4,828.0 1424.9,827.8 1425.4,829.5 1425.9,827.7 1426.4,827.8 1426.9,828.5 1427.4,829.2 1427.9,827.4 1428.4,827.4 1428.9,828.3 1429.4,828.4 1429.9,827.3 1430.4,827.0 1430.9,827.4 1431.4,828.3 1431.9,827.7 1432.4,828.1 1432.9,827.5 1433.4,827.4 1433.9,827.6 1434.4,827.0 1434.9,827.1 1435.4,826.2 1435.9,826.3 1436.4,826.7 1436.9,826.1 1437.4,825.7 1437.9,826.4 1438.4,826.2 1438.9,825.8 1439.4,825.3 1439.9,826.3 1440.4,827.2 1440.9,825.3 1441.4,825.0 1441.9,825.5 1442.4,825.5 1442.9,825.5 1443.4,825.7 1443.9,827.0 1444.4,827.2 1444.9,827.7 1445.4,827.5 1445.9,826.9 1446.4,828.0 1446.9,827.1 1447.4,827.4 1447.9,827.1 1448.4,828.6 1448.9,828.5 1449.4,827.8 1449.9,827.9 1450.4,828.2 1450.9,828.4 1451.4,828.8 1451.9,828.4 1452.4,828.6 1452.9,827.6 1453.4,828.3 1453.9,827.4 1454.4,829.5 1454.9,829.3 1455.4,829.0 1455.9,829.2 1456.4,829.7 1456.9,829.1 1457.4,827.7 1457.9,828.5 1458.4,827.2 1458.9,828.1 1459.4,827.9 1459.9,828.6 1460.4,828.9 1460.9,828.1 1461.4,828.5 1461.9,828.8 1462.4,828.6 1462.9,828.6 1463.4,827.3 1463.9,828.4 1464.4,829.1 1464.9,828.8 1465.4,827.8 1465.9,828.5 1466.4,828.8 1466.9,828.1 1467.4,829.1 1467.9,828.2 1468.4,828.5 1468.9,828.6 1469.4,830.0 1469.9,828.5 1470.4,828.4 1470.9,829.1 1471.4,828.4 1471.9,828.8 1472.4,827.4 1472.9,828.9 1473.4,828.7 1473.9,828.0 1474.4,829.5 1474.9,828.6 1475.4,828.6 1475.9,828.0 1476.4,827.8 1476.9,828.4 1477.4,827.8 1477.9,829.0 1478.4,829.2 1478.9,828.4 1479.4,827.8 1479.9,828.5 1480.4,828.1 1480.9,828.8 1481.4,828.8 1481.9,828.5 1482.4,828.8 1482.9,829.3 1483.4,829.7 1483.9,828.4 1484.4,829.1 1484.9,828.6 1485.4,828.1 1485.9,829.5 1486.4,828.9 1486.9,828.8 1487.4,828.9 1487.9,828.6 1488.4,828.1 1488.9,829.7 1489.4,829.2 1489.9,828.9 1490.4,829.3 1490.9,829.5 1491.4,828.6 1491.9,829.1 1492.4,828.5 1492.9,829.1 1493.4,828.6 1493.9,830.1 1494.4,828.5 1494.9,829.0 1495.4,829.0 1495.9,828.5 1496.4,829.3 1496.9,828.7 1497.4,828.5 1497.9,828.7 1498.4,828.3 1498.9,829.4 1499.4,829.1 1499.9,829.3 1500.4,827.9 1500.9,828.9 1501.4,828.3 1501.9,828.7 1502.4,829.4 1502.9,828.8 1503.4,828.6 1503.9,829.3 1504.4,829.3 1504.9,829.7 1505.4,827.6 1505.9,828.9 1506.4,828.4 1506.9,828.2 1507.4,828.7 1507.9,828.0 1508.4,827.4 1508.9,828.1 1509.4,828.5 1509.9,829.7 1510.4,828.2 1510.9,828.0 1511.4,827.5 1511.9,828.4 1512.4,828.5 1512.9,828.7 1513.4,827.8 1513.9,828.1 1514.4,827.3 1514.9,828.7 1515.4,827.7 1515.9,827.0 1516.4,829.2 1516.9,828.8 1517.4,828.7 1517.9,828.7 1518.4,827.9 1518.9,829.1 1519.4,827.8 1519.9,829.5 1520.4,828.5 1520.9,827.3 1521.4,828.8 1521.9,829.4 1522.4,828.1 1522.9,828.8 1523.4,828.0 1523.9,827.8 1524.4,826.6 1524.9,828.7 1525.4,827.6 1525.9,828.0 1526.4,827.0 1526.9,827.0 1527.4,827.9 1527.9,826.8 1528.4,826.6 1528.9,825.7 1529.4,826.2 1529.9,826.1 1530.4,824.9 1530.9,824.5 1531.4,823.3 1531.9,824.1 1532.4,822.2 1532.9,821.6 1533.4,821.8 1533.9,819.9 1534.4,818.3 1534.9,817.8 1535.4,817.4 1535.9,817.9 1536.4,816.5 1536.9,815.9 1537.4,816.3 1537.9,816.7 1538.4,815.8 1538.9,817.5 1539.4,817.8 1539.9,818.3 1540.4,817.5 1540.9,819.8 1541.4,821.3 1541.9,821.2 1542.4,823.5 1542.9,823.0 1543.4,823.1 1543.9,824.7 1544.4,825.1 1544.9,826.0 1545.4,825.8 1545.9,827.1 1546.4,826.4 1546.9,827.1 1547.4,826.5 1547.9,827.0 1548.4,827.7 1548.9,827.4 1549.4,827.6 1549.9,827.9 1550.4,828.2 1550.9,828.6 1551.4,828.6 1551.9,828.8 1552.4,828.4 1552.9,828.0 1553.4,827.5 1553.9,828.2 1554.4,828.0 1554.9,827.4 1555.4,829.4 1555.9,827.5 1556.4,828.7 1556.9,828.9 1557.4,828.4 1557.9,830.0 1558.4,828.6 1558.9,828.2 1559.4,829.6 1559.9,828.2 1560.4,827.8 1560.9,828.1 1561.4,828.3 1561.9,828.7 1562.4,828.9 1562.9,827.8 1563.4,828.9 1563.9,830.0 1564.4,828.3 1564.9,828.7 1565.4,829.1 1565.9,829.4 1566.4,828.4 1566.9,828.2 1567.4,828.2 1567.9,829.4 1568.4,829.3 1568.9,827.6 1569.4,827.6 1569.9,828.1 1570.4,827.9 1570.9,829.0 1571.4,828.9 1571.9,829.9 1572.4,829.3 1572.9,828.9 1573.4,829.5 1573.9,828.3 1574.4,828.0 1574.9,828.9 1575.4,829.4 1575.9,827.9 1576.4,829.3 1576.9,829.3 1577.4,828.6 1577.9,828.9 1578.4,828.7 1578.9,828.9 1579.4,829.3 1579.9,828.4 1580.4,829.5 1580.9,829.4 1581.4,829.4 1581.9,827.8 1582.4,827.8 1582.9,829.3 1583.4,828.5 1583.9,828.5 1584.4,828.5 1584.9,828.1 1585.4,828.7 1585.9,828.5 1586.4,828.5 1586.9,829.2 1587.4,828.2 1587.9,829.5 1588.4,827.6 1588.9,830.3 1589.4,828.1 1589.9,829.2 1590.4,829.4 1590.9,828.9 1591.4,829.3 1591.9,828.9 1592.4,827.9 1592.9,829.1 1593.4,829.6 1593.9,828.6 1594.4,828.0 1594.9,828.6 1595.4,829.1 1595.9,829.1 1596.4,829.5 1596.9,829.2 1597.4,829.2 1597.9,827.8 1598.4,830.2 1598.9,829.0 1599.4,829.4 1599.9,828.7 1600.4,828.9 1600.9,829.0 1601.4,829.8 1601.9,829.8 1602.4,829.3 1602.9,830.1 1603.4,828.7 1603.9,829.2 1604.4,828.7 1604.9,829.7 1605.4,829.0 1605.9,829.5 1606.4,829.9 1606.9,827.8" fill="none" stroke="#0000FF" stroke-width="4.9" stroke-linejoin="round"/>
<polyline points="111.4,952.4 111.9,950.8 112.4,950.2 112.9,948.8 113.4,950.2 113.9,948.5 114.4,950.6 114.9,950.3 115.4,952.1 115.9,950.2 116.4,951.4 116.9,951.5 117.4,952.3 117.9,950.3 118.4,951.2 118.9,949.2 119.4,949.5 119.9,950.3 120.4,950.5 120.9,949.4 121.4,950.1 121.9,951.1 122.4,950.1 122.9,950.4 123.4,949.7 123.9,951.7 124.4,952.1 124.9,950.7 125.4,950.4 125.9,952.0 126.4,950.9 126.9,949.9 127.4,949.3 127.9,950.0 128.4,952.4 128.9,950.0 129.4,953.0 129.9,950.5 130.4,950.3 130.9,951.7 131.4,950.3 131.9,950.8 132.4,949.6 132.9,949.4 133.4,949.9 133.9,950.7 134.4,949.9 134.9,948.8 135.4,950.9 135.9,950.4 136.4,950.3 136.9,950.0 137.4,948.6 137.9,951.9 138.4,950.1 138.9,951.0 139.4,951.7 139.9,951.5 140.4,950.7 140.9,950.5 141.4,950.8 141.9,951.3 142.4,951.0 142.9,950.2 143.4,950.9 143.9,950.9 144.4,951.1 144.9,950.7 145.4,951.7 145.9,950.7 146.4,951.3 146.9,950.6 147.4,950.0 147.9,949.7 148.4,950.4 148.9,951.0 149.4,951.6 149.9,950.5 150.4,950.1 150.9,950.1 151.4,951.7 151.9,950.6 152.4,950.1 152.9,951.2 153.4,949.4 153.9,950.7 154.4,950.5 154.9,950.4 155.4,949.6 155.9,951.4 156.4,952.0 156.9,949.4 157.4,950.7 157.9,951.1 158.4,952.5 158.9,950.2 159.4,949.7 159.9,950.6 160.4,952.3 160.9,950.6 161.4,950.8 161.9,952.1 162.4,948.7 162.9,948.7 163.4,951.4 163.9,951.2 164.4,949.4 164.9,951.0 165.4,950.6 165.9,950.8 166.4,949.9 166.9,950.2 167.4,949.8 167.9,950.6 168.4,950.4 168.9,952.0 169.4,951.1 169.9,949.2 170.4,950.9 170.9,951.8 171.4,950.8 171.9,951.5 172.4,950.6 172.9,951.2 173.4,949.8 173.9,951.3 174.4,949.4 174.9,951.7 175.4,949.3 175.9,948.8 176.4,951.0 176.9,950.4 177.4,950.7 177.9,951.0 178.4,950.6 178.9,949.8 179.4,950.8 179.9,950.9 180.4,951.0 180.9,952.3 181.4,950.0 181.9,950.7 182.4,951.1 182.9,950.2 183.4,949.6 183.9,950.1 184.4,951.5 184.9,950.4 185.4,951.1 185.9,950.0 186.4,951.0 186.9,950.0 187.4,949.9 187.9,950.7 188.4,950.7 188.9,951.9 189.4,949.2 189.9,951.0 190.4,952.0 190.9,951.8 191.4,950.3 191.9,950.0 192.4,950.2 192.9,950.9 193.4,950.8 193.9,950.9 194.4,951.1 194.9,949.7 195.4,949.7 195.9,949.6 196.4,949.5 196.9,950.5 197.4,950.9 197.9,952.8 198.4,951.1 198.9,950.6 199.4,951.8 199.9,950.0 200.4,950.9 200.9,951.5 201.4,951.3 201.9,951.0 202.4,950.3 202.9,949.6 203.4,950.5 203.9,950.1 204.4,951.2 204.9,950.5 205.4,951.1 205.9,949.3 206.4,951.5 206.9,949.9 207.4,949.3 207.9,949.5 208.4,950.1 208.9,951.6 209.4,951.2 209.9,949.6 210.4,950.7 210.9,950.5 211.4,949.3 211.9,949.8 212.4,948.9 212.9,949.9 213.4,948.4 213.9,950.0 214.4,949.8 214.9,950.0 215.4,949.9 215.9,951.6 216.4,950.4 216.9,950.9 217.4,951.3 217.9,951.4 218.4,951.2 218.9,950.2 219.4,949.7 219.9,950.0 220.4,950.3 220.9,950.7 221.4,950.6 221.9,951.6 222.4,950.6 222.9,952.2 223.4,951.5 223.9,950.2 224.4,951.4 224.9,948.2 225.4,951.8 225.9,951.0 226.4,951.0 226.9,949.2 227.4,952.8 227.9,950.4 228.4,950.5 228.9,951.6 229.4,950.5 229.9,949.9 230.4,951.2 230.9,949.8 231.4,951.3 231.9,950.8 232.4,951.6 232.9,949.6 233.4,951.7 233.9,950.9 234.4,952.3 234.9,950.1 235.4,952.2 235.9,951.3 236.4,951.3 236.9,950.1 237.4,951.1 237.9,951.2 238.4,950.0 238.9,949.7 239.4,950.0 239.9,951.9 240.4,950.8 240.9,951.5 241.4,950.9 241.9,950.8 242.4,950.9 242.9,950.3 243.4,951.7 243.9,950.8 244.4,950.9 244.9,949.5 245.4,950.9 245.9,950.1 246.4,950.3 246.9,951.6 247.4,949.8 247.9,950.5 248.4,951.2 248.9,951.7 249.4,950.3 249.9,951.0 250.4,950.9 250.9,949.7 251.4,948.9 251.9,949.1 252.4,951.2 252.9,950.8 253.4,949.6 253.9,950.2 254.4,950.4 254.9,950.4 255.4,950.7 255.9,952.6 256.4,950.0 256.9,950.8 257.4,950.1 257.9,950.2 258.4,950.0 258.9,950.5 259.4,950.2 259.9,951.0 260.4,950.9 260.9,950.0 261.4,952.3 261.9,949.7 262.4,951.0 262.9,952.5 263.4,950.1 263.9,951.8 264.4,951.9 264.9,951.0 265.4,949.2 265.9,951.9 266.4,950.8 266.9,950.3 267.4,951.8 267.9,950.1 268.4,951.6 268.9,950.3 269.4,951.2 269.9,949.8 270.4,950.4 270.9,950.0 271.4,950.1 271.9,950.9 272.4,950.6 272.9,950.9 273.4,951.8 273.9,950.6 274.4,949.2 274.9,950.5 275.4,950.8 275.9,951.6 276.4,951.6 276.9,951.5 277.4,950.5 277.9,951.3 278.4,949.5 278.9,951.8 279.4,951.1 279.9,951.2 280.4,950.4 280.9,950.8 281.4,950.2 281.9,951.2 282.4,949.6 282.9,951.5 283.4,951.2 283.9,952.4 284.4,950.7 284.9,950.7 285.4,950.9 285.9,950.8 286.4,950.7 286.9,949.8 287.4,949.8 287.9,950.3 288.4,950.5 288.9,949.8 289.4,949.8 289.9,950.5 290.4,951.4 290.9,950.6 291.4,951.3 291.9,951.6 292.4,951.4 292.9,950.4 293.4,950.4 293.9,949.2 294.4,950.2 294.9,951.1 295.4,949.9 295.9,951.9 296.4,951.9 296.9,950.4 297.4,951.5 297.9,949.6 298.4,949.9 298.9,950.4 299.4,950.8 299.9,950.6 300.4,950.0 300.9,952.4 301.4,951.0 301.9,951.0 302.4,951.3 302.9,950.9 303.4,950.6 303.9,950.3 304.4,949.4 304.9,952.0 305.4,950.0 305.9,949.4 306.4,950.1 306.9,949.4 307.4,952.4 307.9,951.1 308.4,951.9 308.9,952.0 309.4,951.2 309.9,951.2 310.4,950.2 310.9,950.7 311.4,950.3 311.9,950.8 312.4,950.2 312.9,951.8 313.4,951.4 313.9,950.7 314.4,949.4 314.9,951.3 315.4,951.5 315.9,950.7 316.4,949.7 316.9,951.1 317.4,951.6 317.9,949.2 318.4,951.2 318.9,949.3 319.4,950.8 319.9,952.2 320.4,950.9 320.9,951.2 321.4,950.5 321.9,950.8 322.4,952.7 322.9,951.9 323.4,950.5 323.9,950.5 324.4,950.8 324.9,952.6 325.4,951.0 325.9,951.7 326.4,950.5 326.9,949.7 327.4,951.9 327.9,950.7 328.4,950.1 328.9,950.2 329.4,950.2 329.9,950.3 330.4,949.5 330.9,951.8 331.4,951.1 331.9,951.6 332.4,950.5 332.9,951.1 333.4,950.9 333.9,951.8 334.4,951.5 334.9,951.1 335.4,950.3 335.9,949.8 336.4,950.1 336.9,950.3 337.4,950.3 337.9,949.8 338.4,952.1 338.9,951.0 339.4,949.1 339.9,949.9 340.4,949.7 340.9,951.0 341.4,951.7 341.9,950.0 342.4,951.3 342.9,950.6 343.4,951.7 343.9,951.9 344.4,951.0 344.9,951.4 345.4,950.8 345.9,950.5 346.4,949.8 346.9,951.0 347.4,950.7 347.9,950.5 348.4,950.7 348.9,950.6 349.4,949.9 349.9,950.3 350.4,951.7 350.9,950.6 351.4,951.9 351.9,949.8 352.4,949.7 352.9,950.9 353.4,951.4 353.9,950.2 354.4,951.3 354.9,951.5 355.4,951.6 355.9,950.6 356.4,950.7 356.9,949.4 357.4,950.7 357.9,950.9 358.4,951.9 358.9,949.7 359.4,950.0 359.9,949.9 360.4,951.4 360.9,948.6 361.4,949.8 361.9,952.3 362.4,951.2 362.9,949.6 363.4,950.6 363.9,951.3 364.4,951.0 364.9,950.4 365.4,949.9 365.9,951.2 366.4,950.5 366.9,951.1 367.4,950.8 367.9,950.0 368.4,951.5 368.9,949.9 369.4,950.6 369.9,949.7 370.4,949.9 370.9,949.8 371.4,949.3 371.9,949.9 372.4,950.5 372.9,950.6 373.4,949.7 373.9,947.8 374.4,948.2 374.9,946.2 375.4,945.9 375.9,941.8 376.4,942.2 376.9,938.5 377.4,938.1 377.9,935.2 378.4,935.4 378.9,934.2 379.4,933.4 379.9,935.4 380.4,937.6 380.9,939.7 381.4,939.8 381.9,942.4 382.4,944.4 382.9,946.1 383.4,947.5 383.9,947.5 384.4,947.5 384.9,949.4 385.4,949.2 385.9,950.5 386.4,949.5 386.9,950.6 387.4,949.4 387.9,950.4 388.4,950.4 388.9,950.7 389.4,949.7 389.9,950.3 390.4,949.8 390.9,950.4 391.4,951.0 391.9,952.9 392.4,950.6 392.9,951.2 393.4,950.7 393.9,951.6 394.4,951.0 394.9,951.5 395.4,951.0 395.9,952.6 396.4,951.8 396.9,949.4 397.4,951.0 397.9,950.8 398.4,949.0 398.9,950.1 399.4,950.4 399.9,950.2 400.4,950.9 400.9,949.4 401.4,951.4 401.9,951.4 402.4,951.1 402.9,950.5 403.4,950.8 403.9,950.4 404.4,951.7 404.9,951.2 405.4,952.4 405.9,950.5 406.4,952.0 406.9,950.4 407.4,950.7 407.9,950.0 408.4,951.3 408.9,950.8 409.4,951.3 409.9,952.0 410.4,950.8 410.9,951.1 411.4,951.6 411.9,950.8 412.4,950.4 412.9,951.1 413.4,951.3 413.9,951.5 414.4,951.5 414.9,950.3 415.4,951.2 415.9,951.8 416.4,950.5 416.9,951.1 417.4,950.4 417.9,951.0 418.4,952.2 418.9,951.0 419.4,950.1 419.9,951.1 420.4,951.0 420.9,951.7 421.4,949.8 421.9,950.1 422.4,950.8 422.9,949.6 423.4,951.7 423.9,949.2 424.4,950.2 424.9,949.7 425.4,950.3 425.9,951.4 426.4,951.3 426.9,951.5 427.4,951.3 427.9,949.2 428.4,951.0 428.9,949.3 429.4,950.3 429.9,950.4 430.4,950.2 430.9,951.0 431.4,949.9 431.9,951.7 432.4,950.7 432.9,951.0 433.4,950.4 433.9,950.1 434.4,949.0 434.9,950.1 435.4,947.2 435.9,947.8 436.4,947.0 436.9,946.5 437.4,946.7 437.9,945.9 438.4,947.4 438.9,947.7 439.4,947.6 439.9,948.6 440.4,947.8 440.9,947.6 441.4,949.0 441.9,949.6 442.4,952.0 442.9,950.1 443.4,951.2 443.9,951.2 444.4,952.3 444.9,950.7 445.4,951.2 445.9,950.6 446.4,950.1 446.9,950.0 447.4,950.2 447.9,951.9 448.4,951.1 448.9,950.7 449.4,950.9 449.9,950.4 450.4,950.8 450.9,950.8 451.4,951.4 451.9,951.6 452.4,949.6 452.9,951.1 453.4,952.0 453.9,950.1 454.4,950.7 454.9,951.0 455.4,951.8 455.9,951.4 456.4,950.8 456.9,951.3 457.4,951.7 457.9,951.2 458.4,952.4 458.9,951.3 459.4,950.1 459.9,950.3 460.4,950.8 460.9,950.8 461.4,951.4 461.9,951.2 462.4,952.3 462.9,951.6 463.4,952.1 463.9,950.4 464.4,950.6 464.9,951.5 465.4,951.0 465.9,951.5 466.4,951.2 466.9,950.5 467.4,952.3 467.9,951.9 468.4,949.8 468.9,950.5 469.4,951.0 469.9,951.5 470.4,950.9 470.9,949.9 471.4,951.6 471.9,950.8 472.4,951.9 472.9,951.2 473.4,951.8 473.9,951.6 474.4,951.7 474.9,950.6 475.4,951.8 475.9,951.1 476.4,950.0 476.9,950.7 477.4,950.7 477.9,951.4 478.4,951.5 478.9,950.1 479.4,951.6 479.9,950.9 480.4,950.2 480.9,951.6 481.4,950.4 481.9,950.1 482.4,951.6 482.9,951.7 483.4,950.5 483.9,951.8 484.4,951.8 484.9,950.6 485.4,952.5 485.9,951.0 486.4,951.2 486.9,949.2 487.4,951.5 487.9,950.5 488.4,951.3 488.9,949.7 489.4,951.9 489.9,952.1 490.4,952.5 490.9,948.7 491.4,951.5 491.9,951.3 492.4,948.7 492.9,950.4 493.4,950.9 493.9,952.1 494.4,950.4 494.9,951.2 495.4,951.0 495.9,951.3 496.4,950.7 496.9,951.7 497.4,951.8 497.9,950.0 498.4,951.9 498.9,950.4 499.4,950.8 499.9,951.9 500.4,951.1 500.9,951.5 501.4,951.6 501.9,951.5 502.4,950.6 502.9,950.3 503.4,951.5 503.9,951.6 504.4,951.3 504.9,950.9 505.4,951.7 505.9,951.0 506.4,950.0 506.9,951.2 507.4,951.4 507.9,951.6 508.4,950.3 508.9,950.4 509.4,951.3 509.9,950.7 510.4,951.0 510.9,951.7 511.4,951.3 511.9,952.4 512.4,951.2 512.9,952.3 513.4,951.8 513.9,953.0 514.4,951.0 514.9,951.0 515.4,952.0 515.9,950.6 516.4,950.7 516.9,951.2 517.4,951.3 517.9,950.0 518.4,951.2 518.9,950.8 519.4,951.0 519.9,951.2 520.4,950.9 520.9,951.8 521.4,951.4 521.9,950.9 522.4,951.1 522.9,951.8 523.4,951.6 523.9,952.0 524.4,950.9 524.9,951.1 525.4,952.6 525.9,951.0 526.4,952.3 526.9,951.7 527.4,950.7 527.9,950.0 528.4,951.5 528.9,950.5 529.4,950.5 529.9,949.7 530.4,951.9 530.9,951.1 531.4,951.0 531.9,951.3 532.4,951.2 532.9,951.1 533.4,951.4 533.9,950.8 534.4,949.0 534.9,951.5 535.4,951.3 535.9,951.0 536.4,952.2 536.9,949.9 537.4,948.8 537.9,952.1 538.4,951.3 538.9,949.7 539.4,950.6 539.9,951.4 540.4,950.0 540.9,951.4 541.4,952.5 541.9,952.0 542.4,950.9 542.9,951.2 543.4,950.2 543.9,951.0 544.4,950.6 544.9,950.1 545.4,949.9 545.9,952.3 546.4,950.9 546.9,950.1 547.4,950.5 547.9,952.0 548.4,952.1 548.9,950.4 549.4,951.0 549.9,951.5 550.4,950.5 550.9,949.9 551.4,950.0 551.9,950.8 552.4,950.2 552.9,949.7 553.4,950.5 553.9,951.4 554.4,951.2 554.9,950.5 555.4,952.1 555.9,950.0 556.4,950.5 556.9,949.5 557.4,951.1 557.9,950.4 558.4,949.2 558.9,949.8 559.4,951.8 559.9,951.0 560.4,950.5 560.9,951.0 561.4,949.1 561.9,949.6 562.4,949.2 562.9,949.6 563.4,949.8 563.9,950.5 564.4,950.8 564.9,950.7 565.4,951.9 565.9,949.5 566.4,949.7 566.9,950.1 567.4,949.0 567.9,949.3 568.4,949.7 568.9,948.6 569.4,949.5 569.9,949.9 570.4,948.0 570.9,947.0 571.4,948.6 571.9,947.5 572.4,948.2 572.9,947.5 573.4,947.7 573.9,948.0 574.4,947.4 574.9,946.1 575.4,945.0 575.9,943.4 576.4,942.8 576.9,942.9 577.4,942.3 577.9,940.0 578.4,937.7 578.9,933.7 579.4,929.2 579.9,923.2 580.4,917.2 580.9,905.3 581.4,895.3 581.9,880.0 582.4,865.5 582.9,849.1 583.4,834.2 583.9,822.2 584.4,813.2 584.9,811.2 585.4,815.4 585.9,823.8 586.4,837.3 586.9,851.4 587.4,867.0 587.9,882.3 588.4,895.2 588.9,908.0 589.4,915.4 589.9,924.6 590.4,930.7 590.9,934.1 591.4,937.4 591.9,941.0 592.4,941.9 592.9,942.0 593.4,943.4 593.9,945.9 594.4,945.2 594.9,947.3 595.4,947.8 595.9,947.0 596.4,947.9 596.9,947.2 597.4,947.7 597.9,947.8 598.4,948.9 598.9,947.7 599.4,948.7 599.9,949.0 600.4,949.5 600.9,947.7 601.4,948.0 601.9,948.8 602.4,949.4 602.9,949.8 603.4,949.9 603.9,951.3 604.4,950.4 604.9,950.4 605.4,949.6 605.9,950.6 606.4,950.6 606.9,950.7 607.4,950.1 607.9,950.7 608.4,951.4 608.9,949.7 609.4,948.8 609.9,951.0 610.4,951.0 610.9,950.3 611.4,950.2 611.9,952.6 612.4,950.2 612.9,949.7 613.4,950.2 613.9,951.0 614.4,950.2 614.9,950.4 615.4,950.9 615.9,950.4 616.4,950.8 616.9,950.7 617.4,949.9 617.9,950.8 618.4,949.9 618.9,951.5 619.4,950.1 619.9,950.6 620.4,949.5 620.9,950.5 621.4,949.9 621.9,952.0 622.4,950.8 622.9,951.3 623.4,949.6 623.9,950.0 624.4,950.8 624.9,949.9 625.4,951.8 625.9,950.6 626.4,951.0 626.9,951.2 627.4,950.8 627.9,951.5 628.4,950.5 628.9,951.2 629.4,951.9 629.9,951.1 630.4,951.1 630.9,950.7 631.4,951.0 631.9,951.5 632.4,950.8 632.9,949.8 633.4,951.1 633.9,950.9 634.4,951.4 634.9,951.1 635.4,952.2 635.9,950.2 636.4,950.3 636.9,951.5 637.4,950.3 637.9,951.3 638.4,951.1 638.9,949.6 639.4,951.6 639.9,952.1 640.4,951.2 640.9,950.1 641.4,951.7 641.9,950.3 642.4,951.0 642.9,951.4 643.4,950.5 643.9,949.9 644.4,951.0 644.9,951.1 645.4,950.5 645.9,950.5 646.4,951.7 646.9,951.1 647.4,950.8 647.9,950.7 648.4,951.2 648.9,951.2 649.4,951.0 649.9,950.1 650.4,950.9 650.9,950.7 651.4,951.2 651.9,952.0 652.4,951.8 652.9,951.6 653.4,951.2 653.9,950.9 654.4,951.4 654.9,950.8 655.4,950.9 655.9,950.5 656.4,951.1 656.9,951.1 657.4,952.5 657.9,951.6 658.4,950.9 658.9,951.7 659.4,950.8 659.9,951.9 660.4,951.7 660.9,953.3 661.4,950.4 661.9,951.1 662.4,951.1 662.9,951.4 663.4,951.7 663.9,950.5 664.4,950.7 664.9,951.4 665.4,951.9 665.9,950.4 666.4,950.1 666.9,952.0 667.4,951.8 667.9,952.0 668.4,950.5 668.9,951.1 669.4,951.4 669.9,951.5 670.4,951.1 670.9,951.2 671.4,951.9 671.9,950.9 672.4,950.8 672.9,950.9 673.4,950.8 673.9,951.3 674.4,951.1 674.9,950.9 675.4,952.2 675.9,951.4 676.4,951.0 676.9,952.1 677.4,950.8 677.9,951.2 678.4,951.2 678.9,950.8 679.4,950.9 679.9,951.3 680.4,950.2 680.9,950.9 681.4,951.4 681.9,951.4 682.4,951.4 682.9,952.9 683.4,951.7 683.9,951.1 684.4,951.1 684.9,951.2 685.4,951.5 685.9,951.0 686.4,952.3 686.9,950.5 687.4,951.7 687.9,951.6 688.4,950.4 688.9,951.7 689.4,951.6 689.9,950.8 690.4,952.8 690.9,951.7 691.4,951.0 691.9,950.9 692.4,950.7 692.9,951.4 693.4,951.3 693.9,950.2 694.4,950.5 694.9,950.7 695.4,950.9 695.9,951.0 696.4,950.7 696.9,951.6 697.4,951.9 697.9,951.2 698.4,949.7 698.9,951.1 699.4,951.6 699.9,951.1 700.4,951.3 700.9,951.2 701.4,950.1 701.9,949.3 702.4,951.5 702.9,950.6 703.4,951.2 703.9,950.6 704.4,950.6 704.9,951.5 705.4,949.6 705.9,950.2 706.4,949.2 706.9,949.8 707.4,949.8 707.9,949.8 708.4,949.4 708.9,948.3 709.4,949.5 709.9,950.1 710.4,950.3 710.9,951.3 711.4,950.4 711.9,949.5 712.4,950.1 712.9,950.6 713.4,951.4 713.9,950.0 714.4,951.5 714.9,951.4 715.4,950.4 715.9,951.5 716.4,950.6 716.9,951.1 717.4,950.9 717.9,951.3 718.4,950.3 718.9,951.5 719.4,949.6 719.9,950.9 720.4,950.8 720.9,952.2 721.4,951.5 721.9,950.8 722.4,950.5 722.9,951.2 723.4,950.7 723.9,952.7 724.4,949.2 724.9,951.2 725.4,949.4 725.9,951.8 726.4,950.5 726.9,952.2 727.4,950.7 727.9,951.8 728.4,951.2 728.9,951.8 729.4,951.0 729.9,948.9 730.4,950.5 730.9,949.9 731.4,951.6 731.9,951.2 732.4,950.8 732.9,951.1 733.4,950.9 733.9,950.3 734.4,952.0 734.9,950.7 735.4,950.4 735.9,949.4 736.4,949.8 736.9,950.1 737.4,949.7 737.9,949.2 738.4,949.1 738.9,947.7 739.4,947.7 739.9,945.6 740.4,944.7 740.9,943.2 741.4,942.3 741.9,939.9 742.4,937.3 742.9,934.3 743.4,932.9 743.9,932.5 744.4,932.2 744.9,930.6 745.4,932.2 745.9,933.9 746.4,935.9 746.9,937.7 747.4,940.2 747.9,940.8 748.4,944.7 748.9,944.4 749.4,946.6 749.9,947.9 750.4,949.2 750.9,949.6 751.4,950.1 751.9,950.7 752.4,950.0 752.9,950.8 753.4,951.5 753.9,950.0 754.4,949.6 754.9,950.0 755.4,951.7 755.9,951.7 756.4,950.6 756.9,951.1 757.4,951.3 757.9,951.7 758.4,949.7 758.9,950.6 759.4,950.9 759.9,951.3 760.4,951.2 760.9,950.9 761.4,951.3 761.9,949.4 762.4,953.3 762.9,951.7 763.4,951.8 763.9,950.8 764.4,951.5 764.9,952.6 765.4,952.5 765.9,951.3 766.4,950.4 766.9,951.4 767.4,951.1 767.9,951.9 768.4,950.4 768.9,951.2 769.4,951.5 769.9,951.0 770.4,952.0 770.9,950.5 771.4,950.5 771.9,951.1 772.4,951.9 772.9,951.1 773.4,950.9 773.9,951.9 774.4,951.5 774.9,951.0 775.4,951.4 775.9,951.2 776.4,951.8 776.9,951.5 777.4,950.8 777.9,951.0 778.4,951.1 778.9,951.6 779.4,951.6 779.9,950.8 780.4,951.2 780.9,951.6 781.4,952.1 781.9,951.6 782.4,952.7 782.9,951.4 783.4,951.9 783.9,951.2 784.4,950.7 784.9,951.5 785.4,951.7 785.9,951.6 786.4,951.5 786.9,951.2 787.4,950.8 787.9,951.2 788.4,951.7 788.9,952.1 789.4,949.2 789.9,951.8 790.4,952.2 790.9,952.3 791.4,951.7 791.9,951.9 792.4,951.1 792.9,951.4 793.4,951.8 793.9,950.7 794.4,950.9 794.9,951.6 795.4,950.5 795.9,951.5 796.4,950.4 796.9,951.6 797.4,951.5 797.9,951.0 798.4,950.8 798.9,951.1 799.4,949.9 799.9,951.2 800.4,951.5 800.9,952.3 801.4,951.1 801.9,951.3 802.4,952.4 802.9,952.6 803.4,951.1 803.9,952.2 804.4,952.2 804.9,951.8 805.4,950.8 805.9,950.8 806.4,951.8 806.9,953.0 807.4,951.3 807.9,952.5 808.4,952.7 808.9,950.6 809.4,951.0 809.9,952.5 810.4,952.1 810.9,951.8 811.4,951.4 811.9,951.9 812.4,951.0 812.9,953.2 813.4,950.7 813.9,950.2 814.4,951.6 814.9,952.4 815.4,951.1 815.9,951.4 816.4,950.8 816.9,951.4 817.4,950.8 817.9,950.8 818.4,950.5 818.9,951.1 819.4,952.7 819.9,951.4 820.4,951.6 820.9,953.0 821.4,951.0 821.9,950.8 822.4,951.8 822.9,950.6 823.4,951.7 823.9,952.3 824.4,950.7 824.9,951.1 825.4,952.6 825.9,950.7 826.4,951.0 826.9,951.6 827.4,951.3 827.9,950.9 828.4,952.6 828.9,951.1 829.4,951.7 829.9,951.2 830.4,951.3 830.9,950.5 831.4,952.1 831.9,951.2 832.4,952.3 832.9,950.7 833.4,951.1 833.9,951.8 834.4,951.5 834.9,951.0 835.4,951.4 835.9,950.6 836.4,951.5 836.9,949.7 837.4,951.6 837.9,952.4 838.4,952.1 838.9,952.0 839.4,951.2 839.9,951.8 840.4,951.2 840.9,951.4 841.4,951.4 841.9,949.2 842.4,952.1 842.9,951.8 843.4,952.0 843.9,950.8 844.4,951.9 844.9,951.8 845.4,949.9 845.9,950.3 846.4,951.5 846.9,951.0 847.4,951.4 847.9,951.0 848.4,952.4 848.9,950.2 849.4,950.5 849.9,950.8 850.4,950.5 850.9,951.0 851.4,951.4 851.9,950.5 852.4,951.7 852.9,952.3 853.4,952.1 853.9,952.8 854.4,952.2 854.9,951.4 855.4,952.6 855.9,951.9 856.4,952.6 856.9,951.2 857.4,950.0 857.9,950.6 858.4,951.5 858.9,951.7 859.4,951.2 859.9,952.0 860.4,950.6 860.9,950.8 861.4,952.0 861.9,951.3 862.4,951.3 862.9,952.2 863.4,952.0 863.9,950.7 864.4,951.4 864.9,950.1 865.4,951.2 865.9,951.4 866.4,950.0 866.9,952.2 867.4,952.4 867.9,951.4 868.4,951.7 868.9,952.0 869.4,950.9 869.9,951.6 870.4,951.1 870.9,949.8 871.4,950.2 871.9,950.3 872.4,951.4 872.9,950.6 873.4,951.1 873.9,950.1 874.4,949.4 874.9,951.5 875.4,951.8 875.9,950.0 876.4,949.3 876.9,949.9 877.4,947.9 877.9,947.8 878.4,946.1 878.9,946.1 879.4,944.3 879.9,941.8 880.4,939.0 880.9,935.2 881.4,932.0 881.9,929.4 882.4,924.2 882.9,921.6 883.4,917.2 883.9,916.0 884.4,915.3 884.9,916.2 885.4,918.6 885.9,919.1 886.4,923.9 886.9,927.2 887.4,930.4 887.9,933.9 888.4,937.0 888.9,940.4 889.4,942.4 889.9,943.7 890.4,945.9 890.9,947.7 891.4,948.2 891.9,948.6 892.4,949.2 892.9,949.1 893.4,949.4 893.9,948.7 894.4,950.0 894.9,951.0 895.4,950.2 895.9,949.9 896.4,951.2 896.9,950.8 897.4,950.8 897.9,951.1 898.4,951.3 898.9,950.9 899.4,950.4 899.9,952.2 900.4,951.1 900.9,950.6 901.4,951.2 901.9,951.9 902.4,950.2 902.9,952.0 903.4,951.1 903.9,952.5 904.4,951.7 904.9,951.2 905.4,952.1 905.9,952.1 906.4,951.0 906.9,951.4 907.4,950.9 907.9,951.9 908.4,950.4 908.9,951.2 909.4,949.9 909.9,951.6 910.4,949.7 910.9,950.5 911.4,951.3 911.9,950.8 912.4,950.6 912.9,950.1 913.4,950.2 913.9,949.1 914.4,950.2 914.9,950.3 915.4,950.0 915.9,949.2 916.4,949.9 916.9,949.3 917.4,949.7 917.9,949.4 918.4,949.3 918.9,949.0 919.4,948.0 919.9,950.4 920.4,950.1 920.9,951.7 921.4,949.4 921.9,951.4 922.4,950.4 922.9,951.1 923.4,950.6 923.9,951.5 924.4,951.3 924.9,952.0 925.4,951.5 925.9,951.8 926.4,952.3 926.9,951.8 927.4,951.4 927.9,952.3 928.4,951.5 928.9,951.8 929.4,951.3 929.9,951.1 930.4,949.6 930.9,952.0 931.4,950.8 931.9,952.1 932.4,952.8 932.9,950.7 933.4,952.2 933.9,951.5 934.4,951.9 934.9,950.8 935.4,951.6 935.9,951.7 936.4,952.5 936.9,953.0 937.4,951.8 937.9,951.4 938.4,953.1 938.9,951.6 939.4,951.6 939.9,951.7 940.4,951.9 940.9,952.1 941.4,951.3 941.9,951.6 942.4,952.9 942.9,952.7 943.4,951.9 943.9,951.8 944.4,951.5 944.9,952.3 945.4,951.3 945.9,951.7 946.4,951.4 946.9,951.3 947.4,951.7 947.9,951.7 948.4,951.3 948.9,951.6 949.4,951.7 949.9,951.4 950.4,951.3 950.9,951.6 951.4,952.1 951.9,952.4 952.4,951.8 952.9,951.5 953.4,951.7 953.9,952.9 954.4,952.3 954.9,951.1 955.4,951.7 955.9,951.3 956.4,951.5 956.9,950.6 957.4,951.7 957.9,950.8 958.4,951.3 958.9,952.7 959.4,952.3 959.9,951.1 960.4,951.0 960.9,951.1 961.4,950.5 961.9,951.1 962.4,951.5 962.9,951.0 963.4,952.2 963.9,951.7 964.4,951.4 964.9,952.8 965.4,952.2 965.9,951.8 966.4,952.9 966.9,952.6 967.4,951.3 967.9,951.9 968.4,951.4 968.9,950.8 969.4,952.9 969.9,952.7 970.4,950.9 970.9,952.0 971.4,950.7 971.9,952.4 972.4,951.7 972.9,951.5 973.4,952.5 973.9,951.7 974.4,951.5 974.9,952.3 975.4,951.5 975.9,952.3 976.4,951.7 976.9,952.2 977.4,952.1 977.9,952.2 978.4,951.1 978.9,952.9 979.4,951.6 979.9,952.9 980.4,951.3 980.9,951.5 981.4,951.5 981.9,952.5 982.4,951.4 982.9,952.0 983.4,950.7 983.9,951.4 984.4,951.9 984.9,951.6 985.4,950.5 985.9,952.0 986.4,951.1 986.9,953.0 987.4,951.6 987.9,953.2 988.4,952.1 988.9,952.0 989.4,951.4 989.9,951.6 990.4,952.0 990.9,950.4 991.4,952.3 991.9,950.9 992.4,951.5 992.9,949.9 993.4,952.0 993.9,952.1 994.4,951.8 994.9,951.9 995.4,951.4 995.9,951.7 996.4,952.4 996.9,951.3 997.4,951.9 997.9,952.1 998.4,951.4 998.9,951.7 999.4,951.7 999.9,951.2 1000.4,953.1 1000.9,951.2 1001.4,952.5 1001.9,952.1 1002.4,950.0 1002.9,951.4 1003.4,951.8 1003.9,951.5 1004.4,950.2 1004.9,950.7 1005.4,949.4 1005.9,949.1 1006.4,949.0 1006.9,948.7 1007.4,948.9 1007.9,947.4 1008.4,947.1 1008.9,945.0 1009.4,944.7 1009.9,944.9 1010.4,946.4 1010.9,944.7 1011.4,944.8 1011.9,946.2 1012.4,947.5 1012.9,946.3 1013.4,947.8 1013.9,947.7 1014.4,950.0 1014.9,950.0 1015.4,950.2 1015.9,950.3 1016.4,950.5 1016.9,951.0 1017.4,950.6 1017.9,950.6 1018.4,950.5 1018.9,951.3 1019.4,950.8 1019.9,952.0 1020.4,950.0 1020.9,951.8 1021.4,951.8 1021.9,952.2 1022.4,951.3 1022.9,950.5 1023.4,950.9 1023.9,952.2 1024.4,951.3 1024.9,951.2 1025.4,951.0 1025.9,951.4 1026.4,951.2 1026.9,950.3 1027.4,950.9 1027.9,951.9 1028.4,952.2 1028.9,951.1 1029.4,950.8 1029.9,951.9 1030.4,950.9 1030.9,950.2 1031.4,950.8 1031.9,951.2 1032.4,951.7 1032.9,950.2 1033.4,950.8 1033.9,950.1 1034.4,951.0 1034.9,950.3 1035.4,950.2 1035.9,949.2 1036.4,949.6 1036.9,949.4 1037.4,947.2 1037.9,950.0 1038.4,949.4 1038.9,949.2 1039.4,949.1 1039.9,949.3 1040.4,949.5 1040.9,948.5 1041.4,949.5 1041.9,949.5 1042.4,949.6 1042.9,948.7 1043.4,949.6 1043.9,949.0 1044.4,950.2 1044.9,950.9 1045.4,950.8 1045.9,950.1 1046.4,950.1 1046.9,950.2 1047.4,950.9 1047.9,950.3 1048.4,950.5 1048.9,949.3 1049.4,950.5 1049.9,950.6 1050.4,950.8 1050.9,952.0 1051.4,950.4 1051.9,950.5 1052.4,951.8 1052.9,950.8 1053.4,951.4 1053.9,951.6 1054.4,951.6 1054.9,951.1 1055.4,952.2 1055.9,952.6 1056.4,951.0 1056.9,951.5 1057.4,952.3 1057.9,951.5 1058.4,951.0 1058.9,951.4 1059.4,952.2 1059.9,951.1 1060.4,951.9 1060.9,952.0 1061.4,951.3 1061.9,952.1 1062.4,952.2 1062.9,952.4 1063.4,952.3 1063.9,950.8 1064.4,952.3 1064.9,952.1 1065.4,952.4 1065.9,951.2 1066.4,952.3 1066.9,952.0 1067.4,951.0 1067.9,952.6 1068.4,951.3 1068.9,951.1 1069.4,952.0 1069.9,951.4 1070.4,952.0 1070.9,951.6 1071.4,952.0 1071.9,952.3 1072.4,951.8 1072.9,952.3 1073.4,952.3 1073.9,951.3 1074.4,952.3 1074.9,952.2 1075.4,951.9 1075.9,952.5 1076.4,952.9 1076.9,952.3 1077.4,950.9 1077.9,952.1 1078.4,951.7 1078.9,951.6 1079.4,952.0 1079.9,951.6 1080.4,952.8 1080.9,952.0 1081.4,951.8 1081.9,952.3 1082.4,952.3 1082.9,952.5 1083.4,952.2 1083.9,951.8 1084.4,951.9 1084.9,950.4 1085.4,950.9 1085.9,952.5 1086.4,951.6 1086.9,952.9 1087.4,952.9 1087.9,951.0 1088.4,952.0 1088.9,953.6 1089.4,951.3 1089.9,952.0 1090.4,951.6 1090.9,951.6 1091.4,951.6 1091.9,951.8 1092.4,952.2 1092.9,951.3 1093.4,952.1 1093.9,951.3 1094.4,952.1 1094.9,951.9 1095.4,951.2 1095.9,951.8 1096.4,951.3 1096.9,951.2 1097.4,952.5 1097.9,950.6 1098.4,952.1 1098.9,952.1 1099.4,951.3 1099.9,952.4 1100.4,952.2 1100.9,950.8 1101.4,952.0 1101.9,951.9 1102.4,951.2 1102.9,952.0 1103.4,952.1 1103.9,951.1 1104.4,950.3 1104.9,951.8 1105.4,951.1 1105.9,950.4 1106.4,951.2 1106.9,950.0 1107.4,951.2 1107.9,952.3 1108.4,949.6 1108.9,951.6 1109.4,950.7 1109.9,951.0 1110.4,950.6 1110.9,951.6 1111.4,951.1 1111.9,950.6 1112.4,950.1 1112.9,950.6 1113.4,951.5 1113.9,949.9 1114.4,950.9 1114.9,950.7 1115.4,949.1 1115.9,950.8 1116.4,949.9 1116.9,951.0 1117.4,950.4 1117.9,948.6 1118.4,948.0 1118.9,946.6 1119.4,945.1 1119.9,944.8 1120.4,942.0 1120.9,939.1 1121.4,935.9 1121.9,932.5 1122.4,928.2 1122.9,923.1 1123.4,918.5 1123.9,915.0 1124.4,913.7 1124.9,910.1 1125.4,911.1 1125.9,913.5 1126.4,915.2 1126.9,918.2 1127.4,920.9 1127.9,924.3 1128.4,925.8 1128.9,930.3 1129.4,933.2 1129.9,937.2 1130.4,939.6 1130.9,942.5 1131.4,943.5 1131.9,945.7 1132.4,946.6 1132.9,947.7 1133.4,948.3 1133.9,948.5 1134.4,950.3 1134.9,950.1 1135.4,950.9 1135.9,949.7 1136.4,949.3 1136.9,950.2 1137.4,950.7 1137.9,951.4 1138.4,951.6 1138.9,951.8 1139.4,952.1 1139.9,951.6 1140.4,951.3 1140.9,950.8 1141.4,951.8 1141.9,951.0 1142.4,950.9 1142.9,951.8 1143.4,951.6 1143.9,952.0 1144.4,951.1 1144.9,952.3 1145.4,951.8 1145.9,951.5 1146.4,951.1 1146.9,951.0 1147.4,950.8 1147.9,952.6 1148.4,950.8 1148.9,952.1 1149.4,951.6 1149.9,951.4 1150.4,951.5 1150.9,951.7 1151.4,952.3 1151.9,952.1 1152.4,951.8 1152.9,950.9 1153.4,950.7 1153.9,953.0 1154.4,951.2 1154.9,950.8 1155.4,952.5 1155.9,950.9 1156.4,952.3 1156.9,952.4 1157.4,952.0 1157.9,952.5 1158.4,951.0 1158.9,951.1 1159.4,951.8 1159.9,951.9 1160.4,951.8 1160.9,952.2 1161.4,951.4 1161.9,950.6 1162.4,952.2 1162.9,951.8 1163.4,952.4 1163.9,953.2 1164.4,952.0 1164.9,952.3 1165.4,951.4 1165.9,952.5 1166.4,952.2 1166.9,952.1 1167.4,952.5 1167.9,951.2 1168.4,952.3 1168.9,952.2 1169.4,953.0 1169.9,950.8 1170.4,951.9 1170.9,953.3 1171.4,951.7 1171.9,951.7 1172.4,953.1 1172.9,953.6 1173.4,952.1 1173.9,951.5 1174.4,951.6 1174.9,951.7 1175.4,951.5 1175.9,951.5 1176.4,952.1 1176.9,952.0 1177.4,952.3 1177.9,952.0 1178.4,951.3 1178.9,952.5 1179.4,952.2 1179.9,951.6 1180.4,951.8 1180.9,952.2 1181.4,952.1 1181.9,951.9 1182.4,952.5 1182.9,952.7 1183.4,951.8 1183.9,952.0 1184.4,951.3 1184.9,951.9 1185.4,952.3 1185.9,952.6 1186.4,952.1 1186.9,952.0 1187.4,951.6 1187.9,952.2 1188.4,951.4 1188.9,952.1 1189.4,952.1 1189.9,951.5 1190.4,952.2 1190.9,951.9 1191.4,952.4 1191.9,951.7 1192.4,952.3 1192.9,953.0 1193.4,952.2 1193.9,952.5 1194.4,951.7 1194.9,951.8 1195.4,950.9 1195.9,952.0 1196.4,951.4 1196.9,952.1 1197.4,950.8 1197.9,951.5 1198.4,952.1 1198.9,952.3 1199.4,951.0 1199.9,951.8 1200.4,953.7 1200.9,952.6 1201.4,952.2 1201.9,950.4 1202.4,951.5 1202.9,952.4 1203.4,952.2 1203.9,952.4 1204.4,952.7 1204.9,952.1 1205.4,952.6 1205.9,951.0 1206.4,953.6 1206.9,951.9 1207.4,951.7 1207.9,953.0 1208.4,952.5 1208.9,952.7 1209.4,951.7 1209.9,952.3 1210.4,952.5 1210.9,951.4 1211.4,952.0 1211.9,951.9 1212.4,951.9 1212.9,951.7 1213.4,951.3 1213.9,952.4 1214.4,952.2 1214.9,952.8 1215.4,952.1 1215.9,951.7 1216.4,951.2 1216.9,952.1 1217.4,951.9 1217.9,953.3 1218.4,953.5 1218.9,953.1 1219.4,951.5 1219.9,951.2 1220.4,952.0 1220.9,951.6 1221.4,953.0 1221.9,952.2 1222.4,951.9 1222.9,952.1 1223.4,952.9 1223.9,951.5 1224.4,952.4 1224.9,951.3 1225.4,952.0 1225.9,951.7 1226.4,952.3 1226.9,952.2 1227.4,952.8 1227.9,952.5 1228.4,951.7 1228.9,951.3 1229.4,951.6 1229.9,951.9 1230.4,952.0 1230.9,951.7 1231.4,952.8 1231.9,952.7 1232.4,952.0 1232.9,951.8 1233.4,952.0 1233.9,952.1 1234.4,952.1 1234.9,951.1 1235.4,951.9 1235.9,951.0 1236.4,952.1 1236.9,952.5 1237.4,951.5 1237.9,952.2 1238.4,951.8 1238.9,951.7 1239.4,953.3 1239.9,952.7 1240.4,952.4 1240.9,951.9 1241.4,952.4 1241.9,952.0 1242.4,952.4 1242.9,951.6 1243.4,952.1 1243.9,951.9 1244.4,951.3 1244.9,953.2 1245.4,952.6 1245.9,951.7 1246.4,951.2 1246.9,951.7 1247.4,951.6 1247.9,951.8 1248.4,951.2 1248.9,951.6 1249.4,952.2 1249.9,952.4 1250.4,950.9 1250.9,952.1 1251.4,951.5 1251.9,951.5 1252.4,952.0 1252.9,951.7 1253.4,952.6 1253.9,952.6 1254.4,952.0 1254.9,951.8 1255.4,953.2 1255.9,953.3 1256.4,952.4 1256.9,952.1 1257.4,952.8 1257.9,953.0 1258.4,951.8 1258.9,953.3 1259.4,952.1 1259.9,952.8 1260.4,951.8 1260.9,952.2 1261.4,951.9 1261.9,952.2 1262.4,952.8 1262.9,951.6 1263.4,952.0 1263.9,952.5 1264.4,951.9 1264.9,953.4 1265.4,951.3 1265.9,953.7 1266.4,951.8 1266.9,952.8 1267.4,953.1 1267.9,952.5 1268.4,951.3 1268.9,952.0 1269.4,952.2 1269.9,952.5 1270.4,952.8 1270.9,952.9 1271.4,953.1 1271.9,951.6 1272.4,952.8 1272.9,951.1 1273.4,952.3 1273.9,951.5 1274.4,951.1 1274.9,952.7 1275.4,952.1 1275.9,952.8 1276.4,951.2 1276.9,951.4 1277.4,952.1 1277.9,951.8 1278.4,952.2 1278.9,951.8 1279.4,952.0 1279.9,951.5 1280.4,953.0 1280.9,952.0 1281.4,951.4 1281.9,952.6 1282.4,952.5 1282.9,952.3 1283.4,952.3 1283.9,951.9 1284.4,952.1 1284.9,950.8 1285.4,951.2 1285.9,951.4 1286.4,952.3 1286.9,952.9 1287.4,952.1 1287.9,952.0 1288.4,952.9 1288.9,951.9 1289.4,952.6 1289.9,952.4 1290.4,951.4 1290.9,952.4 1291.4,952.3 1291.9,951.5 1292.4,951.5 1292.9,951.4 1293.4,953.0 1293.9,953.5 1294.4,952.6 1294.9,953.1 1295.4,951.3 1295.9,953.0 1296.4,953.4 1296.9,953.1 1297.4,951.6 1297.9,952.8 1298.4,952.1 1298.9,952.8 1299.4,951.8 1299.9,952.2 1300.4,951.8 1300.9,952.4 1301.4,952.1 1301.9,952.8 1302.4,952.6 1302.9,952.4 1303.4,952.1 1303.9,952.0 1304.4,952.1 1304.9,952.6 1305.4,952.2 1305.9,952.3 1306.4,952.1 1306.9,952.1 1307.4,951.7 1307.9,951.0 1308.4,952.5 1308.9,952.5 1309.4,951.5 1309.9,953.3 1310.4,951.4 1310.9,952.7 1311.4,952.2 1311.9,952.3 1312.4,952.8 1312.9,952.6 1313.4,952.1 1313.9,951.4 1314.4,951.3 1314.9,952.2 1315.4,953.0 1315.9,952.6 1316.4,952.0 1316.9,952.2 1317.4,952.4 1317.9,953.0 1318.4,951.5 1318.9,952.4 1319.4,952.1 1319.9,951.5 1320.4,951.3 1320.9,952.7 1321.4,952.1 1321.9,951.7 1322.4,951.9 1322.9,952.4 1323.4,951.9 1323.9,952.7 1324.4,951.6 1324.9,951.2 1325.4,951.6 1325.9,951.0 1326.4,951.3 1326.9,952.2 1327.4,952.4 1327.9,951.7 1328.4,951.3 1328.9,950.5 1329.4,950.2 1329.9,950.9 1330.4,950.5 1330.9,949.7 1331.4,949.4 1331.9,950.1 1332.4,949.2 1332.9,948.0 1333.4,947.4 1333.9,947.3 1334.4,945.8 1334.9,944.8 1335.4,942.7 1335.9,941.7 1336.4,940.5 1336.9,939.4 1337.4,939.9 1337.9,939.4 1338.4,938.3 1338.9,938.9 1339.4,939.0 1339.9,939.0 1340.4,938.7 1340.9,941.3 1341.4,942.1 1341.9,941.9 1342.4,944.5 1342.9,944.3 1343.4,944.8 1343.9,945.9 1344.4,945.9 1344.9,947.5 1345.4,947.4 1345.9,949.7 1346.4,949.7 1346.9,949.1 1347.4,950.6 1347.9,949.5 1348.4,950.9 1348.9,951.3 1349.4,951.2 1349.9,950.6 1350.4,951.3 1350.9,951.4 1351.4,951.6 1351.9,952.5 1352.4,952.7 1352.9,952.7 1353.4,951.4 1353.9,951.3 1354.4,951.8 1354.9,952.1 1355.4,950.6 1355.9,951.5 1356.4,953.0 1356.9,951.2 1357.4,951.5 1357.9,951.6 1358.4,952.3 1358.9,952.0 1359.4,951.8 1359.9,951.1 1360.4,952.4 1360.9,952.1 1361.4,951.7 1361.9,952.1 1362.4,952.6 1362.9,951.2 1363.4,951.2 1363.9,951.5 1364.4,951.6 1364.9,950.3 1365.4,951.8 1365.9,952.8 1366.4,952.0 1366.9,952.8 1367.4,950.5 1367.9,952.1 1368.4,953.0 1368.9,953.1 1369.4,951.9 1369.9,951.7 1370.4,952.4 1370.9,951.5 1371.4,952.0 1371.9,951.2 1372.4,952.3 1372.9,952.2 1373.4,953.2 1373.9,952.5 1374.4,951.8 1374.9,952.2 1375.4,951.5 1375.9,952.3 1376.4,952.1 1376.9,952.5 1377.4,952.8 1377.9,951.1 1378.4,952.5 1378.9,952.7 1379.4,951.6 1379.9,953.4 1380.4,951.8 1380.9,953.7 1381.4,952.7 1381.9,952.9 1382.4,952.4 1382.9,952.9 1383.4,951.7 1383.9,951.8 1384.4,951.1 1384.9,952.6 1385.4,951.9 1385.9,952.7 1386.4,952.7 1386.9,951.5 1387.4,952.7 1387.9,952.5 1388.4,952.4 1388.9,952.6 1389.4,952.3 1389.9,952.3 1390.4,952.9 1390.9,951.7 1391.4,951.6 1391.9,951.9 1392.4,952.9 1392.9,952.1 1393.4,953.5 1393.9,950.5 1394.4,951.9 1394.9,952.1 1395.4,952.5 1395.9,953.1 1396.4,952.2 1396.9,951.7 1397.4,952.8 1397.9,953.2 1398.4,950.8 1398.9,952.7 1399.4,952.5 1399.9,951.8 1400.4,952.0 1400.9,952.5 1401.4,952.3 1401.9,952.2 1402.4,951.6 1402.9,952.5 1403.4,951.9 1403.9,952.4 1404.4,952.0 1404.9,952.4 1405.4,952.8 1405.9,952.5 1406.4,952.7 1406.9,951.5 1407.4,952.6 1407.9,952.5 1408.4,952.0 1408.9,952.2 1409.4,950.7 1409.9,952.4 1410.4,952.1 1410.9,951.0 1411.4,952.6 1411.9,951.9 1412.4,952.5 1412.9,952.2 1413.4,952.6 1413.9,952.4 1414.4,952.2 1414.9,952.6 1415.4,952.8 1415.9,951.0 1416.4,952.3 1416.9,952.0 1417.4,951.7 1417.9,953.1 1418.4,952.9 1418.9,951.7 1419.4,951.6 1419.9,952.8 1420.4,951.9 1420.9,952.1 1421.4,951.1 1421.9,952.2 1422.4,952.9 1422.9,952.0 1423.4,952.2 1423.9,953.3 1424.4,952.8 1424.9,953.1 1425.4,952.6 1425.9,952.9 1426.4,951.2 1426.9,951.7 1427.4,951.2 1427.9,953.4 1428.4,952.2 1428.9,951.9 1429.4,951.5 1429.9,951.3 1430.4,950.2 1430.9,953.1 1431.4,951.7 1431.9,951.7 1432.4,950.7 1432.9,951.4 1433.4,951.5 1433.9,951.1 1434.4,951.4 1434.9,950.4 1435.4,951.0 1435.9,951.2 1436.4,950.8 1436.9,950.6 1437.4,950.2 1437.9,949.6 1438.4,950.4 1438.9,949.8 1439.4,949.4 1439.9,950.4 1440.4,949.0 1440.9,949.6 1441.4,950.5 1441.9,950.7 1442.4,950.0 1442.9,950.4 1443.4,950.8 1443.9,950.6 1444.4,950.3 1444.9,951.1 1445.4,951.1 1445.9,951.2 1446.4,951.9 1446.9,951.6 1447.4,951.2 1447.9,951.7 1448.4,952.8 1448.9,951.4 1449.4,951.7 1449.9,951.5 1450.4,952.2 1450.9,951.3 1451.4,952.3 1451.9,952.6 1452.4,951.7 1452.9,951.7 1453.4,951.3 1453.9,952.3 1454.4,951.6 1454.9,951.9 1455.4,952.0 1455.9,951.9 1456.4,952.8 1456.9,953.2 1457.4,951.1 1457.9,951.9 1458.4,952.5 1458.9,951.7 1459.4,952.0 1459.9,952.5 1460.4,953.2 1460.9,953.0 1461.4,952.2 1461.9,952.4 1462.4,952.2 1462.9,952.3 1463.4,951.7 1463.9,951.4 1464.4,952.2 1464.9,953.0 1465.4,952.8 1465.9,951.3 1466.4,952.3 1466.9,952.0 1467.4,952.6 1467.9,951.8 1468.4,952.9 1468.9,952.3 1469.4,952.7 1469.9,952.9 1470.4,951.3 1470.9,952.3 1471.4,953.3 1471.9,952.4 1472.4,953.0 1472.9,952.7 1473.4,952.1 1473.9,952.6 1474.4,953.0 1474.9,953.2 1475.4,953.3 1475.9,951.8 1476.4,952.9 1476.9,951.6 1477.4,952.4 1477.9,952.3 1478.4,952.8 1478.9,952.6 1479.4,953.2 1479.9,952.1 1480.4,952.9 1480.9,952.7 1481.4,952.4 1481.9,951.7 1482.4,952.8 1482.9,952.6 1483.4,952.9 1483.9,952.4 1484.4,952.3 1484.9,952.7 1485.4,952.7 1485.9,952.8 1486.4,953.5 1486.9,952.1 1487.4,953.6 1487.9,950.7 1488.4,953.0 1488.9,952.0 1489.4,953.6 1489.9,951.9 1490.4,953.0 1490.9,951.9 1491.4,951.8 1491.9,952.9 1492.4,952.9 1492.9,952.0 1493.4,953.8 1493.9,952.3 1494.4,953.3 1494.9,951.9 1495.4,951.9 1495.9,952.5 1496.4,951.9 1496.9,952.7 1497.4,951.2 1497.9,952.5 1498.4,952.1 1498.9,951.9 1499.4,952.5 1499.9,952.3 1500.4,952.2 1500.9,952.9 1501.4,952.6 1501.9,952.6 1502.4,953.2 1502.9,952.4 1503.4,952.9 1503.9,952.2 1504.4,952.7 1504.9,952.7 1505.4,952.1 1505.9,951.5 1506.4,951.7 1506.9,951.8 1507.4,952.7 1507.9,952.3 1508.4,952.2 1508.9,952.6 1509.4,952.8 1509.9,953.1 1510.4,952.0 1510.9,952.7 1511.4,952.7 1511.9,951.8 1512.4,952.4 1512.9,951.8 1513.4,952.2 1513.9,952.5 1514.4,951.3 1514.9,951.8 1515.4,951.8 1515.9,952.3 1516.4,951.8 1516.9,952.4 1517.4,951.7 1517.9,951.9 1518.4,952.5 1518.9,952.4 1519.4,952.2 1519.9,952.1 1520.4,952.7 1520.9,952.9 1521.4,951.9 1521.9,951.6 1522.4,951.4 1522.9,952.9 1523.4,951.4 1523.9,951.1 1524.4,951.9 1524.9,952.3 1525.4,950.9 1525.9,951.4 1526.4,950.6 1526.9,950.8 1527.4,952.0 1527.9,950.9 1528.4,950.5 1528.9,950.4 1529.4,950.2 1529.9,949.6 1530.4,948.6 1530.9,948.1 1531.4,949.4 1531.9,947.3 1532.4,947.9 1532.9,946.2 1533.4,946.7 1533.9,945.7 1534.4,944.5 1534.9,945.1 1535.4,942.8 1535.9,942.7 1536.4,941.8 1536.9,941.5 1537.4,941.5 1537.9,941.1 1538.4,941.5 1538.9,942.7 1539.4,941.2 1539.9,941.9 1540.4,942.6 1540.9,943.5 1541.4,944.9 1541.9,945.4 1542.4,946.0 1542.9,946.5 1543.4,948.3 1543.9,946.9 1544.4,947.5 1544.9,948.6 1545.4,949.2 1545.9,949.4 1546.4,949.4 1546.9,949.5 1547.4,950.4 1547.9,950.4 1548.4,950.7 1548.9,950.6 1549.4,952.1 1549.9,951.8 1550.4,952.6 1550.9,951.4 1551.4,951.8 1551.9,951.7 1552.4,951.9 1552.9,951.8 1553.4,951.9 1553.9,951.0 1554.4,951.9 1554.9,952.5 1555.4,951.1 1555.9,952.0 1556.4,952.5 1556.9,952.9 1557.4,952.2 1557.9,952.5 1558.4,953.3 1558.9,953.0 1559.4,952.1 1559.9,952.0 1560.4,952.9 1560.9,952.5 1561.4,952.1 1561.9,952.2 1562.4,952.6 1562.9,952.3 1563.4,952.3 1563.9,952.3 1564.4,951.6 1564.9,953.4 1565.4,953.1 1565.9,953.3 1566.4,952.4 1566.9,952.5 1567.4,952.8 1567.9,952.9 1568.4,951.5 1568.9,952.7 1569.4,951.9 1569.9,952.5 1570.4,952.1 1570.9,953.4 1571.4,952.8 1571.9,952.5 1572.4,953.3 1572.9,952.5 1573.4,952.1 1573.9,952.4 1574.4,952.3 1574.9,952.6 1575.4,953.0 1575.9,952.5 1576.4,952.5 1576.9,953.1 1577.4,952.7 1577.9,953.1 1578.4,952.6 1578.9,951.8 1579.4,951.9 1579.9,951.7 1580.4,953.2 1580.9,952.8 1581.4,952.3 1581.9,952.0 1582.4,952.8 1582.9,952.5 1583.4,952.8 1583.9,952.1 1584.4,952.0 1584.9,953.5 1585.4,952.1 1585.9,952.6 1586.4,953.3 1586.9,951.6 1587.4,953.0 1587.9,952.6 1588.4,952.5 1588.9,952.8 1589.4,952.0 1589.9,951.4 1590.4,953.7 1590.9,952.5 1591.4,953.1 1591.9,953.2 1592.4,952.8 1592.9,952.9 1593.4,953.0 1593.9,953.5 1594.4,952.9 1594.9,953.3 1595.4,952.5 1595.9,952.4 1596.4,952.7 1596.9,952.9 1597.4,952.9 1597.9,953.7 1598.4,953.1 1598.9,952.7 1599.4,953.7 1599.9,952.8 1600.4,952.8 1600.9,952.9 1601.4,952.5 1601.9,952.1 1602.4,952.7 1602.9,952.5 1603.4,952.2 1603.9,952.7 1604.4,952.6 1604.9,952.3 1605.4,951.7 1605.9,952.6 1606.4,953.6 1606.9,953.1" fill="none" stroke="#FF0000" stroke-width="4.9" stroke-linejoin="round"/>
<polyline points="111.4,1089.1 111.9,1088.2 112.4,1089.1 112.9,1087.6 113.4,1087.8 113.9,1088.6 114.4,1087.0 114.9,1088.2 115.4,1088.5 115.9,1089.6 116.4,1087.6 116.9,1088.6 117.4,1087.7 117.9,1087.7 118.4,1085.9 118.9,1087.4 119.4,1089.2 119.9,1088.6 120.4,1088.3 120.9,1090.3 121.4,1088.7 121.9,1087.2 122.4,1088.0 122.9,1088.2 123.4,1089.6 123.9,1087.5 124.4,1088.6 124.9,1089.0 125.4,1087.5 125.9,1088.3 126.4,1086.5 126.9,1088.3 127.4,1086.4 127.9,1087.9 128.4,1089.7 128.9,1088.6 129.4,1088.3 129.9,1088.3 130.4,1090.0 130.9,1088.7 131.4,1089.1 131.9,1087.9 132.4,1087.9 132.9,1087.4 133.4,1088.1 133.9,1087.6 134.4,1089.1 134.9,1088.8 135.4,1088.1 135.9,1087.8 136.4,1085.8 136.9,1087.7 137.4,1088.5 137.9,1088.8 138.4,1085.7 138.9,1086.2 139.4,1088.4 139.9,1087.4 140.4,1088.1 140.9,1087.8 141.4,1088.7 141.9,1086.7 142.4,1087.8 142.9,1089.0 143.4,1088.4 143.9,1087.6 144.4,1088.6 144.9,1088.5 145.4,1087.5 145.9,1088.8 146.4,1088.8 146.9,1088.1 147.4,1089.0 147.9,1087.3 148.4,1088.9 148.9,1088.1 149.4,1087.5 149.9,1087.8 150.4,1089.2 150.9,1087.8 151.4,1088.0 151.9,1087.7 152.4,1087.6 152.9,1089.1 153.4,1090.1 153.9,1089.4 154.4,1088.7 154.9,1088.9 155.4,1088.0 155.9,1087.8 156.4,1087.3 156.9,1089.5 157.4,1088.0 157.9,1087.7 158.4,1087.7 158.9,1088.4 159.4,1087.8 159.9,1088.3 160.4,1088.4 160.9,1089.4 161.4,1087.2 161.9,1088.5 162.4,1087.7 162.9,1087.9 163.4,1089.6 163.9,1088.8 164.4,1087.9 164.9,1088.7 165.4,1088.3 165.9,1089.2 166.4,1087.9 166.9,1088.7 167.4,1088.1 167.9,1088.3 168.4,1088.1 168.9,1087.8 169.4,1088.4 169.9,1089.1 170.4,1087.8 170.9,1088.0 171.4,1088.6 171.9,1087.7 172.4,1089.0 172.9,1088.9 173.4,1086.4 173.9,1087.7 174.4,1087.4 174.9,1089.0 175.4,1089.1 175.9,1087.3 176.4,1087.7 176.9,1088.2 177.4,1088.0 177.9,1088.9 178.4,1089.1 178.9,1088.8 179.4,1089.2 179.9,1089.1 180.4,1088.2 180.9,1087.9 181.4,1087.7 181.9,1089.0 182.4,1089.0 182.9,1089.1 183.4,1088.0 183.9,1088.0 184.4,1088.5 184.9,1089.3 185.4,1088.6 185.9,1088.5 186.4,1087.6 186.9,1088.7 187.4,1088.7 187.9,1087.5 188.4,1089.7 188.9,1087.5 189.4,1089.1 189.9,1088.1 190.4,1088.4 190.9,1087.7 191.4,1087.8 191.9,1088.9 192.4,1088.2 192.9,1088.0 193.4,1089.0 193.9,1088.9 194.4,1088.4 194.9,1088.5 195.4,1089.7 195.9,1088.2 196.4,1088.6 196.9,1088.7 197.4,1087.2 197.9,1086.7 198.4,1088.4 198.9,1089.0 199.4,1088.5 199.9,1087.9 200.4,1087.8 200.9,1089.0 201.4,1088.1 201.9,1087.0 202.4,1088.9 202.9,1088.5 203.4,1088.6 203.9,1089.2 204.4,1089.4 204.9,1088.8 205.4,1088.2 205.9,1086.6 206.4,1088.6 206.9,1088.2 207.4,1089.4 207.9,1089.4 208.4,1088.7 208.9,1089.5 209.4,1088.3 209.9,1088.3 210.4,1087.6 210.9,1088.1 211.4,1088.5 211.9,1089.2 212.4,1087.7 212.9,1089.0 213.4,1090.2 213.9,1087.2 214.4,1088.1 214.9,1088.4 215.4,1089.2 215.9,1090.0 216.4,1089.3 216.9,1088.3 217.4,1087.6 217.9,1088.3 218.4,1088.3 218.9,1088.5 219.4,1087.6 219.9,1089.6 220.4,1087.8 220.9,1088.9 221.4,1088.5 221.9,1087.5 222.4,1088.4 222.9,1088.4 223.4,1088.2 223.9,1089.0 224.4,1088.0 224.9,1090.4 225.4,1089.3 225.9,1087.6 226.4,1086.3 226.9,1089.4 227.4,1088.6 227.9,1088.4 228.4,1087.6 228.9,1087.2 229.4,1086.8 229.9,1090.4 230.4,1089.7 230.9,1087.9 231.4,1089.9 231.9,1086.8 232.4,1088.9 232.9,1088.9 233.4,1087.7 233.9,1088.0 234.4,1087.5 234.9,1088.4 235.4,1089.4 235.9,1089.2 236.4,1088.7 236.9,1089.3 237.4,1086.9 237.9,1090.0 238.4,1088.3 238.9,1087.3 239.4,1088.1 239.9,1087.8 240.4,1088.4 240.9,1088.6 241.4,1086.5 241.9,1089.4 242.4,1089.8 242.9,1087.5 243.4,1089.6 243.9,1089.4 244.4,1089.2 244.9,1089.7 245.4,1087.2 245.9,1089.0 246.4,1087.5 246.9,1090.3 247.4,1087.6 247.9,1087.4 248.4,1089.3 248.9,1088.9 249.4,1088.4 249.9,1088.5 250.4,1088.9 250.9,1089.8 251.4,1087.8 251.9,1087.9 252.4,1087.9 252.9,1088.3 253.4,1088.4 253.9,1087.3 254.4,1088.6 254.9,1087.3 255.4,1088.1 255.9,1088.2 256.4,1088.2 256.9,1089.6 257.4,1089.7 257.9,1089.3 258.4,1089.7 258.9,1088.2 259.4,1089.5 259.9,1088.3 260.4,1088.6 260.9,1088.6 261.4,1087.3 261.9,1087.9 262.4,1088.3 262.9,1088.7 263.4,1088.3 263.9,1087.7 264.4,1087.4 264.9,1088.4 265.4,1087.4 265.9,1087.4 266.4,1088.3 266.9,1088.5 267.4,1087.7 267.9,1086.9 268.4,1088.6 268.9,1089.1 269.4,1088.1 269.9,1088.1 270.4,1086.5 270.9,1089.1 271.4,1087.5 271.9,1089.0 272.4,1087.9 272.9,1088.3 273.4,1088.2 273.9,1086.9 274.4,1090.6 274.9,1087.1 275.4,1088.5 275.9,1087.7 276.4,1088.2 276.9,1089.5 277.4,1086.9 277.9,1088.3 278.4,1088.8 278.9,1088.5 279.4,1088.7 279.9,1087.8 280.4,1087.1 280.9,1087.3 281.4,1088.1 281.9,1089.0 282.4,1088.5 282.9,1089.7 283.4,1088.5 283.9,1088.6 284.4,1088.6 284.9,1087.0 285.4,1088.9 285.9,1087.5 286.4,1088.1 286.9,1090.3 287.4,1087.4 287.9,1088.5 288.4,1088.7 288.9,1088.5 289.4,1088.4 289.9,1088.0 290.4,1090.0 290.9,1086.8 291.4,1087.6 291.9,1089.6 292.4,1088.9 292.9,1087.8 293.4,1087.7 293.9,1088.2 294.4,1090.6 294.9,1088.8 295.4,1087.6 295.9,1088.6 296.4,1087.9 296.9,1089.6 297.4,1088.7 297.9,1089.4 298.4,1088.6 298.9,1090.1 299.4,1088.8 299.9,1088.7 300.4,1087.6 300.9,1088.1 301.4,1088.7 301.9,1088.0 302.4,1090.4 302.9,1088.4 303.4,1087.8 303.9,1089.2 304.4,1088.0 304.9,1088.8 305.4,1088.4 305.9,1087.8 306.4,1089.6 306.9,1088.5 307.4,1089.3 307.9,1088.2 308.4,1087.3 308.9,1087.4 309.4,1088.0 309.9,1088.3 310.4,1088.5 310.9,1088.9 311.4,1087.4 311.9,1088.6 312.4,1087.5 312.9,1087.9 313.4,1090.5 313.9,1089.5 314.4,1088.1 314.9,1089.9 315.4,1089.6 315.9,1089.2 316.4,1089.6 316.9,1088.2 317.4,1088.3 317.9,1087.7 318.4,1088.9 318.9,1087.4 319.4,1088.0 319.9,1088.8 320.4,1088.0 320.9,1088.7 321.4,1089.9 321.9,1087.6 322.4,1089.6 322.9,1087.9 323.4,1087.7 323.9,1088.6 324.4,1089.3 324.9,1087.9 325.4,1087.9 325.9,1088.1 326.4,1087.9 326.9,1088.6 327.4,1087.9 327.9,1088.2 328.4,1088.7 328.9,1088.1 329.4,1089.4 329.9,1087.9 330.4,1087.8 330.9,1090.1 331.4,1089.7 331.9,1088.5 332.4,1089.1 332.9,1088.7 333.4,1088.0 333.9,1089.0 334.4,1088.7 334.9,1089.5 335.4,1087.0 335.9,1089.1 336.4,1088.6 336.9,1087.9 337.4,1088.1 337.9,1088.1 338.4,1087.4 338.9,1088.0 339.4,1089.1 339.9,1087.2 340.4,1088.1 340.9,1086.5 341.4,1088.0 341.9,1088.7 342.4,1088.4 342.9,1088.5 343.4,1087.5 343.9,1088.9 344.4,1087.7 344.9,1089.2 345.4,1088.6 345.9,1088.1 346.4,1089.6 346.9,1088.1 347.4,1089.2 347.9,1088.5 348.4,1088.4 348.9,1089.2 349.4,1088.8 349.9,1088.4 350.4,1088.3 350.9,1088.6 351.4,1088.5 351.9,1088.1 352.4,1087.6 352.9,1086.3 353.4,1088.3 353.9,1088.2 354.4,1089.3 354.9,1088.7 355.4,1089.3 355.9,1089.7 356.4,1088.3 356.9,1087.7 357.4,1089.0 357.9,1087.8 358.4,1088.1 358.9,1089.5 359.4,1088.7 359.9,1089.2 360.4,1087.2 360.9,1088.3 361.4,1089.1 361.9,1087.2 362.4,1088.4 362.9,1088.5 363.4,1086.3 363.9,1089.4 364.4,1087.6 364.9,1088.0 365.4,1089.4 365.9,1086.6 366.4,1088.4 366.9,1087.6 367.4,1087.9 367.9,1087.2 368.4,1088.9 368.9,1086.8 369.4,1087.9 369.9,1087.9 370.4,1087.3 370.9,1087.0 371.4,1086.8 371.9,1087.5 372.4,1086.6 372.9,1085.6 373.4,1084.0 373.9,1084.0 374.4,1082.9 374.9,1080.7 375.4,1079.7 375.9,1074.5 376.4,1075.3 376.9,1070.4 377.4,1067.1 377.9,1064.7 378.4,1065.8 378.9,1065.7 379.4,1066.2 379.9,1068.4 380.4,1071.1 380.9,1073.4 381.4,1077.3 381.9,1079.3 382.4,1080.8 382.9,1081.3 383.4,1085.1 383.9,1084.6 384.4,1084.9 384.9,1087.4 385.4,1087.1 385.9,1085.4 386.4,1085.9 386.9,1087.1 387.4,1086.5 387.9,1087.5 388.4,1089.8 388.9,1090.2 389.4,1087.8 389.9,1088.6 390.4,1088.7 390.9,1087.9 391.4,1086.9 391.9,1089.0 392.4,1088.0 392.9,1088.5 393.4,1088.7 393.9,1087.6 394.4,1089.6 394.9,1088.3 395.4,1088.4 395.9,1087.9 396.4,1088.9 396.9,1089.1 397.4,1087.9 397.9,1088.8 398.4,1088.0 398.9,1087.4 399.4,1088.1 399.9,1088.9 400.4,1088.8 400.9,1089.2 401.4,1087.9 401.9,1088.2 402.4,1088.5 402.9,1088.9 403.4,1088.3 403.9,1087.7 404.4,1087.2 404.9,1089.4 405.4,1089.3 405.9,1087.9 406.4,1089.6 406.9,1088.4 407.4,1088.8 407.9,1089.5 408.4,1088.1 408.9,1087.9 409.4,1087.1 409.9,1088.7 410.4,1088.8 410.9,1089.2 411.4,1089.0 411.9,1088.6 412.4,1089.4 412.9,1087.7 413.4,1088.8 413.9,1088.9 414.4,1088.4 414.9,1089.9 415.4,1088.8 415.9,1089.6 416.4,1089.2 416.9,1088.3 417.4,1090.0 417.9,1089.4 418.4,1088.5 418.9,1088.4 419.4,1087.7 419.9,1088.4 420.4,1088.3 420.9,1088.6 421.4,1088.1 421.9,1088.9 422.4,1088.4 422.9,1087.2 423.4,1088.1 423.9,1087.7 424.4,1087.4 424.9,1088.2 425.4,1089.1 425.9,1087.5 426.4,1086.8 426.9,1088.2 427.4,1090.7 427.9,1087.9 428.4,1088.5 428.9,1087.9 429.4,1088.8 429.9,1089.2 430.4,1087.8 430.9,1088.7 431.4,1086.7 431.9,1087.4 432.4,1085.8 432.9,1086.5 433.4,1085.3 433.9,1085.4 434.4,1083.8 434.9,1084.3 435.4,1083.8 435.9,1083.1 436.4,1083.0 436.9,1083.0 437.4,1084.1 437.9,1085.2 438.4,1085.4 438.9,1086.2 439.4,1087.6 439.9,1086.7 440.4,1087.6 440.9,1088.3 441.4,1088.3 441.9,1088.3 442.4,1088.2 442.9,1089.7 443.4,1088.2 443.9,1088.0 444.4,1088.8 444.9,1089.7 445.4,1089.5 445.9,1088.5 446.4,1089.1 446.9,1088.9 447.4,1088.5 447.9,1089.0 448.4,1089.0 448.9,1088.6 449.4,1089.9 449.9,1088.2 450.4,1089.6 450.9,1090.2 451.4,1090.2 451.9,1088.8 452.4,1088.4 452.9,1087.3 453.4,1088.5 453.9,1090.5 454.4,1087.3 454.9,1087.4 455.4,1089.2 455.9,1089.1 456.4,1087.1 456.9,1088.5 457.4,1088.8 457.9,1087.4 458.4,1089.3 458.9,1087.6 459.4,1089.5 459.9,1088.8 460.4,1088.0 460.9,1087.3 461.4,1088.3 461.9,1088.5 462.4,1088.5 462.9,1088.1 463.4,1088.4 463.9,1089.3 464.4,1087.9 464.9,1088.4 465.4,1089.0 465.9,1088.6 466.4,1089.3 466.9,1089.8 467.4,1088.3 467.9,1088.8 468.4,1086.3 468.9,1088.3 469.4,1089.1 469.9,1087.7 470.4,1089.6 470.9,1087.1 471.4,1089.7 471.9,1088.2 472.4,1087.8 472.9,1088.2 473.4,1088.4 473.9,1087.8 474.4,1087.5 474.9,1088.2 475.4,1089.3 475.9,1088.9 476.4,1089.7 476.9,1088.1 477.4,1088.3 477.9,1088.3 478.4,1088.7 478.9,1089.0 479.4,1090.0 479.9,1089.2 480.4,1088.7 480.9,1089.7 481.4,1088.0 481.9,1087.6 482.4,1089.1 482.9,1088.7 483.4,1088.7 483.9,1089.3 484.4,1088.3 484.9,1088.5 485.4,1088.9 485.9,1089.1 486.4,1089.4 486.9,1088.7 487.4,1088.8 487.9,1086.7 488.4,1089.5 488.9,1087.4 489.4,1088.5 489.9,1090.5 490.4,1088.3 490.9,1087.3 491.4,1089.8 491.9,1088.1 492.4,1088.4 492.9,1088.4 493.4,1089.1 493.9,1089.1 494.4,1088.4 494.9,1089.3 495.4,1087.7 495.9,1088.9 496.4,1087.9 496.9,1088.9 497.4,1087.7 497.9,1087.8 498.4,1089.1 498.9,1086.9 499.4,1086.6 499.9,1087.7 500.4,1086.7 500.9,1086.2 501.4,1086.1 501.9,1087.6 502.4,1084.9 502.9,1085.4 503.4,1085.8 503.9,1085.1 504.4,1086.0 504.9,1086.8 505.4,1086.0 505.9,1087.9 506.4,1086.5 506.9,1087.5 507.4,1088.1 507.9,1090.5 508.4,1086.8 508.9,1088.5 509.4,1090.3 509.9,1087.9 510.4,1089.2 510.9,1088.6 511.4,1087.4 511.9,1088.8 512.4,1087.8 512.9,1088.6 513.4,1087.3 513.9,1089.1 514.4,1086.7 514.9,1088.4 515.4,1089.5 515.9,1088.9 516.4,1088.3 516.9,1088.4 517.4,1088.2 517.9,1090.6 518.4,1088.5 518.9,1088.5 519.4,1088.0 519.9,1088.2 520.4,1089.0 520.9,1088.1 521.4,1087.9 521.9,1088.1 522.4,1088.3 522.9,1088.7 523.4,1088.2 523.9,1088.4 524.4,1088.0 524.9,1089.5 525.4,1088.6 525.9,1088.3 526.4,1088.8 526.9,1088.5 527.4,1087.3 527.9,1088.4 528.4,1089.8 528.9,1088.9 529.4,1089.4 529.9,1088.0 530.4,1087.4 530.9,1088.0 531.4,1089.5 531.9,1087.7 532.4,1087.9 532.9,1089.3 533.4,1088.3 533.9,1088.3 534.4,1088.8 534.9,1088.5 535.4,1088.2 535.9,1088.7 536.4,1087.9 536.9,1088.4 537.4,1089.0 537.9,1087.6 538.4,1088.3 538.9,1087.6 539.4,1089.0 539.9,1088.9 540.4,1089.1 540.9,1089.2 541.4,1089.2 541.9,1088.9 542.4,1087.8 542.9,1089.1 543.4,1087.7 543.9,1090.1 544.4,1088.6 544.9,1088.8 545.4,1087.4 545.9,1089.1 546.4,1089.2 546.9,1087.1 547.4,1087.9 547.9,1087.9 548.4,1087.8 548.9,1089.3 549.4,1089.9 549.9,1087.4 550.4,1089.0 550.9,1088.0 551.4,1089.2 551.9,1086.3 552.4,1087.8 552.9,1089.0 553.4,1087.5 553.9,1089.0 554.4,1087.7 554.9,1088.9 555.4,1088.4 555.9,1087.7 556.4,1087.4 556.9,1087.8 557.4,1088.8 557.9,1087.8 558.4,1087.3 558.9,1090.3 559.4,1086.5 559.9,1087.5 560.4,1088.1 560.9,1086.8 561.4,1087.5 561.9,1087.2 562.4,1086.3 562.9,1087.7 563.4,1086.4 563.9,1086.7 564.4,1088.1 564.9,1086.2 565.4,1087.4 565.9,1087.8 566.4,1087.5 566.9,1087.0 567.4,1086.4 567.9,1085.3 568.4,1086.3 568.9,1086.4 569.4,1085.5 569.9,1084.9 570.4,1086.1 570.9,1084.4 571.4,1085.3 571.9,1084.2 572.4,1083.0 572.9,1085.1 573.4,1083.9 573.9,1083.3 574.4,1081.2 574.9,1081.4 575.4,1080.8 575.9,1078.9 576.4,1079.3 576.9,1074.5 577.4,1073.8 577.9,1068.1 578.4,1063.2 578.9,1056.4 579.4,1048.7 579.9,1036.0 580.4,1021.6 580.9,1004.5 581.4,985.0 581.9,965.5 582.4,946.2 582.9,930.5 583.4,919.7 583.9,914.5 584.4,919.2 584.9,930.2 585.4,943.4 585.9,961.5 586.4,980.2 586.9,999.0 587.4,1016.7 587.9,1030.6 588.4,1043.9 588.9,1052.7 589.4,1061.9 589.9,1066.2 590.4,1072.2 590.9,1075.6 591.4,1075.9 591.9,1079.3 592.4,1079.8 592.9,1082.0 593.4,1081.5 593.9,1082.4 594.4,1083.0 594.9,1084.6 595.4,1082.6 595.9,1085.0 596.4,1084.8 596.9,1084.7 597.4,1085.1 597.9,1086.3 598.4,1086.4 598.9,1087.2 599.4,1085.7 599.9,1084.9 600.4,1086.0 600.9,1086.4 601.4,1086.4 601.9,1087.7 602.4,1088.6 602.9,1087.3 603.4,1085.7 603.9,1087.9 604.4,1086.8 604.9,1087.3 605.4,1088.0 605.9,1087.7 606.4,1087.4 606.9,1087.8 607.4,1088.2 607.9,1088.1 608.4,1089.2 608.9,1085.5 609.4,1087.2 609.9,1087.3 610.4,1088.4 610.9,1088.0 611.4,1088.5 611.9,1086.8 612.4,1087.8 612.9,1088.4 613.4,1087.9 613.9,1087.7 614.4,1088.2 614.9,1089.3 615.4,1086.4 615.9,1089.2 616.4,1088.2 616.9,1087.4 617.4,1088.5 617.9,1088.0 618.4,1088.9 618.9,1087.3 619.4,1088.6 619.9,1087.1 620.4,1087.9 620.9,1088.0 621.4,1087.2 621.9,1087.4 622.4,1086.2 622.9,1087.1 623.4,1085.6 623.9,1085.2 624.4,1085.4 624.9,1085.4 625.4,1084.8 625.9,1086.2 626.4,1085.8 626.9,1086.6 627.4,1085.4 627.9,1085.8 628.4,1086.9 628.9,1086.7 629.4,1087.6 629.9,1088.3 630.4,1088.8 630.9,1089.2 631.4,1088.8 631.9,1087.7 632.4,1088.7 632.9,1088.0 633.4,1088.8 633.9,1087.6 634.4,1089.4 634.9,1088.8 635.4,1088.3 635.9,1087.5 636.4,1088.7 636.9,1088.1 637.4,1088.7 637.9,1088.0 638.4,1088.1 638.9,1089.0 639.4,1089.7 639.9,1087.6 640.4,1088.4 640.9,1088.9 641.4,1088.5 641.9,1088.3 642.4,1090.2 642.9,1088.0 643.4,1088.9 643.9,1088.2 644.4,1088.5 644.9,1086.9 645.4,1089.3 645.9,1088.5 646.4,1087.9 646.9,1089.9 647.4,1088.4 647.9,1088.2 648.4,1088.0 648.9,1089.4 649.4,1088.7 649.9,1088.4 650.4,1087.7 650.9,1088.0 651.4,1088.9 651.9,1088.7 652.4,1087.2 652.9,1088.0 653.4,1088.8 653.9,1090.7 654.4,1088.1 654.9,1087.0 655.4,1089.3 655.9,1088.3 656.4,1087.7 656.9,1089.1 657.4,1088.5 657.9,1088.0 658.4,1087.7 658.9,1088.6 659.4,1088.8 659.9,1087.4 660.4,1089.4 660.9,1087.8 661.4,1089.8 661.9,1089.0 662.4,1088.6 662.9,1089.0 663.4,1088.3 663.9,1088.7 664.4,1089.9 664.9,1088.3 665.4,1089.3 665.9,1088.1 666.4,1088.7 666.9,1089.5 667.4,1087.9 667.9,1089.0 668.4,1087.2 668.9,1087.9 669.4,1088.4 669.9,1089.4 670.4,1089.3 670.9,1088.1 671.4,1088.7 671.9,1088.9 672.4,1087.6 672.9,1089.1 673.4,1089.8 673.9,1089.7 674.4,1088.3 674.9,1088.5 675.4,1088.1 675.9,1088.4 676.4,1088.6 676.9,1089.3 677.4,1088.8 677.9,1088.1 678.4,1089.4 678.9,1089.4 679.4,1088.3 679.9,1088.6 680.4,1088.7 680.9,1087.6 681.4,1088.9 681.9,1089.3 682.4,1090.2 682.9,1088.9 683.4,1088.6 683.9,1088.7 684.4,1089.2 684.9,1089.4 685.4,1088.1 685.9,1088.9 686.4,1089.3 686.9,1087.3 687.4,1089.8 687.9,1088.6 688.4,1089.4 688.9,1088.7 689.4,1088.6 689.9,1088.7 690.4,1089.0 690.9,1089.4 691.4,1088.6 691.9,1088.0 692.4,1088.3 692.9,1088.1 693.4,1089.3 693.9,1088.1 694.4,1089.9 694.9,1088.9 695.4,1088.7 695.9,1089.7 696.4,1088.5 696.9,1088.5 697.4,1089.3 697.9,1089.3 698.4,1088.0 698.9,1090.5 699.4,1089.1 699.9,1087.8 700.4,1088.6 700.9,1089.3 701.4,1088.8 701.9,1089.2 702.4,1090.3 702.9,1089.1 703.4,1089.8 703.9,1088.7 704.4,1087.6 704.9,1089.0 705.4,1087.1 705.9,1088.1 706.4,1087.7 706.9,1086.4 707.4,1086.4 707.9,1086.7 708.4,1087.1 708.9,1087.9 709.4,1087.1 709.9,1088.6 710.4,1088.1 710.9,1087.2 711.4,1087.4 711.9,1088.1 712.4,1087.8 712.9,1088.3 713.4,1089.0 713.9,1088.7 714.4,1089.3 714.9,1088.1 715.4,1088.0 715.9,1087.7 716.4,1087.4 716.9,1088.4 717.4,1088.8 717.9,1088.6 718.4,1088.7 718.9,1090.2 719.4,1087.9 719.9,1088.5 720.4,1088.4 720.9,1088.1 721.4,1089.7 721.9,1088.7 722.4,1089.6 722.9,1087.9 723.4,1090.1 723.9,1090.3 724.4,1088.0 724.9,1088.7 725.4,1088.6 725.9,1089.1 726.4,1087.7 726.9,1089.0 727.4,1089.1 727.9,1088.2 728.4,1086.9 728.9,1088.1 729.4,1088.2 729.9,1089.1 730.4,1088.0 730.9,1087.6 731.4,1088.8 731.9,1088.6 732.4,1088.8 732.9,1088.3 733.4,1089.0 733.9,1088.5 734.4,1086.8 734.9,1088.1 735.4,1088.4 735.9,1087.7 736.4,1088.6 736.9,1087.0 737.4,1087.5 737.9,1085.7 738.4,1086.0 738.9,1084.9 739.4,1083.5 739.9,1081.9 740.4,1081.3 740.9,1079.3 741.4,1076.0 741.9,1072.8 742.4,1070.0 742.9,1068.4 743.4,1064.5 743.9,1064.5 744.4,1061.8 744.9,1063.5 745.4,1064.9 745.9,1067.1 746.4,1068.2 746.9,1070.6 747.4,1072.9 747.9,1077.2 748.4,1078.9 748.9,1080.7 749.4,1082.4 749.9,1084.2 750.4,1085.1 750.9,1086.8 751.4,1085.0 751.9,1087.6 752.4,1086.9 752.9,1087.5 753.4,1087.5 753.9,1087.8 754.4,1088.5 754.9,1088.3 755.4,1087.1 755.9,1088.2 756.4,1088.2 756.9,1088.6 757.4,1088.4 757.9,1088.4 758.4,1089.2 758.9,1087.8 759.4,1090.1 759.9,1088.2 760.4,1087.9 760.9,1089.2 761.4,1089.4 761.9,1089.6 762.4,1089.8 762.9,1089.1 763.4,1088.8 763.9,1089.0 764.4,1088.8 764.9,1088.4 765.4,1090.0 765.9,1090.1 766.4,1088.8 766.9,1088.7 767.4,1088.5 767.9,1087.6 768.4,1088.4 768.9,1088.5 769.4,1088.9 769.9,1088.2 770.4,1087.5 770.9,1089.4 771.4,1090.1 771.9,1087.4 772.4,1088.8 772.9,1089.5 773.4,1088.1 773.9,1087.9 774.4,1089.0 774.9,1088.8 775.4,1088.5 775.9,1090.1 776.4,1090.0 776.9,1089.4 777.4,1088.9 777.9,1088.7 778.4,1089.6 778.9,1088.8 779.4,1090.0 779.9,1089.9 780.4,1088.6 780.9,1089.5 781.4,1090.1 781.9,1089.5 782.4,1088.3 782.9,1088.8 783.4,1088.8 783.9,1089.1 784.4,1089.0 784.9,1088.8 785.4,1089.6 785.9,1090.0 786.4,1088.6 786.9,1088.0 787.4,1089.3 787.9,1089.0 788.4,1089.3 788.9,1088.6 789.4,1089.3 789.9,1088.4 790.4,1089.8 790.9,1090.3 791.4,1088.4 791.9,1087.2 792.4,1088.7 792.9,1088.7 793.4,1089.2 793.9,1089.1 794.4,1089.4 794.9,1091.0 795.4,1088.7 795.9,1088.8 796.4,1089.4 796.9,1087.8 797.4,1089.6 797.9,1088.6 798.4,1088.1 798.9,1088.5 799.4,1089.4 799.9,1089.7 800.4,1090.0 800.9,1089.4 801.4,1088.6 801.9,1089.5 802.4,1089.0 802.9,1090.8 803.4,1087.6 803.9,1090.2 804.4,1089.7 804.9,1089.4 805.4,1089.0 805.9,1088.7 806.4,1088.4 806.9,1088.0 807.4,1090.6 807.9,1089.8 808.4,1089.6 808.9,1089.4 809.4,1087.8 809.9,1088.9 810.4,1089.2 810.9,1089.9 811.4,1088.4 811.9,1089.3 812.4,1089.0 812.9,1089.1 813.4,1088.6 813.9,1089.4 814.4,1089.2 814.9,1087.8 815.4,1090.0 815.9,1090.7 816.4,1088.5 816.9,1089.9 817.4,1088.4 817.9,1088.8 818.4,1090.4 818.9,1089.3 819.4,1090.2 819.9,1089.3 820.4,1089.9 820.9,1089.0 821.4,1090.2 821.9,1090.4 822.4,1089.6 822.9,1088.7 823.4,1088.9 823.9,1088.5 824.4,1089.6 824.9,1089.5 825.4,1088.7 825.9,1089.8 826.4,1088.7 826.9,1090.4 827.4,1089.7 827.9,1090.3 828.4,1088.6 828.9,1088.4 829.4,1087.9 829.9,1089.6 830.4,1088.4 830.9,1090.1 831.4,1089.3 831.9,1089.7 832.4,1088.2 832.9,1088.7 833.4,1089.3 833.9,1089.7 834.4,1088.2 834.9,1089.4 835.4,1088.6 835.9,1089.7 836.4,1089.0 836.9,1088.9 837.4,1089.5 837.9,1090.0 838.4,1089.0 838.9,1090.0 839.4,1088.4 839.9,1089.3 840.4,1088.3 840.9,1089.3 841.4,1088.5 841.9,1089.2 842.4,1089.6 842.9,1088.4 843.4,1087.9 843.9,1089.0 844.4,1089.5 844.9,1089.3 845.4,1088.5 845.9,1089.7 846.4,1088.9 846.9,1089.6 847.4,1088.5 847.9,1089.4 848.4,1089.9 848.9,1088.6 849.4,1088.9 849.9,1089.5 850.4,1089.4 850.9,1089.3 851.4,1089.0 851.9,1088.0 852.4,1089.0 852.9,1088.1 853.4,1089.1 853.9,1087.4 854.4,1090.0 854.9,1090.3 855.4,1089.3 855.9,1088.4 856.4,1088.8 856.9,1089.6 857.4,1089.4 857.9,1088.5 858.4,1089.8 858.9,1089.4 859.4,1089.3 859.9,1088.7 860.4,1088.9 860.9,1088.4 861.4,1089.0 861.9,1088.4 862.4,1089.6 862.9,1088.8 863.4,1088.9 863.9,1089.0 864.4,1088.9 864.9,1087.7 865.4,1089.5 865.9,1088.7 866.4,1088.2 866.9,1087.9 867.4,1088.0 867.9,1088.0 868.4,1088.4 868.9,1087.7 869.4,1088.3 869.9,1088.3 870.4,1087.6 870.9,1089.5 871.4,1087.8 871.9,1088.0 872.4,1087.6 872.9,1087.3 873.4,1087.7 873.9,1087.9 874.4,1086.6 874.9,1085.6 875.4,1086.0 875.9,1083.4 876.4,1083.9 876.9,1082.2 877.4,1080.6 877.9,1076.8 878.4,1074.4 878.9,1070.0 879.4,1065.8 879.9,1061.5 880.4,1055.6 880.9,1050.2 881.4,1047.1 881.9,1043.4 882.4,1040.9 882.9,1042.0 883.4,1044.8 883.9,1047.6 884.4,1051.1 884.9,1055.4 885.4,1059.2 885.9,1064.4 886.4,1068.1 886.9,1072.2 887.4,1075.5 887.9,1078.3 888.4,1080.8 888.9,1082.6 889.4,1083.5 889.9,1085.7 890.4,1085.4 890.9,1087.3 891.4,1087.3 891.9,1086.1 892.4,1087.8 892.9,1086.5 893.4,1088.6 893.9,1087.9 894.4,1087.2 894.9,1086.4 895.4,1087.8 895.9,1087.2 896.4,1088.9 896.9,1087.4 897.4,1088.1 897.9,1088.7 898.4,1088.4 898.9,1088.6 899.4,1088.3 899.9,1089.0 900.4,1087.9 900.9,1088.9 901.4,1087.8 901.9,1088.7 902.4,1087.8 902.9,1088.5 903.4,1089.0 903.9,1089.5 904.4,1087.4 904.9,1088.1 905.4,1088.0 905.9,1089.5 906.4,1088.0 906.9,1089.1 907.4,1088.2 907.9,1087.5 908.4,1088.4 908.9,1087.4 909.4,1088.5 909.9,1088.3 910.4,1088.3 910.9,1086.3 911.4,1087.6 911.9,1086.6 912.4,1084.1 912.9,1086.2 913.4,1085.3 913.9,1083.1 914.4,1083.8 914.9,1082.7 915.4,1083.6 915.9,1084.1 916.4,1084.8 916.9,1084.3 917.4,1085.3 917.9,1085.3 918.4,1086.7 918.9,1087.4 919.4,1087.4 919.9,1088.5 920.4,1088.5 920.9,1088.5 921.4,1089.2 921.9,1087.7 922.4,1088.6 922.9,1087.5 923.4,1088.8 923.9,1088.5 924.4,1089.5 924.9,1088.6 925.4,1088.5 925.9,1088.9 926.4,1088.9 926.9,1089.4 927.4,1088.4 927.9,1088.0 928.4,1088.0 928.9,1089.8 929.4,1088.2 929.9,1088.8 930.4,1088.3 930.9,1089.7 931.4,1088.7 931.9,1089.9 932.4,1088.6 932.9,1089.3 933.4,1089.6 933.9,1089.8 934.4,1088.3 934.9,1088.9 935.4,1089.1 935.9,1087.9 936.4,1089.6 936.9,1089.4 937.4,1089.5 937.9,1088.2 938.4,1089.3 938.9,1089.5 939.4,1089.9 939.9,1088.8 940.4,1089.6 940.9,1090.5 941.4,1088.9 941.9,1088.9 942.4,1089.0 942.9,1088.2 943.4,1088.9 943.9,1090.3 944.4,1088.6 944.9,1089.1 945.4,1090.0 945.9,1089.6 946.4,1089.4 946.9,1089.0 947.4,1089.1 947.9,1089.2 948.4,1089.7 948.9,1089.3 949.4,1089.9 949.9,1088.0 950.4,1089.8 950.9,1088.9 951.4,1089.2 951.9,1088.9 952.4,1089.7 952.9,1089.1 953.4,1089.7 953.9,1088.7 954.4,1089.4 954.9,1090.1 955.4,1090.0 955.9,1089.0 956.4,1089.3 956.9,1089.0 957.4,1089.2 957.9,1089.3 958.4,1090.1 958.9,1089.6 959.4,1090.2 959.9,1090.3 960.4,1088.4 960.9,1089.5 961.4,1088.9 961.9,1088.2 962.4,1088.5 962.9,1088.9 963.4,1090.4 963.9,1089.3 964.4,1089.1 964.9,1089.2 965.4,1088.8 965.9,1089.4 966.4,1089.2 966.9,1088.2 967.4,1088.9 967.9,1091.5 968.4,1089.7 968.9,1089.2 969.4,1089.7 969.9,1088.6 970.4,1089.3 970.9,1089.8 971.4,1088.2 971.9,1088.8 972.4,1089.0 972.9,1089.1 973.4,1088.9 973.9,1089.4 974.4,1089.9 974.9,1089.5 975.4,1089.9 975.9,1089.9 976.4,1088.9 976.9,1089.4 977.4,1089.0 977.9,1089.7 978.4,1089.0 978.9,1089.1 979.4,1090.4 979.9,1089.1 980.4,1088.2 980.9,1089.3 981.4,1089.4 981.9,1088.9 982.4,1089.3 982.9,1089.9 983.4,1088.9 983.9,1089.1 984.4,1088.8 984.9,1089.5 985.4,1089.1 985.9,1088.6 986.4,1089.1 986.9,1090.4 987.4,1088.1 987.9,1088.3 988.4,1089.4 988.9,1088.3 989.4,1090.5 989.9,1088.2 990.4,1088.3 990.9,1088.8 991.4,1089.9 991.9,1089.7 992.4,1089.5 992.9,1089.4 993.4,1090.0 993.9,1087.9 994.4,1089.3 994.9,1090.1 995.4,1088.4 995.9,1089.3 996.4,1089.9 996.9,1089.9 997.4,1088.9 997.9,1090.2 998.4,1089.3 998.9,1089.6 999.4,1088.2 999.9,1088.3 1000.4,1088.3 1000.9,1089.9 1001.4,1087.1 1001.9,1087.2 1002.4,1088.8 1002.9,1088.1 1003.4,1085.7 1003.9,1086.8 1004.4,1086.3 1004.9,1086.5 1005.4,1083.6 1005.9,1083.5 1006.4,1083.6 1006.9,1082.4 1007.4,1080.5 1007.9,1080.3 1008.4,1079.3 1008.9,1081.2 1009.4,1080.4 1009.9,1081.9 1010.4,1082.2 1010.9,1081.8 1011.4,1083.1 1011.9,1084.4 1012.4,1085.1 1012.9,1086.6 1013.4,1087.0 1013.9,1087.1 1014.4,1087.8 1014.9,1087.3 1015.4,1087.6 1015.9,1088.6 1016.4,1088.6 1016.9,1087.8 1017.4,1088.6 1017.9,1088.2 1018.4,1088.4 1018.9,1089.6 1019.4,1088.2 1019.9,1088.4 1020.4,1089.2 1020.9,1088.9 1021.4,1088.9 1021.9,1087.9 1022.4,1088.8 1022.9,1088.5 1023.4,1088.2 1023.9,1088.3 1024.4,1088.5 1024.9,1089.1 1025.4,1089.7 1025.9,1088.5 1026.4,1089.3 1026.9,1088.3 1027.4,1087.1 1027.9,1088.0 1028.4,1088.6 1028.9,1088.5 1029.4,1086.8 1029.9,1088.6 1030.4,1086.4 1030.9,1086.2 1031.4,1086.0 1031.9,1087.0 1032.4,1086.0 1032.9,1086.1 1033.4,1083.7 1033.9,1084.8 1034.4,1084.5 1034.9,1084.8 1035.4,1083.9 1035.9,1084.8 1036.4,1083.5 1036.9,1083.0 1037.4,1082.8 1037.9,1084.8 1038.4,1084.6 1038.9,1083.8 1039.4,1085.2 1039.9,1084.7 1040.4,1085.0 1040.9,1084.4 1041.4,1085.3 1041.9,1086.1 1042.4,1086.4 1042.9,1086.2 1043.4,1087.5 1043.9,1088.0 1044.4,1086.8 1044.9,1087.8 1045.4,1086.8 1045.9,1088.2 1046.4,1087.5 1046.9,1088.2 1047.4,1088.5 1047.9,1088.4 1048.4,1089.3 1048.9,1088.2 1049.4,1088.5 1049.9,1089.0 1050.4,1088.9 1050.9,1089.1 1051.4,1088.8 1051.9,1088.5 1052.4,1089.5 1052.9,1089.1 1053.4,1089.7 1053.9,1090.0 1054.4,1088.9 1054.9,1088.7 1055.4,1088.9 1055.9,1088.8 1056.4,1087.9 1056.9,1090.3 1057.4,1089.5 1057.9,1090.7 1058.4,1088.9 1058.9,1089.6 1059.4,1089.4 1059.9,1089.2 1060.4,1089.9 1060.9,1089.3 1061.4,1089.2 1061.9,1089.4 1062.4,1087.9 1062.9,1088.8 1063.4,1088.8 1063.9,1090.3 1064.4,1089.7 1064.9,1089.8 1065.4,1089.7 1065.9,1089.2 1066.4,1090.4 1066.9,1089.2 1067.4,1088.4 1067.9,1089.7 1068.4,1090.1 1068.9,1089.4 1069.4,1089.6 1069.9,1089.9 1070.4,1090.3 1070.9,1089.7 1071.4,1090.4 1071.9,1089.5 1072.4,1090.7 1072.9,1088.5 1073.4,1089.9 1073.9,1089.5 1074.4,1089.4 1074.9,1088.5 1075.4,1090.0 1075.9,1089.2 1076.4,1088.7 1076.9,1088.9 1077.4,1089.2 1077.9,1089.4 1078.4,1088.8 1078.9,1088.8 1079.4,1089.6 1079.9,1089.3 1080.4,1090.6 1080.9,1089.1 1081.4,1089.8 1081.9,1090.4 1082.4,1089.2 1082.9,1089.9 1083.4,1089.5 1083.9,1089.4 1084.4,1090.3 1084.9,1088.7 1085.4,1088.9 1085.9,1088.2 1086.4,1089.2 1086.9,1089.9 1087.4,1089.1 1087.9,1089.8 1088.4,1088.8 1088.9,1090.0 1089.4,1089.2 1089.9,1089.0 1090.4,1090.3 1090.9,1089.3 1091.4,1089.6 1091.9,1089.3 1092.4,1089.7 1092.9,1089.3 1093.4,1088.5 1093.9,1089.4 1094.4,1089.5 1094.9,1089.4 1095.4,1089.1 1095.9,1090.3 1096.4,1088.7 1096.9,1089.2 1097.4,1089.3 1097.9,1088.5 1098.4,1088.4 1098.9,1089.5 1099.4,1089.5 1099.9,1089.2 1100.4,1088.0 1100.9,1088.8 1101.4,1089.2 1101.9,1089.4 1102.4,1089.7 1102.9,1089.2 1103.4,1089.5 1103.9,1089.9 1104.4,1087.4 1104.9,1089.4 1105.4,1088.5 1105.9,1089.0 1106.4,1088.8 1106.9,1088.0 1107.4,1088.0 1107.9,1088.8 1108.4,1088.3 1108.9,1088.8 1109.4,1088.0 1109.9,1089.5 1110.4,1087.9 1110.9,1089.2 1111.4,1087.3 1111.9,1088.0 1112.4,1088.1 1112.9,1086.4 1113.4,1086.4 1113.9,1086.9 1114.4,1087.0 1114.9,1086.6 1115.4,1085.4 1115.9,1084.8 1116.4,1082.2 1116.9,1080.9 1117.4,1079.7 1117.9,1075.4 1118.4,1071.7 1118.9,1066.1 1119.4,1061.5 1119.9,1054.5 1120.4,1049.2 1120.9,1043.7 1121.4,1037.7 1121.9,1034.1 1122.4,1032.3 1122.9,1033.5 1123.4,1034.3 1123.9,1037.5 1124.4,1042.4 1124.9,1043.9 1125.4,1048.5 1125.9,1052.7 1126.4,1059.3 1126.9,1063.3 1127.4,1067.2 1127.9,1071.3 1128.4,1076.2 1128.9,1078.8 1129.4,1081.2 1129.9,1082.4 1130.4,1084.4 1130.9,1085.7 1131.4,1086.0 1131.9,1085.2 1132.4,1085.4 1132.9,1086.1 1133.4,1087.4 1133.9,1086.6 1134.4,1087.0 1134.9,1087.8 1135.4,1087.4 1135.9,1087.3 1136.4,1088.8 1136.9,1088.6 1137.4,1088.9 1137.9,1089.0 1138.4,1089.4 1138.9,1088.6 1139.4,1088.5 1139.9,1087.6 1140.4,1088.6 1140.9,1088.4 1141.4,1089.5 1141.9,1089.3 1142.4,1089.8 1142.9,1089.6 1143.4,1089.7 1143.9,1089.3 1144.4,1089.1 1144.9,1088.8 1145.4,1089.1 1145.9,1088.5 1146.4,1089.4 1146.9,1089.1 1147.4,1087.9 1147.9,1087.5 1148.4,1088.7 1148.9,1088.9 1149.4,1089.0 1149.9,1090.0 1150.4,1088.9 1150.9,1088.5 1151.4,1089.5 1151.9,1089.9 1152.4,1090.3 1152.9,1088.7 1153.4,1089.2 1153.9,1089.1 1154.4,1090.3 1154.9,1089.8 1155.4,1089.4 1155.9,1089.8 1156.4,1089.1 1156.9,1089.2 1157.4,1089.3 1157.9,1089.1 1158.4,1089.2 1158.9,1089.6 1159.4,1089.5 1159.9,1090.3 1160.4,1089.9 1160.9,1089.4 1161.4,1088.1 1161.9,1088.5 1162.4,1089.1 1162.9,1089.2 1163.4,1088.6 1163.9,1089.2 1164.4,1089.5 1164.9,1089.1 1165.4,1089.4 1165.9,1089.4 1166.4,1089.0 1166.9,1088.9 1167.4,1089.4 1167.9,1089.6 1168.4,1088.8 1168.9,1088.2 1169.4,1088.9 1169.9,1089.8 1170.4,1088.5 1170.9,1090.0 1171.4,1089.1 1171.9,1089.6 1172.4,1089.0 1172.9,1089.8 1173.4,1089.5 1173.9,1089.7 1174.4,1088.3 1174.9,1089.9 1175.4,1088.5 1175.9,1089.3 1176.4,1089.8 1176.9,1089.4 1177.4,1089.8 1177.9,1089.6 1178.4,1089.6 1178.9,1089.0 1179.4,1090.1 1179.9,1090.2 1180.4,1089.2 1180.9,1089.0 1181.4,1089.6 1181.9,1089.1 1182.4,1089.6 1182.9,1090.0 1183.4,1089.9 1183.9,1090.4 1184.4,1089.8 1184.9,1088.9 1185.4,1089.0 1185.9,1089.9 1186.4,1090.7 1186.9,1089.3 1187.4,1089.0 1187.9,1090.4 1188.4,1089.5 1188.9,1090.0 1189.4,1090.2 1189.9,1089.0 1190.4,1089.3 1190.9,1089.2 1191.4,1089.9 1191.9,1089.9 1192.4,1089.2 1192.9,1089.9 1193.4,1088.5 1193.9,1089.8 1194.4,1089.8 1194.9,1089.6 1195.4,1088.7 1195.9,1089.5 1196.4,1088.9 1196.9,1090.4 1197.4,1089.4 1197.9,1089.4 1198.4,1089.5 1198.9,1089.9 1199.4,1089.6 1199.9,1089.9 1200.4,1089.0 1200.9,1090.2 1201.4,1089.3 1201.9,1090.0 1202.4,1089.7 1202.9,1090.2 1203.4,1089.5 1203.9,1088.7 1204.4,1088.9 1204.9,1089.4 1205.4,1090.4 1205.9,1089.3 1206.4,1089.6 1206.9,1090.3 1207.4,1089.2 1207.9,1089.8 1208.4,1089.7 1208.9,1089.2 1209.4,1089.7 1209.9,1090.2 1210.4,1090.2 1210.9,1089.4 1211.4,1091.3 1211.9,1089.8 1212.4,1089.4 1212.9,1089.2 1213.4,1089.0 1213.9,1090.1 1214.4,1087.9 1214.9,1089.5 1215.4,1088.8 1215.9,1089.5 1216.4,1089.6 1216.9,1088.8 1217.4,1089.0 1217.9,1090.3 1218.4,1089.3 1218.9,1089.6 1219.4,1089.4 1219.9,1090.1 1220.4,1090.3 1220.9,1090.1 1221.4,1089.9 1221.9,1089.9 1222.4,1088.9 1222.9,1090.4 1223.4,1089.3 1223.9,1089.1 1224.4,1089.4 1224.9,1089.1 1225.4,1089.8 1225.9,1090.0 1226.4,1090.3 1226.9,1089.5 1227.4,1089.2 1227.9,1089.4 1228.4,1088.9 1228.9,1089.2 1229.4,1090.8 1229.9,1089.1 1230.4,1089.3 1230.9,1090.0 1231.4,1089.7 1231.9,1090.0 1232.4,1089.1 1232.9,1089.0 1233.4,1090.3 1233.9,1089.2 1234.4,1089.5 1234.9,1089.7 1235.4,1088.5 1235.9,1089.5 1236.4,1089.2 1236.9,1089.9 1237.4,1089.4 1237.9,1088.2 1238.4,1090.0 1238.9,1088.0 1239.4,1089.3 1239.9,1089.1 1240.4,1089.2 1240.9,1089.5 1241.4,1090.1 1241.9,1089.0 1242.4,1089.1 1242.9,1089.9 1243.4,1089.8 1243.9,1089.9 1244.4,1089.6 1244.9,1089.3 1245.4,1089.1 1245.9,1089.1 1246.4,1089.8 1246.9,1090.1 1247.4,1090.4 1247.9,1088.6 1248.4,1089.0 1248.9,1089.0 1249.4,1088.9 1249.9,1088.2 1250.4,1090.1 1250.9,1089.6 1251.4,1088.5 1251.9,1088.2 1252.4,1088.3 1252.9,1087.5 1253.4,1087.8 1253.9,1088.4 1254.4,1088.7 1254.9,1088.2 1255.4,1088.3 1255.9,1086.8 1256.4,1085.4 1256.9,1088.0 1257.4,1087.3 1257.9,1087.1 1258.4,1088.2 1258.9,1086.7 1259.4,1086.7 1259.9,1086.9 1260.4,1088.4 1260.9,1088.2 1261.4,1086.7 1261.9,1088.8 1262.4,1088.0 1262.9,1088.4 1263.4,1087.8 1263.9,1089.5 1264.4,1088.8 1264.9,1089.4 1265.4,1088.2 1265.9,1089.3 1266.4,1089.0 1266.9,1088.9 1267.4,1088.6 1267.9,1088.8 1268.4,1088.5 1268.9,1088.9 1269.4,1089.3 1269.9,1089.7 1270.4,1088.5 1270.9,1088.8 1271.4,1089.1 1271.9,1088.5 1272.4,1089.3 1272.9,1089.4 1273.4,1089.4 1273.9,1089.8 1274.4,1090.1 1274.9,1090.0 1275.4,1089.7 1275.9,1089.9 1276.4,1089.1 1276.9,1089.0 1277.4,1090.0 1277.9,1089.9 1278.4,1090.9 1278.9,1089.5 1279.4,1089.0 1279.9,1089.8 1280.4,1089.4 1280.9,1089.1 1281.4,1090.4 1281.9,1090.8 1282.4,1089.9 1282.9,1089.3 1283.4,1089.8 1283.9,1089.6 1284.4,1088.8 1284.9,1090.1 1285.4,1089.8 1285.9,1090.4 1286.4,1089.3 1286.9,1089.6 1287.4,1089.6 1287.9,1088.6 1288.4,1091.1 1288.9,1088.4 1289.4,1089.0 1289.9,1089.5 1290.4,1088.7 1290.9,1089.9 1291.4,1089.4 1291.9,1089.7 1292.4,1089.8 1292.9,1089.7 1293.4,1089.7 1293.9,1089.6 1294.4,1089.9 1294.9,1090.1 1295.4,1089.5 1295.9,1089.4 1296.4,1089.4 1296.9,1089.9 1297.4,1089.5 1297.9,1089.5 1298.4,1088.8 1298.9,1090.8 1299.4,1089.0 1299.9,1090.7 1300.4,1090.1 1300.9,1090.3 1301.4,1089.8 1301.9,1090.0 1302.4,1089.9 1302.9,1090.0 1303.4,1090.2 1303.9,1090.6 1304.4,1089.1 1304.9,1090.0 1305.4,1090.6 1305.9,1090.5 1306.4,1089.1 1306.9,1089.9 1307.4,1089.8 1307.9,1089.8 1308.4,1088.4 1308.9,1090.2 1309.4,1088.7 1309.9,1091.0 1310.4,1090.1 1310.9,1089.6 1311.4,1090.0 1311.9,1089.7 1312.4,1089.3 1312.9,1089.6 1313.4,1089.9 1313.9,1089.2 1314.4,1090.1 1314.9,1090.3 1315.4,1090.3 1315.9,1090.3 1316.4,1090.4 1316.9,1090.0 1317.4,1090.4 1317.9,1089.6 1318.4,1089.8 1318.9,1090.4 1319.4,1090.7 1319.9,1089.4 1320.4,1088.7 1320.9,1090.8 1321.4,1090.2 1321.9,1090.6 1322.4,1090.0 1322.9,1089.6 1323.4,1089.1 1323.9,1088.9 1324.4,1090.2 1324.9,1089.9 1325.4,1089.5 1325.9,1088.6 1326.4,1088.9 1326.9,1088.8 1327.4,1089.0 1327.9,1087.4 1328.4,1089.1 1328.9,1089.8 1329.4,1088.5 1329.9,1088.7 1330.4,1088.6 1330.9,1087.6 1331.4,1088.0 1331.9,1086.8 1332.4,1086.3 1332.9,1085.8 1333.4,1084.4 1333.9,1083.1 1334.4,1080.7 1334.9,1079.8 1335.4,1076.6 1335.9,1075.8 1336.4,1073.2 1336.9,1071.6 1337.4,1071.8 1337.9,1071.4 1338.4,1072.4 1338.9,1073.5 1339.4,1075.0 1339.9,1075.9 1340.4,1076.6 1340.9,1077.1 1341.4,1077.4 1341.9,1079.4 1342.4,1080.7 1342.9,1082.2 1343.4,1083.3 1343.9,1084.4 1344.4,1086.2 1344.9,1085.8 1345.4,1087.2 1345.9,1088.5 1346.4,1087.7 1346.9,1087.9 1347.4,1088.5 1347.9,1088.6 1348.4,1089.1 1348.9,1089.9 1349.4,1089.1 1349.9,1089.5 1350.4,1088.9 1350.9,1089.0 1351.4,1089.5 1351.9,1089.0 1352.4,1090.1 1352.9,1089.2 1353.4,1089.4 1353.9,1088.9 1354.4,1089.3 1354.9,1089.0 1355.4,1089.3 1355.9,1088.5 1356.4,1089.6 1356.9,1090.6 1357.4,1088.5 1357.9,1090.7 1358.4,1089.6 1358.9,1090.2 1359.4,1089.1 1359.9,1090.9 1360.4,1089.1 1360.9,1089.6 1361.4,1090.6 1361.9,1089.0 1362.4,1088.3 1362.9,1089.7 1363.4,1089.3 1363.9,1089.2 1364.4,1089.2 1364.9,1088.9 1365.4,1090.6 1365.9,1090.5 1366.4,1088.9 1366.9,1089.7 1367.4,1089.5 1367.9,1090.4 1368.4,1089.3 1368.9,1090.7 1369.4,1089.8 1369.9,1089.3 1370.4,1089.7 1370.9,1089.4 1371.4,1091.1 1371.9,1089.9 1372.4,1089.5 1372.9,1089.8 1373.4,1090.7 1373.9,1089.2 1374.4,1088.8 1374.9,1090.6 1375.4,1090.2 1375.9,1089.5 1376.4,1089.8 1376.9,1090.5 1377.4,1088.2 1377.9,1090.6 1378.4,1089.7 1378.9,1090.2 1379.4,1089.8 1379.9,1091.6 1380.4,1089.5 1380.9,1090.5 1381.4,1088.3 1381.9,1089.8 1382.4,1090.3 1382.9,1088.9 1383.4,1088.6 1383.9,1089.9 1384.4,1090.4 1384.9,1090.5 1385.4,1089.4 1385.9,1090.0 1386.4,1089.0 1386.9,1090.9 1387.4,1089.5 1387.9,1090.6 1388.4,1089.7 1388.9,1089.6 1389.4,1090.8 1389.9,1089.3 1390.4,1090.6 1390.9,1089.6 1391.4,1089.3 1391.9,1089.3 1392.4,1090.5 1392.9,1089.8 1393.4,1089.6 1393.9,1088.9 1394.4,1090.5 1394.9,1090.5 1395.4,1090.0 1395.9,1090.3 1396.4,1087.9 1396.9,1089.5 1397.4,1089.9 1397.9,1089.9 1398.4,1089.5 1398.9,1090.0 1399.4,1089.4 1399.9,1089.4 1400.4,1089.1 1400.9,1089.9 1401.4,1089.4 1401.9,1089.5 1402.4,1090.6 1402.9,1089.8 1403.4,1089.8 1403.9,1088.9 1404.4,1089.5 1404.9,1090.4 1405.4,1090.1 1405.9,1089.9 1406.4,1089.7 1406.9,1089.9 1407.4,1090.0 1407.9,1089.6 1408.4,1088.3 1408.9,1091.0 1409.4,1090.5 1409.9,1089.7 1410.4,1090.6 1410.9,1089.0 1411.4,1090.6 1411.9,1089.9 1412.4,1090.3 1412.9,1089.6 1413.4,1089.9 1413.9,1090.1 1414.4,1090.4 1414.9,1090.1 1415.4,1090.0 1415.9,1089.4 1416.4,1090.7 1416.9,1089.9 1417.4,1089.6 1417.9,1089.5 1418.4,1089.0 1418.9,1089.2 1419.4,1088.8 1419.9,1089.8 1420.4,1089.6 1420.9,1089.7 1421.4,1088.8 1421.9,1089.3 1422.4,1089.1 1422.9,1090.0 1423.4,1088.5 1423.9,1088.4 1424.4,1090.0 1424.9,1089.4 1425.4,1088.1 1425.9,1089.7 1426.4,1089.7 1426.9,1089.3 1427.4,1087.3 1427.9,1088.4 1428.4,1087.7 1428.9,1087.8 1429.4,1086.8 1429.9,1088.6 1430.4,1086.9 1430.9,1087.3 1431.4,1087.4 1431.9,1087.0 1432.4,1086.7 1432.9,1086.1 1433.4,1086.3 1433.9,1085.9 1434.4,1084.6 1434.9,1086.5 1435.4,1085.6 1435.9,1085.7 1436.4,1085.9 1436.9,1085.4 1437.4,1085.7 1437.9,1085.6 1438.4,1087.1 1438.9,1087.7 1439.4,1087.3 1439.9,1086.8 1440.4,1088.5 1440.9,1087.7 1441.4,1087.2 1441.9,1087.2 1442.4,1088.6 1442.9,1089.5 1443.4,1088.5 1443.9,1088.5 1444.4,1088.9 1444.9,1088.6 1445.4,1088.9 1445.9,1089.4 1446.4,1089.0 1446.9,1090.0 1447.4,1088.9 1447.9,1089.9 1448.4,1089.8 1448.9,1089.4 1449.4,1089.5 1449.9,1089.5 1450.4,1090.7 1450.9,1089.2 1451.4,1090.4 1451.9,1090.3 1452.4,1089.6 1452.9,1090.7 1453.4,1088.4 1453.9,1089.9 1454.4,1089.9 1454.9,1089.8 1455.4,1090.3 1455.9,1089.6 1456.4,1089.7 1456.9,1090.5 1457.4,1089.8 1457.9,1089.2 1458.4,1090.2 1458.9,1089.8 1459.4,1089.5 1459.9,1090.2 1460.4,1089.4 1460.9,1089.3 1461.4,1089.7 1461.9,1089.8 1462.4,1089.9 1462.9,1089.2 1463.4,1090.9 1463.9,1090.3 1464.4,1090.0 1464.9,1090.0 1465.4,1088.4 1465.9,1090.4 1466.4,1089.3 1466.9,1090.2 1467.4,1089.2 1467.9,1090.5 1468.4,1089.6 1468.9,1089.8 1469.4,1090.8 1469.9,1090.5 1470.4,1089.1 1470.9,1089.5 1471.4,1090.0 1471.9,1089.8 1472.4,1090.4 1472.9,1089.5 1473.4,1088.8 1473.9,1089.4 1474.4,1089.8 1474.9,1090.2 1475.4,1090.3 1475.9,1090.6 1476.4,1090.1 1476.9,1089.8 1477.4,1090.3 1477.9,1089.9 1478.4,1089.7 1478.9,1089.7 1479.4,1090.5 1479.9,1090.8 1480.4,1090.7 1480.9,1089.0 1481.4,1090.6 1481.9,1089.3 1482.4,1089.7 1482.9,1090.3 1483.4,1089.2 1483.9,1089.2 1484.4,1089.5 1484.9,1090.9 1485.4,1090.5 1485.9,1089.4 1486.4,1090.0 1486.9,1090.0 1487.4,1090.1 1487.9,1089.5 1488.4,1090.7 1488.9,1089.7 1489.4,1090.4 1489.9,1089.0 1490.4,1090.1 1490.9,1090.0 1491.4,1090.7 1491.9,1088.4 1492.4,1090.2 1492.9,1090.4 1493.4,1089.8 1493.9,1090.7 1494.4,1091.1 1494.9,1090.4 1495.4,1090.4 1495.9,1090.7 1496.4,1090.2 1496.9,1090.6 1497.4,1090.2 1497.9,1089.5 1498.4,1089.3 1498.9,1090.6 1499.4,1090.2 1499.9,1089.5 1500.4,1089.9 1500.9,1090.7 1501.4,1088.9 1501.9,1089.4 1502.4,1090.3 1502.9,1090.3 1503.4,1089.2 1503.9,1089.3 1504.4,1089.9 1504.9,1090.6 1505.4,1089.8 1505.9,1088.5 1506.4,1090.4 1506.9,1089.8 1507.4,1089.5 1507.9,1089.1 1508.4,1090.5 1508.9,1089.9 1509.4,1090.0 1509.9,1090.0 1510.4,1090.0 1510.9,1090.2 1511.4,1090.7 1511.9,1089.1 1512.4,1089.7 1512.9,1089.4 1513.4,1090.6 1513.9,1089.5 1514.4,1088.7 1514.9,1089.6 1515.4,1089.2 1515.9,1089.2 1516.4,1089.3 1516.9,1088.8 1517.4,1088.4 1517.9,1090.6 1518.4,1089.4 1518.9,1088.9 1519.4,1089.8 1519.9,1090.1 1520.4,1088.3 1520.9,1089.0 1521.4,1089.4 1521.9,1088.7 1522.4,1089.3 1522.9,1088.3 1523.4,1088.5 1523.9,1088.6 1524.4,1088.8 1524.9,1088.4 1525.4,1087.7 1525.9,1087.6 1526.4,1086.3 1526.9,1088.3 1527.4,1086.4 1527.9,1085.9 1528.4,1085.6 1528.9,1085.1 1529.4,1084.2 1529.9,1082.8 1530.4,1081.3 1530.9,1081.1 1531.4,1079.8 1531.9,1078.8 1532.4,1078.1 1532.9,1077.2 1533.4,1076.9 1533.9,1075.2 1534.4,1073.7 1534.9,1074.5 1535.4,1074.6 1535.9,1073.2 1536.4,1074.8 1536.9,1075.1 1537.4,1075.5 1537.9,1076.8 1538.4,1077.9 1538.9,1079.0 1539.4,1080.4 1539.9,1080.8 1540.4,1081.8 1540.9,1084.1 1541.4,1083.0 1541.9,1084.3 1542.4,1084.9 1542.9,1086.2 1543.4,1087.0 1543.9,1086.1 1544.4,1087.9 1544.9,1086.9 1545.4,1089.3 1545.9,1087.7 1546.4,1088.9 1546.9,1088.3 1547.4,1088.9 1547.9,1088.2 1548.4,1088.7 1548.9,1088.7 1549.4,1088.7 1549.9,1089.1 1550.4,1088.4 1550.9,1088.4 1551.4,1087.7 1551.9,1088.3 1552.4,1088.0 1552.9,1088.6 1553.4,1088.3 1553.9,1087.4 1554.4,1087.9 1554.9,1088.2 1555.4,1087.1 1555.9,1086.4 1556.4,1088.3 1556.9,1087.2 1557.4,1087.2 1557.9,1088.2 1558.4,1086.4 1558.9,1087.1 1559.4,1085.9 1559.9,1087.4 1560.4,1087.6 1560.9,1087.1 1561.4,1087.3 1561.9,1087.9 1562.4,1088.0 1562.9,1089.2 1563.4,1088.4 1563.9,1088.6 1564.4,1088.8 1564.9,1088.1 1565.4,1088.9 1565.9,1088.5 1566.4,1089.4 1566.9,1088.2 1567.4,1088.9 1567.9,1089.7 1568.4,1088.5 1568.9,1088.8 1569.4,1090.3 1569.9,1089.0 1570.4,1089.8 1570.9,1090.0 1571.4,1089.2 1571.9,1088.9 1572.4,1090.7 1572.9,1089.6 1573.4,1090.2 1573.9,1089.5 1574.4,1090.1 1574.9,1089.2 1575.4,1089.2 1575.9,1089.4 1576.4,1089.6 1576.9,1089.6 1577.4,1089.8 1577.9,1090.2 1578.4,1089.7 1578.9,1090.5 1579.4,1089.6 1579.9,1090.4 1580.4,1090.7 1580.9,1091.0 1581.4,1088.9 1581.9,1091.0 1582.4,1089.0 1582.9,1090.8 1583.4,1090.0 1583.9,1090.2 1584.4,1089.5 1584.9,1090.6 1585.4,1090.4 1585.9,1089.7 1586.4,1089.7 1586.9,1090.5 1587.4,1090.6 1587.9,1090.5 1588.4,1089.9 1588.9,1090.1 1589.4,1090.6 1589.9,1090.5 1590.4,1090.7 1590.9,1090.2 1591.4,1089.7 1591.9,1090.2 1592.4,1090.3 1592.9,1089.8 1593.4,1090.3 1593.9,1089.6 1594.4,1090.2 1594.9,1089.8 1595.4,1091.3 1595.9,1090.8 1596.4,1090.3 1596.9,1089.4 1597.4,1089.4 1597.9,1090.5 1598.4,1090.0 1598.9,1090.3 1599.4,1089.2 1599.9,1089.3 1600.4,1090.2 1600.9,1090.0 1601.4,1089.4 1601.9,1089.7 1602.4,1090.6 1602.9,1089.9 1603.4,1090.4 1603.9,1091.0 1604.4,1090.3 1604.9,1090.2 1605.4,1089.8 1605.9,1090.8 1606.4,1089.3 1606.9,1089.5" fill="none" stroke="#000000" stroke-width="4.9" stroke-linejoin="round"/>
</g>
<g clip-path="url(#cr)">
<polyline points="1693.0,453.7 1709.4,451.4 1728.7,451.4 1739.2,448.9 1755.6,448.9 1764.5,450.7 1779.4,449.2 1800.3,442.5 1821.1,443.2 1839.0,440.0 1868.8,436.1 1889.7,425.4 1903.1,420.1 1923.9,410.2 1940.3,406.7 1962.7,390.3 1974.6,384.4 1992.5,376.2 2008.9,370.2 2028.2,353.8 2032.7,352.4 2046.0,347.2 2063.1,356.8 2081.0,348.2 2097.4,366.5 2114.5,374.0 2132.4,379.9 2150.3,391.8 2168.1,400.0 2186.0,412.0 2218.8,427.6 2233.7,431.3 2259.0,438.8 2263.5,437.3 2290.3,438.0 2311.2,444.7 2337.0,446.8 2374.0,448.0 2379.7,448.8 2397.6,447.0" fill="none" stroke="#000088" stroke-width="5.3" stroke-linejoin="round"/>
<polyline points="1693.0,572.3 1706.4,570.8 1719.8,570.8 1727.3,572.3 1745.1,569.3 1764.5,568.4 1782.4,567.0 1801.8,567.0 1816.7,564.4 1834.5,562.9 1850.9,560.0 1868.8,560.0 1888.2,548.8 1904.6,539.1 1919.5,541.3 1924.0,539.8 1941.8,525.2 1958.2,520.5 1976.1,511.5 1994.0,498.1 2008.9,485.4 2028.2,485.4 2037.2,474.3 2046.0,463.1 2062.4,463.8 2080.2,458.6 2098.1,474.3 2116.0,480.2 2135.4,492.2 2151.8,490.7 2169.6,507.8 2187.5,518.2 2203.9,524.9 2221.8,538.3 2239.7,539.1 2259.0,548.8 2272.5,551.0 2293.3,557.0 2309.7,557.0 2327.6,562.9 2344.0,559.2 2361.9,565.9 2379.7,570.4 2397.6,565.2" fill="none" stroke="#008400" stroke-width="5.3" stroke-linejoin="round"/>
<polyline points="1693.0,701.6 1709.4,699.8 1730.2,700.1 1734.7,701.9 1752.6,701.6 1767.5,700.1 1783.9,699.3 1806.2,694.9 1824.1,691.1 1850.9,685.9 1870.3,685.9 1888.2,679.2 1903.1,677.7 1922.5,667.3 1940.3,651.6 1958.2,647.9 1974.6,630.0 1992.5,621.8 2008.9,599.5 2028.2,580.9 2037.2,577.1 2048.9,572.7 2065.3,569.2 2080.2,568.2 2098.1,576.4 2114.5,581.6 2132.4,585.3 2148.8,600.2 2166.7,619.6 2187.5,636.0 2203.9,644.9 2221.8,655.4 2247.1,665.8 2275.4,677.0 2290.3,677.7 2309.7,686.7 2330.6,686.7 2364.8,697.4 2379.7,697.8 2397.6,692.6" fill="none" stroke="#FF00FF" stroke-width="5.3" stroke-linejoin="round"/>
<polyline points="1693.0,826.5 1719.8,827.2 1727.3,829.1 1749.6,829.1 1764.5,826.5 1779.4,826.2 1812.2,820.5 1824.1,821.2 1850.9,821.2 1868.8,815.7 1889.7,810.1 1904.6,809.3 1922.5,798.1 1943.3,790.0 1956.7,789.2 1974.6,775.8 1992.5,757.9 2008.9,744.5 2026.8,729.6 2037.2,717.7 2048.9,704.4 2063.8,696.0 2081.0,682.8 2098.1,695.4 2116.0,702.0 2132.4,711.7 2151.8,722.9 2168.1,743.0 2187.5,754.9 2203.9,766.9 2221.8,778.0 2239.7,791.4 2256.1,793.7 2275.4,803.4 2293.3,812.3 2308.2,809.3 2327.6,819.0 2344.0,817.2 2360.4,819.8 2379.7,819.0 2397.6,823.5" fill="none" stroke="#0000FF" stroke-width="5.3" stroke-linejoin="round"/>
<polyline points="1693.0,951.2 1719.8,950.2 1728.7,951.7 1748.1,945.3 1779.4,945.3 1806.2,940.8 1831.6,937.8 1848.0,933.8 1867.3,929.3 1888.2,920.0 1903.1,919.5 1921.0,904.3 1938.8,897.6 1958.2,880.5 1973.1,873.8 1992.5,862.6 2008.9,847.7 2029.7,833.1 2046.4,823.7 2065.3,830.4 2080.2,832.8 2098.9,818.5 2116.0,832.0 2133.9,853.3 2150.3,854.4 2169.6,870.0 2187.5,879.0 2203.9,893.9 2220.3,902.8 2244.1,914.7 2259.4,921.2 2276.0,928.5 2294.0,929.6 2308.8,929.6 2327.6,939.7 2346.5,941.6 2360.6,942.3 2397.6,949.0" fill="none" stroke="#FF0000" stroke-width="5.3" stroke-linejoin="round"/>
<polyline points="1694.5,1088.4 1712.7,1088.4 1724.8,1085.4 1739.9,1085.4 1746.0,1087.7 1762.6,1086.1 1780.8,1080.8 1799.0,1083.1 1818.6,1075.5 1850.4,1068.7 1870.1,1060.4 1886.7,1056.6 1906.4,1042.3 1921.5,1030.1 1939.7,1016.5 1956.3,995.3 1970.0,981.7 1983.6,968.1 1994.2,956.0 2010.6,949.5 2028.6,923.0 2046.0,920.2 2062.6,931.5 2080.6,954.4 2098.6,963.0 2115.7,980.2 2132.3,998.4 2152.0,1024.1 2170.1,1033.9 2188.3,1052.8 2206.5,1061.2 2221.6,1066.5 2236.7,1069.5 2254.9,1076.3 2274.6,1076.3 2292.7,1083.9 2310.9,1084.6 2327.5,1089.2 2347.2,1084.6 2360.8,1086.1 2376.0,1089.9 2395.6,1089.9" fill="none" stroke="#000000" stroke-width="5.3" stroke-linejoin="round"/>
</g>
<line x1="2033.7" y1="341" x2="2033.7" y2="1178" stroke="#000" stroke-width="5" stroke-dasharray="24 24.94" stroke-dashoffset="16.5"/>
<g fill="none" stroke="#000" stroke-width="6" stroke-linejoin="bevel">
<rect x="110.4" y="22.3" width="1498.6" height="1157.7"/>
<rect x="1693.2" y="22.3" width="704.8" height="1157.4"/>
</g>
<path d="M110.4 1180.0V1208.0M324.5 1180.0V1208.0M538.6 1180.0V1208.0M752.7 1180.0V1208.0M966.7 1180.0V1208.0M1180.8 1180.0V1208.0M1394.9 1180.0V1208.0M1609.0 1180.0V1208.0M217.4 1180.0V1194.5M431.5 1180.0V1194.5M645.6 1180.0V1194.5M859.7 1180.0V1194.5M1073.8 1180.0V1194.5M1287.9 1180.0V1194.5M1502.0 1180.0V1194.5M1782.0 1179.7V1206.5M2046.2 1179.7V1206.5M2310.0 1179.7V1206.5M1914.0 1179.7V1193.0M2178.0 1179.7V1193.0" stroke="#000" stroke-width="6" stroke-linecap="round" fill="none"/>
<text x="110.4" y="1269.3" font-size="56" text-anchor="middle">10</text>
<text x="324.5" y="1269.3" font-size="56" text-anchor="middle">20</text>
<text x="538.6" y="1269.3" font-size="56" text-anchor="middle">30</text>
<text x="752.7" y="1269.3" font-size="56" text-anchor="middle">40</text>
<text x="966.7" y="1269.3" font-size="56" text-anchor="middle">50</text>
<text x="1180.8" y="1269.3" font-size="56" text-anchor="middle">60</text>
<text x="1394.9" y="1269.3" font-size="56" text-anchor="middle">70</text>
<text x="1609.0" y="1269.3" font-size="56" text-anchor="middle">80</text>
<text x="1780.5" y="1269" font-size="55.5" text-anchor="middle">31.8</text>
<text x="2044.5" y="1269" font-size="55.5" text-anchor="middle">32.1</text>
<text x="2308.5" y="1269" font-size="55.5" text-anchor="middle">32.4</text>
<text x="643.4" y="1356.4" font-size="68">2Theta(degree)</text>
<text transform="translate(64.7,733.7) rotate(-90)" font-size="70.5">Intensity(a.u)</text>
<text x="139.3" y="430.6" font-size="55">x=0.25</text>
<text x="138.6" y="546.0" font-size="55">x=0.20</text>
<text x="137.8" y="678.8" font-size="55">x=0.15</text>
<text x="134.8" y="799.7" font-size="55">x=0.10</text>
<text x="134.1" y="929.9" font-size="55">x=0.05</text>
<text x="138.4" y="1065.3" font-size="55">x=0</text>
<text transform="translate(393.2,367.9) rotate(-90)" font-size="46.5" text-anchor="middle">(101)</text>
<text transform="translate(596.3,268.6) rotate(-90)" font-size="46.5" text-anchor="middle">(121)</text>
<text transform="translate(755.6,357.4) rotate(-90)" font-size="46.5" text-anchor="middle">(220)</text>
<text transform="translate(895.6,349.9) rotate(-90)" font-size="46.5" text-anchor="middle">(202)</text>
<text transform="translate(1136.0,342.2) rotate(-90)" font-size="46.5" text-anchor="middle">(240)</text>
<text transform="translate(1351.0,365.4) rotate(-90)" font-size="46.5" text-anchor="middle">(242)</text>
<text transform="translate(1553.8,377.9) rotate(-90)" font-size="46.5" text-anchor="middle">(204)</text>
<text transform="translate(2075.1,260.4) rotate(-90)" font-size="46.5" text-anchor="middle">(121)</text>
<text x="656.5" y="399.5" font-size="55.0" text-anchor="middle" style="font-family:IPAGothic,sans-serif">*</text>
<text x="1033" y="136.4" font-size="80">La<tspan font-size="62" dy="22.6">1-</tspan><tspan font-size="64" font-style="italic">x</tspan><tspan dy="-22.6">Co</tspan><tspan font-size="64" font-style="italic" dy="22.6">x</tspan><tspan dy="-22.6">FeO</tspan><tspan font-size="62" dy="18" dx="-2.4">3</tspan></text>
<text x="1156.9" y="225.0" font-size="55.0" text-anchor="middle" style="font-family:IPAGothic,sans-serif">*</text>
<text x="1190" y="229" font-size="69">−<tspan dx="15">CoFe</tspan><tspan font-size="52" dy="29" dx="-0.4">2</tspan><tspan dy="-29" dx="1">O</tspan><tspan font-size="52" dy="23.3" dx="1">4</tspan></text>
</svg></body></html>
